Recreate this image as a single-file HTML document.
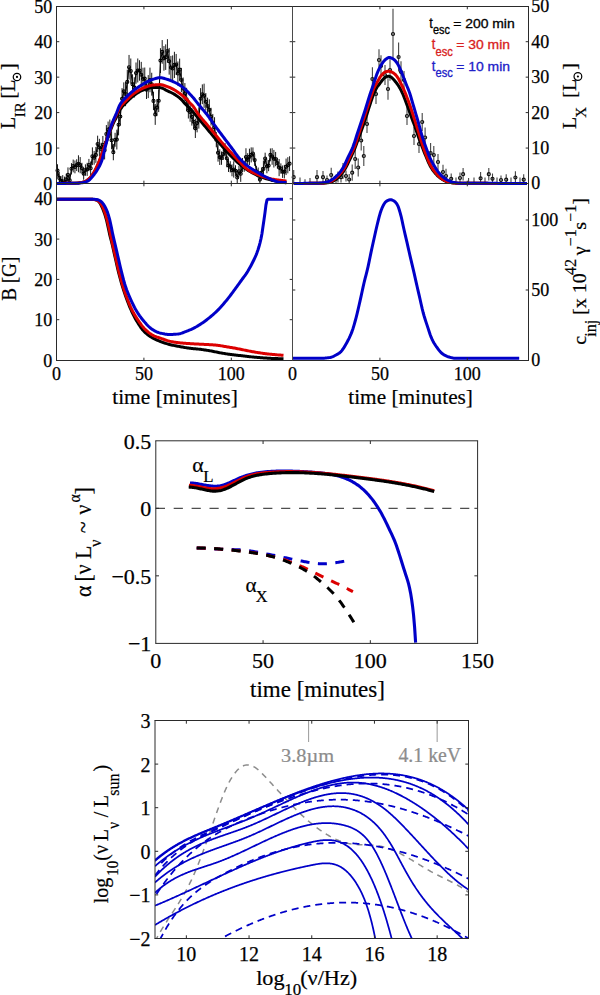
<!DOCTYPE html>
<html><head><meta charset="utf-8"><title>figure</title>
<style>html,body{margin:0;padding:0;background:#fff;overflow:hidden;width:600px;height:995px;} svg{display:block;}</style></head>
<body><svg width="600" height="995" viewBox="0 0 600 995">
<rect width="600" height="995" fill="#fff"/>
<path d="M57.5,164.25V176.6M59.24,171.88V183.5M60.99,175.86V183.5M62.73,175.11V183.5M64.48,176.61V183.5M66.22,173.77V183.5M67.97,167.42V182.02M69.71,175.26V183.5M71.46,163.14V174.47M73.2,159.59V172.35M74.95,160.51V173.34M76.69,159.27V171.06M78.44,155.29V172.26M80.18,157.07V173.26M81.93,162.81V173.59M83.67,167.62V179.72M85.42,164.33V175.81M87.16,162.82V175.92M88.91,158.91V171.21M90.65,161.51V175.08M92.4,147.38V165.13M94.14,150.92V164.69M95.89,146.92V162.87M97.63,135.67V152.32M99.38,138.81V156.23M101.12,142.72V155.11M102.87,135.98V153.61M104.61,140.91V159.43M106.36,125.07V142.78M108.1,121.55V137.47M109.85,119.56V138.27M111.59,131.4V149.25M113.34,143.99V160.27M115.08,132.81V146.71M116.83,129.7V149.47M118.57,114.26V135.38M120.32,107.42V125.61M122.06,88.15V109.31M123.81,82.36V100.34M125.55,81.74V106.18M127.3,69.69V94.13M129.04,54.94V79.55M130.79,58.49V83.61M132.53,74.3V94.04M134.28,77.29V97.56M136.02,62.49V83.76M137.77,58.48V82.48M139.51,60.24V80.68M141.26,61.86V87.56M143,67.73V89.95M144.75,67.52V89.64M146.49,80.39V99M148.24,75.1V98.12M149.98,67.63V92.25M151.73,72.75V95.62M153.47,91.69V110.14M155.22,103.94V124.89M156.96,99.02V116.13M158.71,89.47V112.09M160.45,48.16V73.04M162.2,40.07V63.76M163.94,46.06V70.68M165.69,44.36V69.93M167.43,39.18V62.74M169.18,47.94V74.63M170.92,55.92V78.98M172.67,55.4V81.69M174.41,51.79V78.04M176.16,53.95V75.04M177.9,61.46V85.52M179.65,58.64V80.7M181.39,67.9V92.07M183.14,77.52V99.35M184.88,83.06V103.79M186.63,87.79V111.02M188.37,102.3V118.5M190.12,102.17V121.76M191.86,108.13V125.6M193.61,114.28V129.19M195.35,118.67V138.01M197.1,113.84V132.35M198.84,107.25V128.62M200.59,88.13V109.32M202.33,84.38V104.17M204.08,83.67V107.9M205.82,93.03V110.51M207.57,97.65V114.26M209.31,99.34V120.38M211.06,107.79V125.59M212.8,113.95V131.1M214.55,117.22V137.53M216.29,132.05V147.24M218.04,143.76V161.63M219.78,149.31V165M221.53,151.44V164.8M223.27,148.1V159.96M225.02,142.95V156.55M226.76,149.38V167.24M228.51,158.81V171.98M230.25,161.19V172.49M232,164.34V176.27M233.74,161.31V177.58M235.49,165.25V176.19M237.23,170.17V183.5M238.98,165.98V176.65M240.72,165.58V181.86M242.47,157.98V172.08M244.21,161.25V171.75M245.96,148.24V165.97M247.7,153.16V166.55M249.45,148.67V165.01M251.19,147.36V162.42M252.94,147.43V159.58M254.68,154.29V165.88M256.43,165.85V176.62M258.17,167.55V178.25M259.92,174.97V183.5M261.66,167.51V177.44M263.41,160.55V177.22M265.15,152.7V164.34M266.9,159.47V173.27M268.64,160.05V171.18M270.39,148.44V161.32M272.13,148.2V164.79M273.88,149.91V167.52M275.62,151.94V166.2M277.37,157.81V168.39M279.11,159V176.16M280.86,163.36V173.69M282.6,165.51V177.94M284.35,164.89V178.39M286.09,158.58V175.06M287.84,157.19V173.34M289.58,156.24V171.03" stroke="#1a1a1a" stroke-width="1.0" fill="none"/>
<path d="M57.5,170.43 59.24,177.88 60.99,180.89 62.73,181.31 64.48,182.79 66.22,179.35 67.97,174.72 69.71,180.24 71.46,168.8 73.2,165.97 74.95,166.93 76.69,165.17 78.44,163.77 80.18,165.16 81.93,168.2 83.67,173.67 85.42,170.07 87.16,169.37 88.91,165.06 90.65,168.29 92.4,156.25 94.14,157.81 95.89,154.9 97.63,144 99.38,147.52 101.12,148.91 102.87,144.8 104.61,150.17 106.36,133.93 108.1,129.51 109.85,128.91 111.59,140.32 113.34,152.13 115.08,139.76 116.83,139.59 118.57,124.82 120.32,116.51 122.06,98.73 123.81,91.35 125.55,93.96 127.3,81.91 129.04,67.25 130.79,71.05 132.53,84.17 134.28,87.42 136.02,73.12 137.77,70.48 139.51,70.46 141.26,74.71 143,78.84 144.75,78.58 146.49,89.7 148.24,86.61 149.98,79.94 151.73,84.18 153.47,100.91 155.22,114.41 156.96,107.58 158.71,100.78 160.45,60.6 162.2,51.92 163.94,58.37 165.69,57.15 167.43,50.96 169.18,61.29 170.92,67.45 172.67,68.54 174.41,64.92 176.16,64.49 177.9,73.49 179.65,69.67 181.39,79.99 183.14,88.43 184.88,93.42 186.63,99.4 188.37,110.4 190.12,111.97 191.86,116.87 193.61,121.73 195.35,128.34 197.1,123.1 198.84,117.94 200.59,98.73 202.33,94.28 204.08,95.78 205.82,101.77 207.57,105.95 209.31,109.86 211.06,116.69 212.8,122.53 214.55,127.38 216.29,139.64 218.04,152.7 219.78,157.15 221.53,158.12 223.27,154.03 225.02,149.75 226.76,158.31 228.51,165.4 230.25,166.84 232,170.31 233.74,169.45 235.49,170.72 237.23,177.47 238.98,171.31 240.72,173.72 242.47,165.03 244.21,166.5 245.96,157.1 247.7,159.86 249.45,156.84 251.19,154.89 252.94,153.51 254.68,160.08 256.43,171.23 258.17,172.9 259.92,179.6 261.66,172.47 263.41,168.89 265.15,158.52 266.9,166.37 268.64,165.62 270.39,154.88 272.13,156.5 273.88,158.71 275.62,159.07 277.37,163.1 279.11,167.58 280.86,168.52 282.6,171.73 284.35,171.64 286.09,166.82 287.84,165.26 289.58,163.63" fill="none" stroke="#000" stroke-width="1.1" stroke-linejoin="round" />
<g fill="none" stroke="#000" stroke-width="1.1"><circle cx="57.5" cy="170.43" r="1.5"/><circle cx="59.24" cy="177.88" r="1.5"/><circle cx="60.99" cy="180.89" r="1.5"/><circle cx="62.73" cy="181.31" r="1.5"/><circle cx="64.48" cy="182.79" r="1.5"/><circle cx="66.22" cy="179.35" r="1.5"/><circle cx="67.97" cy="174.72" r="1.5"/><circle cx="69.71" cy="180.24" r="1.5"/><circle cx="71.46" cy="168.8" r="1.5"/><circle cx="73.2" cy="165.97" r="1.5"/><circle cx="74.95" cy="166.93" r="1.5"/><circle cx="76.69" cy="165.17" r="1.5"/><circle cx="78.44" cy="163.77" r="1.5"/><circle cx="80.18" cy="165.16" r="1.5"/><circle cx="81.93" cy="168.2" r="1.5"/><circle cx="83.67" cy="173.67" r="1.5"/><circle cx="85.42" cy="170.07" r="1.5"/><circle cx="87.16" cy="169.37" r="1.5"/><circle cx="88.91" cy="165.06" r="1.5"/><circle cx="90.65" cy="168.29" r="1.5"/><circle cx="92.4" cy="156.25" r="1.5"/><circle cx="94.14" cy="157.81" r="1.5"/><circle cx="95.89" cy="154.9" r="1.5"/><circle cx="97.63" cy="144" r="1.5"/><circle cx="99.38" cy="147.52" r="1.5"/><circle cx="101.12" cy="148.91" r="1.5"/><circle cx="102.87" cy="144.8" r="1.5"/><circle cx="104.61" cy="150.17" r="1.5"/><circle cx="106.36" cy="133.93" r="1.5"/><circle cx="108.1" cy="129.51" r="1.5"/><circle cx="109.85" cy="128.91" r="1.5"/><circle cx="111.59" cy="140.32" r="1.5"/><circle cx="113.34" cy="152.13" r="1.5"/><circle cx="115.08" cy="139.76" r="1.5"/><circle cx="116.83" cy="139.59" r="1.5"/><circle cx="118.57" cy="124.82" r="1.5"/><circle cx="120.32" cy="116.51" r="1.5"/><circle cx="122.06" cy="98.73" r="1.5"/><circle cx="123.81" cy="91.35" r="1.5"/><circle cx="125.55" cy="93.96" r="1.5"/><circle cx="127.3" cy="81.91" r="1.5"/><circle cx="129.04" cy="67.25" r="1.5"/><circle cx="130.79" cy="71.05" r="1.5"/><circle cx="132.53" cy="84.17" r="1.5"/><circle cx="134.28" cy="87.42" r="1.5"/><circle cx="136.02" cy="73.12" r="1.5"/><circle cx="137.77" cy="70.48" r="1.5"/><circle cx="139.51" cy="70.46" r="1.5"/><circle cx="141.26" cy="74.71" r="1.5"/><circle cx="143" cy="78.84" r="1.5"/><circle cx="144.75" cy="78.58" r="1.5"/><circle cx="146.49" cy="89.7" r="1.5"/><circle cx="148.24" cy="86.61" r="1.5"/><circle cx="149.98" cy="79.94" r="1.5"/><circle cx="151.73" cy="84.18" r="1.5"/><circle cx="153.47" cy="100.91" r="1.5"/><circle cx="155.22" cy="114.41" r="1.5"/><circle cx="156.96" cy="107.58" r="1.5"/><circle cx="158.71" cy="100.78" r="1.5"/><circle cx="160.45" cy="60.6" r="1.5"/><circle cx="162.2" cy="51.92" r="1.5"/><circle cx="163.94" cy="58.37" r="1.5"/><circle cx="165.69" cy="57.15" r="1.5"/><circle cx="167.43" cy="50.96" r="1.5"/><circle cx="169.18" cy="61.29" r="1.5"/><circle cx="170.92" cy="67.45" r="1.5"/><circle cx="172.67" cy="68.54" r="1.5"/><circle cx="174.41" cy="64.92" r="1.5"/><circle cx="176.16" cy="64.49" r="1.5"/><circle cx="177.9" cy="73.49" r="1.5"/><circle cx="179.65" cy="69.67" r="1.5"/><circle cx="181.39" cy="79.99" r="1.5"/><circle cx="183.14" cy="88.43" r="1.5"/><circle cx="184.88" cy="93.42" r="1.5"/><circle cx="186.63" cy="99.4" r="1.5"/><circle cx="188.37" cy="110.4" r="1.5"/><circle cx="190.12" cy="111.97" r="1.5"/><circle cx="191.86" cy="116.87" r="1.5"/><circle cx="193.61" cy="121.73" r="1.5"/><circle cx="195.35" cy="128.34" r="1.5"/><circle cx="197.1" cy="123.1" r="1.5"/><circle cx="198.84" cy="117.94" r="1.5"/><circle cx="200.59" cy="98.73" r="1.5"/><circle cx="202.33" cy="94.28" r="1.5"/><circle cx="204.08" cy="95.78" r="1.5"/><circle cx="205.82" cy="101.77" r="1.5"/><circle cx="207.57" cy="105.95" r="1.5"/><circle cx="209.31" cy="109.86" r="1.5"/><circle cx="211.06" cy="116.69" r="1.5"/><circle cx="212.8" cy="122.53" r="1.5"/><circle cx="214.55" cy="127.38" r="1.5"/><circle cx="216.29" cy="139.64" r="1.5"/><circle cx="218.04" cy="152.7" r="1.5"/><circle cx="219.78" cy="157.15" r="1.5"/><circle cx="221.53" cy="158.12" r="1.5"/><circle cx="223.27" cy="154.03" r="1.5"/><circle cx="225.02" cy="149.75" r="1.5"/><circle cx="226.76" cy="158.31" r="1.5"/><circle cx="228.51" cy="165.4" r="1.5"/><circle cx="230.25" cy="166.84" r="1.5"/><circle cx="232" cy="170.31" r="1.5"/><circle cx="233.74" cy="169.45" r="1.5"/><circle cx="235.49" cy="170.72" r="1.5"/><circle cx="237.23" cy="177.47" r="1.5"/><circle cx="238.98" cy="171.31" r="1.5"/><circle cx="240.72" cy="173.72" r="1.5"/><circle cx="242.47" cy="165.03" r="1.5"/><circle cx="244.21" cy="166.5" r="1.5"/><circle cx="245.96" cy="157.1" r="1.5"/><circle cx="247.7" cy="159.86" r="1.5"/><circle cx="249.45" cy="156.84" r="1.5"/><circle cx="251.19" cy="154.89" r="1.5"/><circle cx="252.94" cy="153.51" r="1.5"/><circle cx="254.68" cy="160.08" r="1.5"/><circle cx="256.43" cy="171.23" r="1.5"/><circle cx="258.17" cy="172.9" r="1.5"/><circle cx="259.92" cy="179.6" r="1.5"/><circle cx="261.66" cy="172.47" r="1.5"/><circle cx="263.41" cy="168.89" r="1.5"/><circle cx="265.15" cy="158.52" r="1.5"/><circle cx="266.9" cy="166.37" r="1.5"/><circle cx="268.64" cy="165.62" r="1.5"/><circle cx="270.39" cy="154.88" r="1.5"/><circle cx="272.13" cy="156.5" r="1.5"/><circle cx="273.88" cy="158.71" r="1.5"/><circle cx="275.62" cy="159.07" r="1.5"/><circle cx="277.37" cy="163.1" r="1.5"/><circle cx="279.11" cy="167.58" r="1.5"/><circle cx="280.86" cy="168.52" r="1.5"/><circle cx="282.6" cy="171.73" r="1.5"/><circle cx="284.35" cy="171.64" r="1.5"/><circle cx="286.09" cy="166.82" r="1.5"/><circle cx="287.84" cy="165.26" r="1.5"/><circle cx="289.58" cy="163.63" r="1.5"/></g>
<path d="M56.5,183.4 57.5,183.4 58.5,183.4 59.5,183.4 60.5,183.39 61.5,183.39 62.5,183.38 63.5,183.37 64.5,183.37 65.5,183.36 66.5,183.35 67.5,183.33 68.5,183.32 69.5,183.31 70.5,183.29 71.5,183.27 72.5,183.25 73.5,183.23 74.5,183.21 75.5,183.18 76.5,183.12 77.5,183.03 78.5,182.91 79.5,182.77 80.5,182.62 81.5,182.43 82.5,182.19 83.5,181.91 84.5,181.58 85.5,181.21 86.5,180.76 87.5,180.14 88.5,179.37 89.5,178.48 90.5,177.48 91.5,176.26 92.5,174.85 93.5,173.31 94.5,171.65 95.5,169.8 96.5,167.77 97.5,165.61 98.5,163.35 99.5,160.91 100.5,158.32 101.5,155.64 102.5,152.82 103.5,149.93 104.5,147.08 105.5,144.25 106.5,141.42 107.5,138.57 108.5,135.68 109.5,132.86 110.5,130.18 111.5,127.59 112.5,125.14 113.5,122.92 114.5,120.91 115.5,118.99 116.5,117 117.5,114.77 118.5,112.44 119.5,110.35 120.5,108.76 121.5,107.43 122.5,106.24 123.5,105.16 124.5,104.15 125.5,103.18 126.5,102.2 127.5,101.2 128.5,100.23 129.5,99.27 130.5,98.35 131.5,97.47 132.5,96.64 133.5,95.85 134.5,95.08 135.5,94.34 136.5,93.63 137.5,92.95 138.5,92.33 139.5,91.76 140.5,91.25 141.5,90.76 142.5,90.3 143.5,89.88 144.5,89.49 145.5,89.14 146.5,88.85 147.5,88.6 148.5,88.34 149.5,88.1 150.5,87.89 151.5,87.73 152.5,87.63 153.5,87.6 154.5,87.6 155.5,87.6 156.5,87.6 157.5,87.6 158.5,87.6 159.5,87.6 160.5,87.63 161.5,87.85 162.5,88.24 163.5,88.75 164.5,89.31 165.5,89.88 166.5,90.41 167.5,90.86 168.5,91.32 169.5,91.78 170.5,92.25 171.5,92.74 172.5,93.26 173.5,93.81 174.5,94.4 175.5,95.02 176.5,95.67 177.5,96.36 178.5,97.1 179.5,97.88 180.5,98.75 181.5,99.76 182.5,100.87 183.5,102.02 184.5,103.15 185.5,104.2 186.5,105.16 187.5,106.09 188.5,107.02 189.5,107.99 190.5,109.03 191.5,110.14 192.5,111.29 193.5,112.47 194.5,113.68 195.5,114.9 196.5,116.13 197.5,117.34 198.5,118.54 199.5,119.72 200.5,120.91 201.5,122.1 202.5,123.29 203.5,124.48 204.5,125.67 205.5,126.86 206.5,128.06 207.5,129.26 208.5,130.48 209.5,131.7 210.5,132.92 211.5,134.14 212.5,135.35 213.5,136.54 214.5,137.72 215.5,138.87 216.5,140.01 217.5,141.13 218.5,142.24 219.5,143.34 220.5,144.43 221.5,145.53 222.5,146.62 223.5,147.72 224.5,148.83 225.5,149.95 226.5,151.08 227.5,152.19 228.5,153.3 229.5,154.39 230.5,155.46 231.5,156.5 232.5,157.51 233.5,158.51 234.5,159.5 235.5,160.47 236.5,161.42 237.5,162.34 238.5,163.23 239.5,164.09 240.5,164.91 241.5,165.7 242.5,166.48 243.5,167.23 244.5,167.96 245.5,168.67 246.5,169.35 247.5,170 248.5,170.62 249.5,171.22 250.5,171.81 251.5,172.37 252.5,172.92 253.5,173.44 254.5,173.95 255.5,174.44 256.5,174.91 257.5,175.36 258.5,175.8 259.5,176.23 260.5,176.64 261.5,177.04 262.5,177.42 263.5,177.79 264.5,178.13 265.5,178.46 266.5,178.78 267.5,179.08 268.5,179.37 269.5,179.65 270.5,179.92 271.5,180.18 272.5,180.42 273.5,180.64 274.5,180.86 275.5,181.08 276.5,181.28 277.5,181.48 278.5,181.67 279.5,181.85 280.5,182.02 281.5,182.18 282.5,182.33 283.5,182.47 284.5,182.59 285.5,182.7 286.5,182.8" fill="none" stroke="#000" stroke-width="3" stroke-linejoin="round" />
<path d="M56.5,183.4 57.5,183.4 58.5,183.4 59.5,183.4 60.5,183.39 61.5,183.39 62.5,183.38 63.5,183.37 64.5,183.37 65.5,183.36 66.5,183.35 67.5,183.33 68.5,183.32 69.5,183.31 70.5,183.29 71.5,183.27 72.5,183.25 73.5,183.23 74.5,183.21 75.5,183.18 76.5,183.12 77.5,183.03 78.5,182.91 79.5,182.77 80.5,182.62 81.5,182.43 82.5,182.2 83.5,181.92 84.5,181.59 85.5,181.21 86.5,180.75 87.5,180.09 88.5,179.26 89.5,178.3 90.5,177.26 91.5,176.02 92.5,174.59 93.5,173.02 94.5,171.33 95.5,169.43 96.5,167.34 97.5,165.13 98.5,162.84 99.5,160.4 100.5,157.82 101.5,155.15 102.5,152.35 103.5,149.46 104.5,146.53 105.5,143.53 106.5,140.51 107.5,137.49 108.5,134.43 109.5,131.44 110.5,128.59 111.5,125.83 112.5,123.22 113.5,120.84 114.5,118.65 115.5,116.57 116.5,114.5 117.5,112.3 118.5,110.08 119.5,108.11 120.5,106.59 121.5,105.29 122.5,104.14 123.5,103.1 124.5,102.11 125.5,101.16 126.5,100.2 127.5,99.21 128.5,98.23 129.5,97.27 130.5,96.34 131.5,95.46 132.5,94.62 133.5,93.85 134.5,93.12 135.5,92.42 136.5,91.76 137.5,91.13 138.5,90.53 139.5,89.97 140.5,89.44 141.5,88.92 142.5,88.43 143.5,87.96 144.5,87.53 145.5,87.13 146.5,86.77 147.5,86.44 148.5,86.11 149.5,85.8 150.5,85.52 151.5,85.29 152.5,85.1 153.5,84.98 154.5,84.89 155.5,84.8 156.5,84.73 157.5,84.67 158.5,84.63 159.5,84.6 160.5,84.62 161.5,84.74 162.5,84.97 163.5,85.27 164.5,85.61 165.5,85.98 166.5,86.33 167.5,86.68 168.5,87.06 169.5,87.47 170.5,87.92 171.5,88.39 172.5,88.89 173.5,89.41 174.5,89.97 175.5,90.58 176.5,91.22 177.5,91.9 178.5,92.61 179.5,93.33 180.5,94.07 181.5,94.83 182.5,95.61 183.5,96.42 184.5,97.28 185.5,98.17 186.5,99.11 187.5,100.13 188.5,101.28 189.5,102.44 190.5,103.53 191.5,104.54 192.5,105.57 193.5,106.75 194.5,108.18 195.5,109.78 196.5,111.44 197.5,113.04 198.5,114.47 199.5,115.77 200.5,117.02 201.5,118.21 202.5,119.37 203.5,120.51 204.5,121.64 205.5,122.79 206.5,123.96 207.5,125.16 208.5,126.36 209.5,127.56 210.5,128.77 211.5,129.98 212.5,131.18 213.5,132.39 214.5,133.6 215.5,134.8 216.5,136.02 217.5,137.25 218.5,138.47 219.5,139.69 220.5,140.91 221.5,142.1 222.5,143.28 223.5,144.43 224.5,145.55 225.5,146.65 226.5,147.74 227.5,148.81 228.5,149.88 229.5,150.94 230.5,152.01 231.5,153.08 232.5,154.17 233.5,155.28 234.5,156.39 235.5,157.5 236.5,158.6 237.5,159.69 238.5,160.76 239.5,161.8 240.5,162.8 241.5,163.83 242.5,164.85 243.5,165.87 244.5,166.85 245.5,167.79 246.5,168.66 247.5,169.44 248.5,170.13 249.5,170.74 250.5,171.31 251.5,171.84 252.5,172.33 253.5,172.8 254.5,173.25 255.5,173.69 256.5,174.11 257.5,174.54 258.5,174.96 259.5,175.36 260.5,175.76 261.5,176.13 262.5,176.49 263.5,176.83 264.5,177.15 265.5,177.45 266.5,177.73 267.5,178 268.5,178.26 269.5,178.51 270.5,178.74 271.5,178.96 272.5,179.15 273.5,179.33 274.5,179.49 275.5,179.64 276.5,179.77 277.5,179.9 278.5,180.02 279.5,180.14 280.5,180.26 281.5,180.39 282.5,180.53 283.5,180.68 284.5,180.84 285.5,181.02 286.5,181.2" fill="none" stroke="#dc0000" stroke-width="3" stroke-linejoin="round" />
<path d="M56.5,183.4 57.5,183.4 58.5,183.4 59.5,183.4 60.5,183.4 61.5,183.39 62.5,183.39 63.5,183.39 64.5,183.38 65.5,183.38 66.5,183.37 67.5,183.37 68.5,183.36 69.5,183.35 70.5,183.34 71.5,183.34 72.5,183.33 73.5,183.32 74.5,183.31 75.5,183.29 76.5,183.26 77.5,183.21 78.5,183.14 79.5,183.06 80.5,182.96 81.5,182.86 82.5,182.73 83.5,182.55 84.5,182.31 85.5,182.01 86.5,181.66 87.5,181.24 88.5,180.68 89.5,179.85 90.5,178.82 91.5,177.66 92.5,176.43 93.5,175.2 94.5,173.95 95.5,172.6 96.5,171.15 97.5,169.57 98.5,167.86 99.5,166 100.5,163.92 101.5,161.49 102.5,158.46 103.5,154.28 104.5,150.11 105.5,146.22 106.5,142.3 107.5,138.14 108.5,134.2 109.5,130.79 110.5,127.69 111.5,124.87 112.5,122.24 113.5,119.78 114.5,117.49 115.5,115.29 116.5,113.03 117.5,110.51 118.5,107.82 119.5,105.43 120.5,103.71 121.5,102.29 122.5,101.04 123.5,99.92 124.5,98.89 125.5,97.9 126.5,96.9 127.5,95.89 128.5,94.92 129.5,93.97 130.5,93.06 131.5,92.19 132.5,91.35 133.5,90.54 134.5,89.77 135.5,89.04 136.5,88.33 137.5,87.65 138.5,86.98 139.5,86.32 140.5,85.68 141.5,85.03 142.5,84.4 143.5,83.78 144.5,83.19 145.5,82.63 146.5,82.1 147.5,81.61 148.5,81.12 149.5,80.66 150.5,80.22 151.5,79.81 152.5,79.45 153.5,79.14 154.5,78.84 155.5,78.53 156.5,78.24 157.5,78 158.5,77.82 159.5,77.71 160.5,77.71 161.5,77.82 162.5,78.01 163.5,78.25 164.5,78.54 165.5,78.85 166.5,79.14 167.5,79.44 168.5,79.77 169.5,80.13 170.5,80.51 171.5,80.92 172.5,81.35 173.5,81.79 174.5,82.25 175.5,82.74 176.5,83.25 177.5,83.8 178.5,84.37 179.5,84.98 180.5,85.63 181.5,86.33 182.5,87.08 183.5,87.88 184.5,88.73 185.5,89.6 186.5,90.51 187.5,91.49 188.5,92.55 189.5,93.66 190.5,94.73 191.5,95.8 192.5,96.89 193.5,98.04 194.5,99.27 195.5,100.56 196.5,101.88 197.5,103.19 198.5,104.45 199.5,105.66 200.5,106.83 201.5,108 202.5,109.15 203.5,110.31 204.5,111.49 205.5,112.69 206.5,113.94 207.5,115.25 208.5,116.6 209.5,118 210.5,119.42 211.5,120.85 212.5,122.28 213.5,123.71 214.5,125.11 215.5,126.48 216.5,127.84 217.5,129.18 218.5,130.52 219.5,131.85 220.5,133.18 221.5,134.51 222.5,135.84 223.5,137.17 224.5,138.49 225.5,139.82 226.5,141.14 227.5,142.46 228.5,143.78 229.5,145.09 230.5,146.41 231.5,147.74 232.5,149.08 233.5,150.46 234.5,151.87 235.5,153.27 236.5,154.65 237.5,155.99 238.5,157.26 239.5,158.45 240.5,159.53 241.5,160.56 242.5,161.55 243.5,162.5 244.5,163.41 245.5,164.27 246.5,165.1 247.5,165.89 248.5,166.65 249.5,167.36 250.5,168.04 251.5,168.68 252.5,169.3 253.5,169.91 254.5,170.5 255.5,171.09 256.5,171.68 257.5,172.28 258.5,172.87 259.5,173.46 260.5,174.04 261.5,174.61 262.5,175.17 263.5,175.72 264.5,176.24 265.5,176.75 266.5,177.26 267.5,177.76 268.5,178.25 269.5,178.73 270.5,179.18 271.5,179.61 272.5,180.01 273.5,180.37 274.5,180.72 275.5,181.08 276.5,181.41 277.5,181.71 278.5,181.96 279.5,182.14 280.5,182.25 281.5,182.34 282.5,182.43 283.5,182.5 284.5,182.55 285.5,182.59 286.5,182.6" fill="none" stroke="#0000c8" stroke-width="3" stroke-linejoin="round" />
<path d="M293.7,170V183.5M300,177.4V183.5M305,179.3V183.5M310,177.9V183.5M317,170V183.5M323,170.9V183.5M327,175.5V183.5M331.2,167.8V182.2M336,174.5V183.5M338,171.6V182.4M341,171.8V182.6M343,162.9V179.1M346,170.6V181.4M349.2,174.1V183.5M352.2,164.6V180.8M355.2,149.1V168.9M358.2,158.5V176.5M361.2,130.6V150.4M363.8,146.1V165.9M367,115V133M372.4,67.3V90.7M376,84.1V103.9M379,49.2V70.8M381,55.2V76.8M385,65.1V84.9M388,78.2V99.8M390,59.2V80.8M393,8.8V59.2M398.6,42.6V71.4M401,61.2V82.8M404,71V89M407,107V125M414,127V145M419,135V153M422.2,113V131M425.1,127.6V147.4M430.6,143.1V162.9M433.8,146V164M438,153.9V170.1M443,164.8V179.2M446,168.8V183.2M451.2,173.4V183.5M456,177.4V183.5M460,172.6V183.4M463.1,167.9V180.5M468.6,178V183.5M474,177.4V183.5M480.6,172V183.5M485,177.4V183.5M488.8,167.9V180.5M492.5,173.4V183.5M497,177.4V183.5M501,175.5V183.5M506.2,174.3V183.5M511,177.4V183.5M515.4,171.2V183.5M520,177.4V183.5M523.7,174.3V183.5" stroke="#444" stroke-width="1.1" fill="none"/>
<g fill="none" stroke="#111" stroke-width="1.2"><circle cx="293.7" cy="177.2" r="1.5"/><circle cx="317" cy="177.2" r="1.5"/><circle cx="323" cy="177.2" r="1.5"/><circle cx="327" cy="180" r="1.5"/><circle cx="331.2" cy="175" r="1.5"/><circle cx="336" cy="179" r="1.5"/><circle cx="338" cy="177" r="1.5"/><circle cx="341" cy="177.2" r="1.5"/><circle cx="343" cy="171" r="1.5"/><circle cx="346" cy="176" r="1.5"/><circle cx="349.2" cy="179.5" r="1.5"/><circle cx="352.2" cy="172.7" r="1.5"/><circle cx="355.2" cy="159" r="1.5"/><circle cx="358.2" cy="167.5" r="1.5"/><circle cx="361.2" cy="140.5" r="1.5"/><circle cx="363.8" cy="156" r="1.5"/><circle cx="367" cy="124" r="1.5"/><circle cx="372.4" cy="79" r="1.5"/><circle cx="376" cy="94" r="1.5"/><circle cx="379" cy="60" r="1.5"/><circle cx="381" cy="66" r="1.5"/><circle cx="385" cy="75" r="1.5"/><circle cx="388" cy="89" r="1.5"/><circle cx="390" cy="70" r="1.5"/><circle cx="393" cy="34" r="1.5"/><circle cx="398.6" cy="57" r="1.5"/><circle cx="401" cy="72" r="1.5"/><circle cx="404" cy="80" r="1.5"/><circle cx="407" cy="116" r="1.5"/><circle cx="414" cy="136" r="1.5"/><circle cx="419" cy="144" r="1.5"/><circle cx="422.2" cy="122" r="1.5"/><circle cx="425.1" cy="137.5" r="1.5"/><circle cx="430.6" cy="153" r="1.5"/><circle cx="433.8" cy="155" r="1.5"/><circle cx="438" cy="162" r="1.5"/><circle cx="443" cy="172" r="1.5"/><circle cx="446" cy="176" r="1.5"/><circle cx="451.2" cy="178.8" r="1.5"/><circle cx="460" cy="178" r="1.5"/><circle cx="463.1" cy="174.2" r="1.5"/><circle cx="480.6" cy="178.3" r="1.5"/><circle cx="488.8" cy="174.2" r="1.5"/><circle cx="492.5" cy="178.8" r="1.5"/><circle cx="501" cy="180" r="1.5"/><circle cx="506.2" cy="179.7" r="1.5"/><circle cx="515.4" cy="177.5" r="1.5"/><circle cx="523.7" cy="179.7" r="1.5"/></g>
<path d="M293.8,183.4 294.8,183.4 295.8,183.4 296.8,183.4 297.8,183.4 298.8,183.4 299.81,183.4 300.81,183.4 301.81,183.39 302.81,183.39 303.81,183.39 304.81,183.39 305.81,183.39 306.81,183.38 307.81,183.38 308.81,183.38 309.81,183.37 310.81,183.37 311.82,183.36 312.82,183.36 313.82,183.35 314.82,183.35 315.82,183.34 316.82,183.34 317.82,183.33 318.82,183.32 319.82,183.32 320.82,183.31 321.82,183.3 322.82,183.28 323.83,183.22 324.83,183.13 325.83,183.01 326.83,182.86 327.83,182.69 328.83,182.49 329.83,182.27 330.83,182.04 331.83,181.74 332.83,181.3 333.83,180.75 334.84,180.1 335.84,179.38 336.84,178.62 337.84,177.81 338.84,176.88 339.84,175.84 340.84,174.69 341.84,173.45 342.84,172.12 343.84,170.73 344.84,169.19 345.84,167.44 346.85,165.52 347.85,163.48 348.85,161.4 349.85,159.31 350.85,157.25 351.85,155.15 352.85,152.98 353.85,150.73 354.85,148.36 355.85,145.81 356.85,143.06 357.85,140.22 358.86,137.4 359.86,134.66 360.86,131.95 361.86,129.21 362.86,126.4 363.86,123.5 364.86,120.52 365.86,117.49 366.86,114.42 367.86,111.3 368.86,108.1 369.87,104.94 370.87,101.9 371.87,98.92 372.87,96.11 373.87,93.6 374.87,91.24 375.87,89.14 376.87,87.4 377.87,85.99 378.87,84.73 379.87,83.47 380.87,82.11 381.88,80.76 382.88,79.56 383.88,78.43 384.88,77.57 385.88,77.03 386.88,76.59 387.88,76.33 388.88,76.34 389.88,76.58 390.88,76.95 391.88,77.64 392.88,78.74 393.89,79.83 394.89,80.97 395.89,82.2 396.89,83.52 397.89,84.93 398.89,86.45 399.89,88.11 400.89,89.96 401.89,92.03 402.89,94.26 403.89,96.67 404.9,99.29 405.9,101.95 406.9,104.63 407.9,107.35 408.9,110.11 409.9,112.92 410.9,115.73 411.9,118.45 412.9,121.12 413.9,123.81 414.9,126.57 415.9,129.46 416.91,132.4 417.91,135.32 418.91,138.13 419.91,140.89 420.91,143.6 421.91,146.24 422.91,148.83 423.91,151.38 424.91,153.86 425.91,156.29 426.91,158.72 427.92,161.15 428.92,163.43 429.92,165.41 430.92,167.17 431.92,168.8 432.92,170.3 433.92,171.67 434.92,172.91 435.92,174.04 436.92,175.08 437.92,176.05 438.92,176.93 439.93,177.72 440.93,178.45 441.93,179.14 442.93,179.79 443.93,180.38 444.93,180.88 445.93,181.28 446.93,181.6 447.93,181.9 448.93,182.17 449.93,182.41 450.93,182.61 451.94,182.78 452.94,182.89 453.94,182.98 454.94,183.07 455.94,183.14 456.94,183.2 457.94,183.25 458.94,183.28 459.94,183.3 460.94,183.3 461.94,183.31 462.95,183.31 463.95,183.31 464.95,183.32 465.95,183.32 466.95,183.32 467.95,183.33 468.95,183.33 469.95,183.33 470.95,183.34 471.95,183.34 472.95,183.34 473.95,183.35 474.96,183.35 475.96,183.35 476.96,183.35 477.96,183.36 478.96,183.36 479.96,183.36 480.96,183.36 481.96,183.36 482.96,183.37 483.96,183.37 484.96,183.37 485.96,183.37 486.97,183.37 487.97,183.37 488.97,183.38 489.97,183.38 490.97,183.38 491.97,183.38 492.97,183.38 493.97,183.38 494.97,183.38 495.97,183.39 496.97,183.39 497.98,183.39 498.98,183.39 499.98,183.39 500.98,183.39 501.98,183.39 502.98,183.39 503.98,183.39 504.98,183.39 505.98,183.39 506.98,183.39 507.98,183.4 508.98,183.4 509.99,183.4 510.99,183.4 511.99,183.4 512.99,183.4 513.99,183.4 514.99,183.4 515.99,183.4 516.99,183.4 517.99,183.4 518.99,183.4 519.99,183.4 520.99,183.4 522,183.4 523,183.4 524,183.4 525,183.4 526,183.4 527,183.4" fill="none" stroke="#000" stroke-width="3" stroke-linejoin="round" />
<path d="M293.8,183.4 294.8,183.4 295.8,183.4 296.8,183.4 297.8,183.4 298.8,183.4 299.81,183.4 300.81,183.39 301.81,183.39 302.81,183.39 303.81,183.39 304.81,183.39 305.81,183.38 306.81,183.38 307.81,183.38 308.81,183.37 309.81,183.37 310.81,183.36 311.82,183.36 312.82,183.35 313.82,183.35 314.82,183.34 315.82,183.33 316.82,183.33 317.82,183.32 318.82,183.31 319.82,183.3 320.82,183.28 321.82,183.23 322.82,183.14 323.83,183.03 324.83,182.89 325.83,182.72 326.83,182.53 327.83,182.32 328.83,182.09 329.83,181.84 330.83,181.51 331.83,181 332.83,180.34 333.83,179.59 334.84,178.77 335.84,177.94 336.84,177.09 337.84,176.18 338.84,175.19 339.84,174.13 340.84,172.99 341.84,171.76 342.84,170.43 343.84,168.98 344.84,167.27 345.84,165.31 346.85,163.19 347.85,160.98 348.85,158.79 349.85,156.68 350.85,154.64 351.85,152.6 352.85,150.49 353.85,148.23 354.85,145.74 355.85,142.9 356.85,139.78 357.85,136.6 358.86,133.53 359.86,130.53 360.86,127.53 361.86,124.53 362.86,121.52 363.86,118.5 364.86,115.48 365.86,112.45 366.86,109.4 367.86,106.3 368.86,103.19 369.87,100.12 370.87,97.08 371.87,93.94 372.87,90.91 373.87,88.3 374.87,86.22 375.87,84.45 376.87,82.78 377.87,81.03 378.87,79.18 379.87,77.44 380.87,75.99 381.88,74.72 382.88,73.66 383.88,72.86 384.88,72.18 385.88,71.73 386.88,71.51 387.88,71.35 388.88,71.3 389.88,71.44 390.88,71.76 391.88,72.15 392.88,72.63 393.89,73.3 394.89,74.1 395.89,75.1 396.89,76.38 397.89,77.83 398.89,79.52 399.89,81.47 400.89,83.48 401.89,85.47 402.89,87.53 403.89,89.71 404.9,92.1 405.9,94.63 406.9,97.2 407.9,99.8 408.9,102.47 409.9,105.28 410.9,108.21 411.9,111.22 412.9,114.33 413.9,117.49 414.9,120.64 415.9,123.78 416.91,126.94 417.91,130.11 418.91,133.32 419.91,136.63 420.91,139.94 421.91,143.12 422.91,146.09 423.91,148.92 424.91,151.65 425.91,154.28 426.91,156.88 427.92,159.44 428.92,161.83 429.92,163.93 430.92,165.78 431.92,167.51 432.92,169.1 433.92,170.56 434.92,171.9 435.92,173.15 436.92,174.32 437.92,175.4 438.92,176.38 439.93,177.24 440.93,178.01 441.93,178.74 442.93,179.42 443.93,180.02 444.93,180.55 445.93,180.97 446.93,181.33 447.93,181.66 448.93,181.97 449.93,182.24 450.93,182.47 451.94,182.65 452.94,182.79 453.94,182.9 454.94,183.01 455.94,183.1 456.94,183.18 457.94,183.24 458.94,183.28 459.94,183.3 460.94,183.3 461.94,183.31 462.95,183.31 463.95,183.31 464.95,183.32 465.95,183.32 466.95,183.33 467.95,183.33 468.95,183.33 469.95,183.33 470.95,183.34 471.95,183.34 472.95,183.34 473.95,183.35 474.96,183.35 475.96,183.35 476.96,183.35 477.96,183.36 478.96,183.36 479.96,183.36 480.96,183.36 481.96,183.36 482.96,183.37 483.96,183.37 484.96,183.37 485.96,183.37 486.97,183.37 487.97,183.38 488.97,183.38 489.97,183.38 490.97,183.38 491.97,183.38 492.97,183.38 493.97,183.38 494.97,183.38 495.97,183.39 496.97,183.39 497.98,183.39 498.98,183.39 499.98,183.39 500.98,183.39 501.98,183.39 502.98,183.39 503.98,183.39 504.98,183.39 505.98,183.39 506.98,183.4 507.98,183.4 508.98,183.4 509.99,183.4 510.99,183.4 511.99,183.4 512.99,183.4 513.99,183.4 514.99,183.4 515.99,183.4 516.99,183.4 517.99,183.4 518.99,183.4 519.99,183.4 520.99,183.4 522,183.4 523,183.4 524,183.4 525,183.4 526,183.4 527,183.4" fill="none" stroke="#dc0000" stroke-width="3" stroke-linejoin="round" />
<path d="M293.8,183.4 294.8,183.4 295.8,183.4 296.8,183.4 297.8,183.4 298.8,183.39 299.81,183.39 300.81,183.39 301.81,183.38 302.81,183.38 303.81,183.37 304.81,183.36 305.81,183.36 306.81,183.35 307.81,183.34 308.81,183.33 309.81,183.32 310.81,183.31 311.82,183.29 312.82,183.28 313.82,183.27 314.82,183.25 315.82,183.24 316.82,183.22 317.82,183.2 318.82,183.18 319.82,183.12 320.82,183.04 321.82,182.94 322.82,182.82 323.83,182.68 324.83,182.53 325.83,182.34 326.83,182.06 327.83,181.72 328.83,181.32 329.83,180.88 330.83,180.38 331.83,179.78 332.83,179.1 333.83,178.33 334.84,177.51 335.84,176.65 336.84,175.73 337.84,174.72 338.84,173.63 339.84,172.43 340.84,171.14 341.84,169.73 342.84,168.14 343.84,166.29 344.84,164.24 345.84,162.08 346.85,159.88 347.85,157.72 348.85,155.66 349.85,153.63 350.85,151.56 351.85,149.38 352.85,147.02 353.85,144.37 354.85,141.36 355.85,138.2 356.85,135.05 357.85,132.03 358.86,129.03 359.86,126.03 360.86,123.03 361.86,120.03 362.86,117.04 363.86,114.02 364.86,110.95 365.86,107.75 366.86,104.42 367.86,101.08 368.86,97.84 369.87,94.78 370.87,91.83 371.87,88.95 372.87,86.07 373.87,83.1 374.87,80.01 375.87,76.95 376.87,74.09 377.87,71.6 378.87,69.39 379.87,67.35 380.87,65.53 381.88,63.94 382.88,62.47 383.88,61.14 384.88,60.03 385.88,59.21 386.88,58.47 387.88,57.85 388.88,57.52 389.88,57.56 390.88,57.83 391.88,58.25 392.88,58.74 393.89,59.39 394.89,60.32 395.89,61.47 396.89,62.75 397.89,64.33 398.89,66.22 399.89,68.27 400.89,70.52 401.89,73.04 402.89,75.66 403.89,78.23 404.9,80.85 405.9,83.47 406.9,85.97 407.9,88.35 408.9,90.87 409.9,93.78 410.9,97.05 411.9,100.47 412.9,103.85 413.9,107.27 414.9,110.7 415.9,114.09 416.91,117.48 417.91,120.92 418.91,124.47 419.91,128.21 420.91,131.98 421.91,135.54 422.91,138.73 423.91,141.68 424.91,144.49 425.91,147.26 426.91,150.06 427.92,152.86 428.92,155.5 429.92,157.86 430.92,159.95 431.92,161.87 432.92,163.66 433.92,165.37 434.92,167.03 435.92,168.64 436.92,170.16 437.92,171.58 438.92,172.85 439.93,174.01 440.93,175.09 441.93,176.07 442.93,176.94 443.93,177.73 444.93,178.46 445.93,179.13 446.93,179.74 447.93,180.27 448.93,180.74 449.93,181.19 450.93,181.59 451.94,181.92 452.94,182.19 453.94,182.4 454.94,182.6 455.94,182.79 456.94,182.95 457.94,183.07 458.94,183.16 459.94,183.2 460.94,183.21 461.94,183.21 462.95,183.22 463.95,183.23 464.95,183.24 465.95,183.24 466.95,183.25 467.95,183.26 468.95,183.26 469.95,183.27 470.95,183.27 471.95,183.28 472.95,183.29 473.95,183.29 474.96,183.3 475.96,183.3 476.96,183.31 477.96,183.31 478.96,183.32 479.96,183.32 480.96,183.32 481.96,183.33 482.96,183.33 483.96,183.34 484.96,183.34 485.96,183.34 486.97,183.35 487.97,183.35 488.97,183.35 489.97,183.36 490.97,183.36 491.97,183.36 492.97,183.36 493.97,183.37 494.97,183.37 495.97,183.37 496.97,183.37 497.98,183.38 498.98,183.38 499.98,183.38 500.98,183.38 501.98,183.38 502.98,183.38 503.98,183.39 504.98,183.39 505.98,183.39 506.98,183.39 507.98,183.39 508.98,183.39 509.99,183.39 510.99,183.39 511.99,183.39 512.99,183.4 513.99,183.4 514.99,183.4 515.99,183.4 516.99,183.4 517.99,183.4 518.99,183.4 519.99,183.4 520.99,183.4 522,183.4 523,183.4 524,183.4 525,183.4 526,183.4 527,183.4" fill="none" stroke="#0000c8" stroke-width="3" stroke-linejoin="round" />
<path d="M56.5,199.3 57.5,199.3 58.5,199.3 59.5,199.3 60.5,199.3 61.5,199.3 62.5,199.3 63.5,199.3 64.5,199.3 65.5,199.3 66.5,199.3 67.5,199.3 68.5,199.3 69.5,199.3 70.5,199.3 71.5,199.3 72.5,199.3 73.5,199.3 74.5,199.3 75.5,199.3 76.5,199.3 77.5,199.3 78.5,199.3 79.5,199.3 80.5,199.3 81.5,199.3 82.5,199.3 83.5,199.3 84.5,199.3 85.5,199.3 86.5,199.3 87.5,199.3 88.5,199.3 89.5,199.3 90.5,199.3 91.5,199.3 92.5,199.31 93.5,199.38 94.5,199.51 95.5,199.7 96.5,199.96 97.5,200.52 98.5,201.33 99.5,202.39 100.5,204.04 101.5,206 102.5,208.17 103.5,210.66 104.5,213.41 105.5,216.49 106.5,220 107.5,224.29 108.5,229 109.5,233.79 110.5,237.85 111.5,241.58 112.5,245.77 113.5,250.16 114.5,254.56 115.5,259 116.5,263.52 117.5,267.92 118.5,272.02 119.5,275.95 120.5,279.72 121.5,283.3 122.5,286.65 123.5,289.82 124.5,292.83 125.5,295.72 126.5,298.5 127.5,301.2 128.5,303.83 129.5,306.35 130.5,308.75 131.5,311 132.5,313.12 133.5,315.15 134.5,317.08 135.5,318.92 136.5,320.66 137.5,322.32 138.5,323.95 139.5,325.53 140.5,327.03 141.5,328.43 142.5,329.7 143.5,330.82 144.5,331.85 145.5,332.81 146.5,333.71 147.5,334.55 148.5,335.32 149.5,336.03 150.5,336.69 151.5,337.3 152.5,337.87 153.5,338.4 154.5,338.9 155.5,339.38 156.5,339.84 157.5,340.28 158.5,340.72 159.5,341.14 160.5,341.55 161.5,341.94 162.5,342.32 163.5,342.68 164.5,343.03 165.5,343.35 166.5,343.65 167.5,343.93 168.5,344.2 169.5,344.46 170.5,344.71 171.5,344.94 172.5,345.17 173.5,345.39 174.5,345.61 175.5,345.81 176.5,346.01 177.5,346.2 178.5,346.38 179.5,346.56 180.5,346.74 181.5,346.91 182.5,347.09 183.5,347.26 184.5,347.44 185.5,347.61 186.5,347.78 187.5,347.94 188.5,348.1 189.5,348.24 190.5,348.36 191.5,348.47 192.5,348.58 193.5,348.67 194.5,348.76 195.5,348.85 196.5,348.94 197.5,349.03 198.5,349.13 199.5,349.24 200.5,349.36 201.5,349.49 202.5,349.62 203.5,349.76 204.5,349.91 205.5,350.06 206.5,350.22 207.5,350.38 208.5,350.55 209.5,350.71 210.5,350.89 211.5,351.07 212.5,351.27 213.5,351.47 214.5,351.68 215.5,351.89 216.5,352.09 217.5,352.28 218.5,352.47 219.5,352.66 220.5,352.85 221.5,353.03 222.5,353.21 223.5,353.39 224.5,353.56 225.5,353.72 226.5,353.88 227.5,354.02 228.5,354.16 229.5,354.3 230.5,354.43 231.5,354.56 232.5,354.68 233.5,354.81 234.5,354.93 235.5,355.05 236.5,355.17 237.5,355.28 238.5,355.39 239.5,355.5 240.5,355.61 241.5,355.72 242.5,355.83 243.5,355.94 244.5,356.06 245.5,356.17 246.5,356.29 247.5,356.41 248.5,356.53 249.5,356.65 250.5,356.77 251.5,356.88 252.5,356.98 253.5,357.08 254.5,357.17 255.5,357.27 256.5,357.36 257.5,357.45 258.5,357.53 259.5,357.61 260.5,357.69 261.5,357.76 262.5,357.84 263.5,357.9 264.5,357.97 265.5,358.04 266.5,358.1 267.5,358.16 268.5,358.22 269.5,358.28 270.5,358.33 271.5,358.38 272.5,358.42 273.5,358.47 274.5,358.51 275.5,358.55 276.5,358.59 277.5,358.62 278.5,358.66 279.5,358.69 280.5,358.72 281.5,358.75 282.5,358.78 283.5,358.8" fill="none" stroke="#000" stroke-width="3" stroke-linejoin="round" />
<path d="M56.5,199.3 57.5,199.3 58.5,199.3 59.5,199.3 60.5,199.3 61.5,199.3 62.5,199.3 63.5,199.3 64.5,199.3 65.5,199.3 66.5,199.3 67.5,199.3 68.5,199.3 69.5,199.3 70.5,199.3 71.5,199.3 72.5,199.3 73.5,199.3 74.5,199.3 75.5,199.3 76.5,199.3 77.5,199.3 78.5,199.3 79.5,199.3 80.5,199.3 81.5,199.3 82.5,199.3 83.5,199.3 84.5,199.3 85.5,199.3 86.5,199.3 87.5,199.3 88.5,199.3 89.5,199.3 90.5,199.3 91.5,199.3 92.5,199.31 93.5,199.38 94.5,199.52 95.5,199.7 96.5,199.94 97.5,200.43 98.5,201.11 99.5,201.95 100.5,203.15 101.5,204.66 102.5,206.46 103.5,208.82 104.5,211.5 105.5,214.42 106.5,217.71 107.5,221.44 108.5,225.76 109.5,230.29 110.5,235 111.5,239.55 112.5,243.95 113.5,248.25 114.5,252.52 115.5,256.84 116.5,261.24 117.5,265.61 118.5,269.8 119.5,273.79 120.5,277.69 121.5,281.4 122.5,284.87 123.5,288.08 124.5,291.1 125.5,293.97 126.5,296.71 127.5,299.34 128.5,301.92 129.5,304.4 130.5,306.77 131.5,308.97 132.5,310.98 133.5,312.85 134.5,314.61 135.5,316.27 136.5,317.85 137.5,319.37 138.5,320.84 139.5,322.28 140.5,323.7 141.5,325.07 142.5,326.37 143.5,327.59 144.5,328.7 145.5,329.69 146.5,330.61 147.5,331.49 148.5,332.33 149.5,333.11 150.5,333.83 151.5,334.49 152.5,335.08 153.5,335.6 154.5,336.05 155.5,336.45 156.5,336.82 157.5,337.16 158.5,337.49 159.5,337.83 160.5,338.18 161.5,338.54 162.5,338.91 163.5,339.28 164.5,339.64 165.5,339.99 166.5,340.33 167.5,340.65 168.5,340.93 169.5,341.19 170.5,341.41 171.5,341.61 172.5,341.81 173.5,341.99 174.5,342.17 175.5,342.33 176.5,342.48 177.5,342.61 178.5,342.74 179.5,342.85 180.5,342.95 181.5,343.04 182.5,343.12 183.5,343.19 184.5,343.26 185.5,343.32 186.5,343.38 187.5,343.45 188.5,343.51 189.5,343.57 190.5,343.63 191.5,343.7 192.5,343.76 193.5,343.82 194.5,343.88 195.5,343.94 196.5,344 197.5,344.06 198.5,344.12 199.5,344.17 200.5,344.23 201.5,344.28 202.5,344.33 203.5,344.37 204.5,344.42 205.5,344.46 206.5,344.51 207.5,344.56 208.5,344.61 209.5,344.67 210.5,344.73 211.5,344.8 212.5,344.86 213.5,344.94 214.5,345.01 215.5,345.1 216.5,345.19 217.5,345.29 218.5,345.41 219.5,345.55 220.5,345.71 221.5,345.88 222.5,346.06 223.5,346.24 224.5,346.42 225.5,346.58 226.5,346.75 227.5,346.91 228.5,347.07 229.5,347.24 230.5,347.4 231.5,347.57 232.5,347.74 233.5,347.91 234.5,348.09 235.5,348.27 236.5,348.47 237.5,348.66 238.5,348.87 239.5,349.07 240.5,349.28 241.5,349.49 242.5,349.7 243.5,349.9 244.5,350.1 245.5,350.3 246.5,350.5 247.5,350.7 248.5,350.9 249.5,351.1 250.5,351.29 251.5,351.48 252.5,351.66 253.5,351.84 254.5,352.02 255.5,352.19 256.5,352.36 257.5,352.52 258.5,352.68 259.5,352.84 260.5,352.99 261.5,353.13 262.5,353.27 263.5,353.4 264.5,353.53 265.5,353.66 266.5,353.78 267.5,353.9 268.5,354.01 269.5,354.12 270.5,354.22 271.5,354.32 272.5,354.42 273.5,354.51 274.5,354.6 275.5,354.69 276.5,354.78 277.5,354.87 278.5,354.95 279.5,355.02 280.5,355.1 281.5,355.17 282.5,355.24 283.5,355.3" fill="none" stroke="#dc0000" stroke-width="3" stroke-linejoin="round" />
<path d="M56.5,199.3 57.5,199.3 58.5,199.3 59.51,199.3 60.51,199.3 61.51,199.3 62.51,199.3 63.52,199.3 64.52,199.3 65.52,199.3 66.52,199.3 67.52,199.3 68.53,199.3 69.53,199.3 70.53,199.3 71.53,199.3 72.54,199.3 73.54,199.3 74.54,199.3 75.54,199.3 76.54,199.3 77.55,199.3 78.55,199.3 79.55,199.3 80.55,199.3 81.56,199.3 82.56,199.3 83.56,199.3 84.56,199.3 85.56,199.3 86.57,199.3 87.57,199.3 88.57,199.3 89.57,199.3 90.58,199.3 91.58,199.3 92.58,199.3 93.58,199.3 94.58,199.31 95.59,199.39 96.59,199.53 97.59,199.72 98.59,199.98 99.6,200.5 100.6,201.2 101.6,202.02 102.6,203.11 103.6,204.43 104.61,205.96 105.61,207.84 106.61,210.06 107.61,212.65 108.62,215.81 109.62,219.45 110.62,223.81 111.62,228.59 112.62,233.71 113.63,238.09 114.63,242.23 115.63,246.54 116.63,250.9 117.63,255.25 118.64,259.64 119.64,264.05 120.64,268.32 121.64,272.39 122.65,276.4 123.65,280.25 124.65,283.77 125.65,286.86 126.65,289.67 127.66,292.28 128.66,294.73 129.66,297.07 130.66,299.35 131.67,301.56 132.67,303.69 133.67,305.74 134.67,307.68 135.67,309.5 136.68,311.19 137.68,312.81 138.68,314.35 139.68,315.82 140.69,317.21 141.69,318.54 142.69,319.79 143.69,320.98 144.69,322.15 145.7,323.3 146.7,324.41 147.7,325.47 148.7,326.48 149.71,327.41 150.71,328.26 151.71,329.01 152.71,329.66 153.71,330.26 154.72,330.84 155.72,331.37 156.72,331.85 157.72,332.28 158.73,332.64 159.73,332.93 160.73,333.17 161.73,333.39 162.73,333.61 163.74,333.81 164.74,334 165.74,334.16 166.74,334.29 167.75,334.4 168.75,334.47 169.75,334.5 170.75,334.49 171.75,334.47 172.76,334.43 173.76,334.37 174.76,334.3 175.76,334.22 176.77,334.12 177.77,334.02 178.77,333.89 179.77,333.69 180.77,333.41 181.78,333.09 182.78,332.73 183.78,332.35 184.78,331.96 185.79,331.58 186.79,331.21 187.79,330.82 188.79,330.41 189.79,329.98 190.8,329.54 191.8,329.07 192.8,328.6 193.8,328.1 194.81,327.58 195.81,327.04 196.81,326.47 197.81,325.87 198.81,325.26 199.82,324.63 200.82,323.98 201.82,323.32 202.82,322.64 203.83,321.94 204.83,321.22 205.83,320.48 206.83,319.72 207.83,318.94 208.84,318.14 209.84,317.33 210.84,316.51 211.84,315.66 212.85,314.8 213.85,313.92 214.85,313.01 215.85,312.08 216.85,311.13 217.86,310.14 218.86,309.12 219.86,308.07 220.86,306.97 221.87,305.85 222.87,304.7 223.87,303.53 224.87,302.34 225.87,301.13 226.88,299.92 227.88,298.67 228.88,297.4 229.88,296.1 230.88,294.78 231.89,293.45 232.89,292.1 233.89,290.73 234.89,289.33 235.9,287.93 236.9,286.53 237.9,285.15 238.9,283.77 239.9,282.39 240.91,281.01 241.91,279.63 242.91,278.25 243.91,276.9 244.92,275.53 245.92,274.12 246.92,272.61 247.92,271.01 248.92,269.31 249.93,267.54 250.93,265.71 251.93,263.79 252.93,261.79 253.94,259.72 254.94,257.6 255.94,255.36 256.94,252.86 257.94,250.02 258.95,246.81 259.95,243.1 260.95,238.86 261.95,233.73 262.96,226.83 263.96,219.96 264.96,212.84 265.96,204.91 266.96,200.16 267.97,199.2 268.97,199.2 269.97,199.2 270.97,199.2 271.98,199.2 272.98,199.2 273.98,199.2 274.98,199.2 275.98,199.2 276.99,199.2 277.99,199.2 278.99,199.2 279.99,199.2 281,199.2 282,199.2 283,199.2" fill="none" stroke="#0000c8" stroke-width="3" stroke-linejoin="round" />
<path d="M292,358.3 293,358.3 294,358.3 295,358.3 296,358.3 297,358.3 298.01,358.3 299.01,358.3 300.01,358.3 301.01,358.3 302.01,358.3 303.01,358.3 304.01,358.3 305.01,358.3 306.01,358.3 307.01,358.3 308.01,358.3 309.01,358.3 310.02,358.3 311.02,358.3 312.02,358.3 313.02,358.3 314.02,358.3 315.02,358.3 316.02,358.3 317.02,358.3 318.02,358.3 319.02,358.3 320.02,358.3 321.03,358.29 322.03,358.26 323.03,358.22 324.03,358.15 325.03,358.08 326.03,357.98 327.03,357.88 328.03,357.76 329.03,357.63 330.03,357.5 331.03,357.28 332.04,356.94 333.04,356.51 334.04,356.03 335.04,355.5 336.04,354.98 337.04,354.45 338.04,353.87 339.04,353.21 340.04,352.46 341.04,351.57 342.04,350.4 343.04,348.98 344.05,347.37 345.05,345.66 346.05,343.92 347.05,342.15 348.05,340.31 349.05,338.34 350.05,336.22 351.05,333.91 352.05,331.36 353.05,328.4 354.05,325.07 355.06,321.49 356.06,317.79 357.06,313.86 358.06,309.65 359.06,305.28 360.06,300.86 361.06,296.39 362.06,291.76 363.06,287.14 364.06,282.73 365.06,278.65 366.07,274.76 367.07,270.81 368.07,266.56 369.07,261.87 370.07,256.97 371.07,252.18 372.07,247.54 373.07,242.97 374.07,238.46 375.07,233.99 376.07,229.52 377.07,225.23 378.08,221.19 379.08,217.22 380.08,213.57 381.08,210.5 382.08,207.92 383.08,205.76 384.08,204.03 385.08,202.52 386.08,201.45 387.08,200.85 388.08,200.35 389.09,199.96 390.09,199.74 391.09,199.73 392.09,200 393.09,200.48 394.09,201.05 395.09,201.83 396.09,202.93 397.09,204.33 398.09,206.34 399.09,209.22 400.1,212.58 401.1,216.29 402.1,220.78 403.1,225.55 404.1,230.04 405.1,234.35 406.1,238.63 407.1,242.94 408.1,247.32 409.1,251.72 410.1,256.09 411.1,260.35 412.11,264.56 413.11,268.8 414.11,273.16 415.11,277.62 416.11,282.09 417.11,286.49 418.11,290.84 419.11,295.17 420.11,299.49 421.11,303.96 422.11,308.42 423.12,312.49 424.12,316.03 425.12,319.29 426.12,322.36 427.12,325.36 428.12,328.4 429.12,331.51 430.12,334.52 431.12,337.23 432.12,339.48 433.12,341.43 434.13,343.19 435.13,344.8 436.13,346.28 437.13,347.67 438.13,349.03 439.13,350.34 440.13,351.57 441.13,352.66 442.13,353.58 443.13,354.29 444.13,354.9 445.13,355.46 446.14,355.95 447.14,356.37 448.14,356.74 449.14,357.04 450.14,357.32 451.14,357.59 452.14,357.83 453.14,358.04 454.14,358.2 455.14,358.29 456.14,358.3 457.15,358.3 458.15,358.3 459.15,358.3 460.15,358.3 461.15,358.3 462.15,358.3 463.15,358.3 464.15,358.3 465.15,358.3 466.15,358.3 467.15,358.3 468.16,358.3 469.16,358.3 470.16,358.3 471.16,358.3 472.16,358.3 473.16,358.3 474.16,358.3 475.16,358.3 476.16,358.3 477.16,358.3 478.16,358.3 479.16,358.3 480.17,358.3 481.17,358.3 482.17,358.3 483.17,358.3 484.17,358.3 485.17,358.3 486.17,358.3 487.17,358.3 488.17,358.3 489.17,358.3 490.17,358.3 491.18,358.3 492.18,358.3 493.18,358.3 494.18,358.3 495.18,358.3 496.18,358.3 497.18,358.3 498.18,358.3 499.18,358.3 500.18,358.3 501.18,358.3 502.19,358.3 503.19,358.3 504.19,358.3 505.19,358.3 506.19,358.3 507.19,358.3 508.19,358.3 509.19,358.3 510.19,358.3 511.19,358.3 512.19,358.3 513.19,358.3 514.2,358.3 515.2,358.3 516.2,358.3 517.2,358.3 518.2,358.3 519.2,358.3" fill="none" stroke="#0000c8" stroke-width="3" stroke-linejoin="round" />
<line x1="143.91" y1="183.5" x2="143.91" y2="180.7" stroke="#2a2a2a" stroke-width="1"/>
<line x1="143.91" y1="6.5" x2="143.91" y2="9.3" stroke="#2a2a2a" stroke-width="1"/>
<line x1="231.31" y1="183.5" x2="231.31" y2="180.7" stroke="#2a2a2a" stroke-width="1"/>
<line x1="231.31" y1="6.5" x2="231.31" y2="9.3" stroke="#2a2a2a" stroke-width="1"/>
<line x1="56.5" y1="148.05" x2="59.3" y2="148.05" stroke="#2a2a2a" stroke-width="1"/>
<line x1="56.5" y1="112.6" x2="59.3" y2="112.6" stroke="#2a2a2a" stroke-width="1"/>
<line x1="56.5" y1="77.15" x2="59.3" y2="77.15" stroke="#2a2a2a" stroke-width="1"/>
<line x1="56.5" y1="41.7" x2="59.3" y2="41.7" stroke="#2a2a2a" stroke-width="1"/>
<line x1="292.5" y1="148.05" x2="289.7" y2="148.05" stroke="#2a2a2a" stroke-width="1"/>
<line x1="292.5" y1="112.6" x2="289.7" y2="112.6" stroke="#2a2a2a" stroke-width="1"/>
<line x1="292.5" y1="77.15" x2="289.7" y2="77.15" stroke="#2a2a2a" stroke-width="1"/>
<line x1="292.5" y1="41.7" x2="289.7" y2="41.7" stroke="#2a2a2a" stroke-width="1"/>
<line x1="379.91" y1="183.5" x2="379.91" y2="180.7" stroke="#2a2a2a" stroke-width="1"/>
<line x1="379.91" y1="6.5" x2="379.91" y2="9.3" stroke="#2a2a2a" stroke-width="1"/>
<line x1="467.31" y1="183.5" x2="467.31" y2="180.7" stroke="#2a2a2a" stroke-width="1"/>
<line x1="467.31" y1="6.5" x2="467.31" y2="9.3" stroke="#2a2a2a" stroke-width="1"/>
<line x1="292.5" y1="148.05" x2="295.3" y2="148.05" stroke="#2a2a2a" stroke-width="1"/>
<line x1="292.5" y1="112.6" x2="295.3" y2="112.6" stroke="#2a2a2a" stroke-width="1"/>
<line x1="292.5" y1="77.15" x2="295.3" y2="77.15" stroke="#2a2a2a" stroke-width="1"/>
<line x1="292.5" y1="41.7" x2="295.3" y2="41.7" stroke="#2a2a2a" stroke-width="1"/>
<line x1="528.5" y1="148.05" x2="525.7" y2="148.05" stroke="#2a2a2a" stroke-width="1"/>
<line x1="528.5" y1="112.6" x2="525.7" y2="112.6" stroke="#2a2a2a" stroke-width="1"/>
<line x1="528.5" y1="77.15" x2="525.7" y2="77.15" stroke="#2a2a2a" stroke-width="1"/>
<line x1="528.5" y1="41.7" x2="525.7" y2="41.7" stroke="#2a2a2a" stroke-width="1"/>
<line x1="143.91" y1="360.5" x2="143.91" y2="357.7" stroke="#2a2a2a" stroke-width="1"/>
<line x1="143.91" y1="183.5" x2="143.91" y2="186.3" stroke="#2a2a2a" stroke-width="1"/>
<line x1="231.31" y1="360.5" x2="231.31" y2="357.7" stroke="#2a2a2a" stroke-width="1"/>
<line x1="231.31" y1="183.5" x2="231.31" y2="186.3" stroke="#2a2a2a" stroke-width="1"/>
<line x1="56.5" y1="319.7" x2="59.3" y2="319.7" stroke="#2a2a2a" stroke-width="1"/>
<line x1="56.5" y1="279.4" x2="59.3" y2="279.4" stroke="#2a2a2a" stroke-width="1"/>
<line x1="56.5" y1="239.1" x2="59.3" y2="239.1" stroke="#2a2a2a" stroke-width="1"/>
<line x1="56.5" y1="198.8" x2="59.3" y2="198.8" stroke="#2a2a2a" stroke-width="1"/>
<line x1="292.5" y1="319.7" x2="289.7" y2="319.7" stroke="#2a2a2a" stroke-width="1"/>
<line x1="292.5" y1="279.4" x2="289.7" y2="279.4" stroke="#2a2a2a" stroke-width="1"/>
<line x1="292.5" y1="239.1" x2="289.7" y2="239.1" stroke="#2a2a2a" stroke-width="1"/>
<line x1="292.5" y1="198.8" x2="289.7" y2="198.8" stroke="#2a2a2a" stroke-width="1"/>
<line x1="379.91" y1="360.5" x2="379.91" y2="357.7" stroke="#2a2a2a" stroke-width="1"/>
<line x1="379.91" y1="183.5" x2="379.91" y2="186.3" stroke="#2a2a2a" stroke-width="1"/>
<line x1="467.31" y1="360.5" x2="467.31" y2="357.7" stroke="#2a2a2a" stroke-width="1"/>
<line x1="467.31" y1="183.5" x2="467.31" y2="186.3" stroke="#2a2a2a" stroke-width="1"/>
<line x1="292.5" y1="290" x2="295.3" y2="290" stroke="#2a2a2a" stroke-width="1"/>
<line x1="292.5" y1="220" x2="295.3" y2="220" stroke="#2a2a2a" stroke-width="1"/>
<line x1="528.5" y1="290" x2="525.7" y2="290" stroke="#2a2a2a" stroke-width="1"/>
<line x1="528.5" y1="220" x2="525.7" y2="220" stroke="#2a2a2a" stroke-width="1"/>
<line x1="56" y1="6.5" x2="293" y2="6.5" stroke="#2a2a2a" stroke-width="1"/>
<line x1="56" y1="183.5" x2="293" y2="183.5" stroke="#2a2a2a" stroke-width="1"/>
<line x1="56.5" y1="6.5" x2="56.5" y2="183.5" stroke="#2a2a2a" stroke-width="1"/>
<line x1="292" y1="6.5" x2="529" y2="6.5" stroke="#2a2a2a" stroke-width="1"/>
<line x1="292" y1="183.5" x2="529" y2="183.5" stroke="#2a2a2a" stroke-width="1"/>
<line x1="528.5" y1="6.5" x2="528.5" y2="183.5" stroke="#2a2a2a" stroke-width="1"/>
<line x1="56" y1="183.5" x2="293" y2="183.5" stroke="#2a2a2a" stroke-width="1"/>
<line x1="56" y1="360.5" x2="293" y2="360.5" stroke="#2a2a2a" stroke-width="1"/>
<line x1="56.5" y1="183.5" x2="56.5" y2="360.5" stroke="#2a2a2a" stroke-width="1"/>
<line x1="292" y1="183.5" x2="529" y2="183.5" stroke="#2a2a2a" stroke-width="1"/>
<line x1="292" y1="360.5" x2="529" y2="360.5" stroke="#2a2a2a" stroke-width="1"/>
<line x1="528.5" y1="183.5" x2="528.5" y2="360.5" stroke="#2a2a2a" stroke-width="1"/>
<line x1="292.5" y1="6.5" x2="292.5" y2="360.5" stroke="#4a4a4a" stroke-width="1"/>
<line x1="155.8" y1="508.3" x2="477.5" y2="508.3" stroke="#222" stroke-width="1" stroke-dasharray="9.2,8.7"/>
<path d="M190,483.03 191,483.05 192.01,483.1 193.01,483.17 194.01,483.26 195.01,483.38 196.02,483.51 197.02,483.65 198.02,483.81 199.02,483.99 200.03,484.17 201.03,484.35 202.03,484.54 203.03,484.73 204.04,484.92 205.04,485.1 206.04,485.28 207.05,485.45 208.05,485.61 209.05,485.75 210.05,485.88 211.06,485.99 212.06,486.08 213.06,486.15 214.06,486.19 215.07,486.21 216.07,486.19 217.07,486.14 218.07,486.06 219.08,485.94 220.08,485.78 221.08,485.58 222.09,485.34 223.09,485.06 224.09,484.75 225.09,484.41 226.1,484.05 227.1,483.66 228.1,483.25 229.1,482.82 230.11,482.38 231.11,481.92 232.11,481.46 233.11,480.99 234.12,480.51 235.12,480.04 236.12,479.57 237.13,479.11 238.13,478.66 239.13,478.21 240.13,477.79 241.14,477.38 242.14,476.98 243.14,476.61 244.14,476.25 245.15,475.91 246.15,475.58 247.15,475.27 248.15,474.97 249.16,474.69 250.16,474.42 251.16,474.16 252.17,473.92 253.17,473.69 254.17,473.48 255.17,473.28 256.18,473.08 257.18,472.9 258.18,472.74 259.18,472.58 260.19,472.43 261.19,472.29 262.19,472.17 263.19,472.05 264.2,471.94 265.2,471.83 266.2,471.74 267.21,471.66 268.21,471.58 269.21,471.51 270.21,471.44 271.22,471.38 272.22,471.33 273.22,471.28 274.22,471.24 275.23,471.2 276.23,471.17 277.23,471.14 278.23,471.11 279.24,471.09 280.24,471.07 281.24,471.06 282.25,471.05 283.25,471.05 284.25,471.05 285.25,471.05 286.26,471.05 287.26,471.06 288.26,471.08 289.26,471.09 290.27,471.11 291.27,471.13 292.27,471.16 293.27,471.19 294.28,471.22 295.28,471.26 296.28,471.29 297.29,471.33 298.29,471.38 299.29,471.42 300.29,471.47 301.3,471.52 302.3,471.58 303.3,471.63 304.3,471.69 305.31,471.75 306.31,471.82 307.31,471.88 308.31,471.95 309.32,472.02 310.32,472.09 311.32,472.16 312.33,472.23 313.33,472.31 314.33,472.39 315.33,472.47 316.34,472.55 317.34,472.63 318.34,472.72 319.34,472.81 320.35,472.9 321.35,473 322.35,473.1 323.35,473.21 324.36,473.33 325.36,473.45 326.36,473.58 327.37,473.72 328.37,473.87 329.37,474.03 330.37,474.2 331.38,474.38 332.38,474.57 333.38,474.77 334.38,474.99 335.39,475.22 336.39,475.46 337.39,475.72 338.39,475.99 339.4,476.28 340.4,476.58 341.4,476.9 342.41,477.24 343.41,477.6 344.41,477.97 345.41,478.37 346.42,478.78 347.42,479.22 348.42,479.67 349.42,480.15 350.43,480.65 351.43,481.18 352.43,481.72 353.43,482.3 354.44,482.9 355.44,483.53 356.44,484.19 357.45,484.87 358.45,485.59 359.45,486.35 360.45,487.13 361.46,487.96 362.46,488.81 363.46,489.71 364.46,490.64 365.47,491.62 366.47,492.63 367.47,493.69 368.47,494.79 369.48,495.94 370.48,497.13 371.48,498.37 372.49,499.66 373.49,500.99 374.49,502.38 375.49,503.82 376.5,505.31 377.5,506.86 378.5,508.46 379.5,510.12 380.51,511.84 381.51,513.61 382.51,515.45 383.51,517.35 384.52,519.31 385.52,521.33 386.52,523.4 387.53,525.51 388.53,527.64 389.53,529.75 390.53,531.84 391.54,533.92 392.54,536.05 393.54,538.29 394.54,540.68 395.55,543.27 396.55,546.04 397.55,548.95 398.55,551.99 399.56,555.11 400.56,558.29 401.56,561.51 402.57,564.74 403.57,567.94 404.57,571.08 405.57,574.15 406.58,577.18 407.58,580.36 408.58,583.92 409.58,588.09 410.59,593.08 411.59,599.13 412.59,606.44 413.59,615.42 414.6,627.1 415.6,642.72" fill="none" stroke="#0000c8" stroke-width="3.1" stroke-linejoin="round" />
<path d="M189,485.24 190,485.3 191,485.38 192,485.49 193,485.62 194,485.76 195,485.92 196.01,486.09 197.01,486.28 198.01,486.47 199.01,486.67 200.01,486.87 201.01,487.07 202.01,487.27 203.01,487.46 204.01,487.66 205.01,487.84 206.01,488.01 207.01,488.17 208.02,488.31 209.02,488.44 210.02,488.54 211.02,488.63 212.02,488.69 213.02,488.72 214.02,488.72 215.02,488.69 216.02,488.63 217.02,488.53 218.02,488.4 219.02,488.24 220.03,488.05 221.03,487.82 222.03,487.57 223.03,487.29 224.03,486.98 225.03,486.64 226.03,486.28 227.03,485.89 228.03,485.47 229.03,485.03 230.03,484.57 231.03,484.1 232.04,483.61 233.04,483.11 234.04,482.6 235.04,482.08 236.04,481.56 237.04,481.04 238.04,480.53 239.04,480.02 240.04,479.51 241.04,479.02 242.04,478.54 243.04,478.08 244.04,477.64 245.05,477.21 246.05,476.82 247.05,476.44 248.05,476.09 249.05,475.76 250.05,475.45 251.05,475.16 252.05,474.9 253.05,474.64 254.05,474.41 255.05,474.19 256.05,473.99 257.06,473.81 258.06,473.63 259.06,473.47 260.06,473.33 261.06,473.19 262.06,473.06 263.06,472.95 264.06,472.84 265.06,472.74 266.06,472.64 267.06,472.56 268.06,472.47 269.07,472.4 270.07,472.32 271.07,472.25 272.07,472.19 273.07,472.13 274.07,472.07 275.07,472.01 276.07,471.97 277.07,471.92 278.07,471.88 279.07,471.84 280.07,471.81 281.08,471.77 282.08,471.75 283.08,471.72 284.08,471.7 285.08,471.69 286.08,471.67 287.08,471.67 288.08,471.66 289.08,471.66 290.08,471.66 291.08,471.66 292.08,471.67 293.08,471.68 294.09,471.69 295.09,471.71 296.09,471.73 297.09,471.75 298.09,471.78 299.09,471.81 300.09,471.84 301.09,471.87 302.09,471.91 303.09,471.95 304.09,471.99 305.09,472.04 306.1,472.08 307.1,472.13 308.1,472.19 309.1,472.24 310.1,472.3 311.1,472.36 312.1,472.42 313.1,472.49 314.1,472.55 315.1,472.62 316.1,472.69 317.1,472.77 318.11,472.84 319.11,472.92 320.11,473 321.11,473.08 322.11,473.17 323.11,473.25 324.11,473.34 325.11,473.43 326.11,473.52 327.11,473.61 328.11,473.7 329.11,473.8 330.12,473.9 331.12,474 332.12,474.1 333.12,474.2 334.12,474.3 335.12,474.4 336.12,474.51 337.12,474.62 338.12,474.72 339.12,474.83 340.12,474.94 341.12,475.06 342.12,475.17 343.13,475.28 344.13,475.4 345.13,475.51 346.13,475.63 347.13,475.74 348.13,475.86 349.13,475.98 350.13,476.1 351.13,476.22 352.13,476.34 353.13,476.46 354.13,476.58 355.14,476.7 356.14,476.83 357.14,476.95 358.14,477.07 359.14,477.19 360.14,477.32 361.14,477.44 362.14,477.57 363.14,477.69 364.14,477.82 365.14,477.95 366.14,478.07 367.15,478.2 368.15,478.33 369.15,478.46 370.15,478.59 371.15,478.72 372.15,478.85 373.15,478.99 374.15,479.12 375.15,479.26 376.15,479.4 377.15,479.53 378.15,479.67 379.16,479.81 380.16,479.96 381.16,480.1 382.16,480.24 383.16,480.39 384.16,480.54 385.16,480.69 386.16,480.84 387.16,480.99 388.16,481.14 389.16,481.3 390.16,481.46 391.16,481.62 392.17,481.78 393.17,481.94 394.17,482.11 395.17,482.27 396.17,482.44 397.17,482.61 398.17,482.79 399.17,482.96 400.17,483.14 401.17,483.32 402.17,483.5 403.17,483.69 404.18,483.87 405.18,484.06 406.18,484.25 407.18,484.45 408.18,484.64 409.18,484.84 410.18,485.05 411.18,485.25 412.18,485.46 413.18,485.67 414.18,485.88 415.18,486.1 416.19,486.31 417.19,486.54 418.19,486.76 419.19,486.99 420.19,487.22 421.19,487.45 422.19,487.69 423.19,487.93 424.19,488.17 425.19,488.42 426.19,488.67 427.19,488.92 428.2,489.18 429.2,489.44 430.2,489.7 431.2,489.97 432.2,490.24 433.2,490.51 434.2,490.79" fill="none" stroke="#dc0000" stroke-width="3.1" stroke-linejoin="round" />
<path d="M188.7,487.04 189.7,487.08 190.7,487.15 191.71,487.25 192.71,487.37 193.71,487.51 194.71,487.66 195.71,487.84 196.72,488.03 197.72,488.23 198.72,488.43 199.72,488.65 200.72,488.87 201.73,489.1 202.73,489.32 203.73,489.55 204.73,489.77 205.73,489.98 206.74,490.19 207.74,490.38 208.74,490.56 209.74,490.73 210.74,490.88 211.75,491 212.75,491.09 213.75,491.14 214.75,491.16 215.76,491.14 216.76,491.07 217.76,490.97 218.76,490.82 219.76,490.64 220.77,490.42 221.77,490.16 222.77,489.87 223.77,489.55 224.77,489.19 225.78,488.81 226.78,488.4 227.78,487.96 228.78,487.5 229.78,487.01 230.79,486.51 231.79,485.99 232.79,485.46 233.79,484.92 234.79,484.37 235.8,483.82 236.8,483.26 237.8,482.71 238.8,482.16 239.8,481.62 240.81,481.1 241.81,480.58 242.81,480.08 243.81,479.6 244.81,479.14 245.82,478.7 246.82,478.29 247.82,477.91 248.82,477.54 249.82,477.2 250.83,476.88 251.83,476.58 252.83,476.3 253.83,476.03 254.83,475.79 255.84,475.56 256.84,475.34 257.84,475.14 258.84,474.96 259.84,474.79 260.85,474.62 261.85,474.47 262.85,474.33 263.85,474.2 264.86,474.08 265.86,473.97 266.86,473.86 267.86,473.76 268.86,473.66 269.87,473.57 270.87,473.48 271.87,473.4 272.87,473.32 273.87,473.24 274.88,473.17 275.88,473.1 276.88,473.04 277.88,472.99 278.88,472.93 279.89,472.88 280.89,472.84 281.89,472.8 282.89,472.76 283.89,472.73 284.9,472.7 285.9,472.67 286.9,472.65 287.9,472.63 288.9,472.62 289.91,472.6 290.91,472.6 291.91,472.59 292.91,472.59 293.91,472.6 294.92,472.6 295.92,472.61 296.92,472.63 297.92,472.64 298.92,472.66 299.93,472.69 300.93,472.71 301.93,472.74 302.93,472.77 303.93,472.81 304.94,472.85 305.94,472.89 306.94,472.93 307.94,472.98 308.94,473.03 309.95,473.08 310.95,473.13 311.95,473.19 312.95,473.25 313.96,473.31 314.96,473.38 315.96,473.44 316.96,473.51 317.96,473.58 318.97,473.66 319.97,473.73 320.97,473.81 321.97,473.89 322.97,473.97 323.98,474.06 324.98,474.14 325.98,474.23 326.98,474.32 327.98,474.41 328.99,474.51 329.99,474.6 330.99,474.7 331.99,474.8 332.99,474.9 334,475 335,475.1 336,475.2 337,475.31 338,475.42 339.01,475.52 340.01,475.63 341.01,475.74 342.01,475.86 343.01,475.97 344.02,476.08 345.02,476.2 346.02,476.31 347.02,476.43 348.02,476.55 349.03,476.67 350.03,476.78 351.03,476.9 352.03,477.02 353.03,477.14 354.04,477.27 355.04,477.39 356.04,477.51 357.04,477.63 358.04,477.76 359.05,477.88 360.05,478 361.05,478.13 362.05,478.25 363.06,478.38 364.06,478.5 365.06,478.63 366.06,478.76 367.06,478.89 368.07,479.02 369.07,479.15 370.07,479.28 371.07,479.41 372.07,479.54 373.08,479.68 374.08,479.81 375.08,479.95 376.08,480.09 377.08,480.22 378.09,480.36 379.09,480.5 380.09,480.65 381.09,480.79 382.09,480.94 383.1,481.08 384.1,481.23 385.1,481.38 386.1,481.53 387.1,481.68 388.11,481.84 389.11,481.99 390.11,482.15 391.11,482.31 392.11,482.47 393.12,482.64 394.12,482.8 395.12,482.97 396.12,483.14 397.12,483.31 398.13,483.48 399.13,483.66 400.13,483.84 401.13,484.02 402.13,484.2 403.14,484.38 404.14,484.57 405.14,484.76 406.14,484.95 407.14,485.15 408.15,485.34 409.15,485.54 410.15,485.74 411.15,485.95 412.16,486.16 413.16,486.37 414.16,486.58 415.16,486.79 416.16,487.01 417.17,487.23 418.17,487.46 419.17,487.69 420.17,487.92 421.17,488.15 422.18,488.39 423.18,488.63 424.18,488.87 425.18,489.12 426.18,489.37 427.19,489.62 428.19,489.88 429.19,490.14 430.19,490.4 431.19,490.67 432.2,490.94 433.2,491.21 434.2,491.49" fill="none" stroke="#000" stroke-width="3.1" stroke-linejoin="round" />
<path d="M196.7,547.9 197.7,547.96 198.7,548.02 199.7,548.08 200.7,548.13 201.7,548.19 202.7,548.25 203.7,548.3 204.7,548.36 205.7,548.41 206.7,548.47 207.7,548.52 208.7,548.57 209.7,548.62 210.7,548.68 211.7,548.73 212.7,548.78 213.7,548.83 214.7,548.88 215.7,548.92 216.7,548.97 217.7,549.02 218.7,549.06 219.7,549.11 220.7,549.16 221.7,549.2 222.7,549.24 223.7,549.28 224.7,549.32 225.7,549.35 226.7,549.39 227.7,549.42 228.7,549.45 229.7,549.48 230.7,549.51 231.7,549.54 232.7,549.57 233.7,549.6 234.7,549.64 235.7,549.67 236.7,549.71 237.7,549.75 238.7,549.8 239.7,549.84 240.7,549.9 241.7,549.95 242.7,550.01 243.7,550.09 244.7,550.17 245.7,550.28 246.7,550.39 247.7,550.52 248.7,550.66 249.7,550.81 250.7,550.97 251.7,551.14 252.7,551.31 253.7,551.49 254.7,551.68 255.7,551.87 256.7,552.06 257.7,552.25 258.7,552.44 259.7,552.63 260.7,552.82 261.7,553.01 262.7,553.19 263.7,553.37 264.7,553.55 265.7,553.74 266.7,553.92 267.7,554.11 268.7,554.31 269.7,554.5 270.7,554.7 271.7,554.9 272.7,555.11 273.7,555.31 274.7,555.52 275.7,555.72 276.7,555.93 277.7,556.14 278.7,556.35 279.7,556.56 280.7,556.77 281.7,556.98 282.7,557.19 283.7,557.4 284.7,557.6 285.7,557.82 286.7,558.03 287.7,558.25 288.7,558.46 289.7,558.68 290.7,558.9 291.7,559.11 292.7,559.33 293.7,559.53 294.7,559.74 295.7,559.94 296.7,560.14 297.7,560.34 298.7,560.53 299.7,560.73 300.7,560.92 301.7,561.1 302.7,561.29 303.7,561.47 304.7,561.65 305.7,561.82 306.7,562 307.7,562.18 308.7,562.36 309.7,562.52 310.7,562.68 311.7,562.83 312.7,562.96 313.7,563.08 314.7,563.21 315.7,563.33 316.7,563.46 317.7,563.57 318.7,563.66 319.7,563.73 320.7,563.78 321.7,563.8 322.7,563.79 323.7,563.77 324.7,563.74 325.7,563.71 326.7,563.66 327.7,563.61 328.7,563.56 329.7,563.47 330.7,563.36 331.7,563.24 332.7,563.1 333.7,562.97 334.7,562.83 335.7,562.69 336.7,562.54 337.7,562.38 338.7,562.22 339.7,562.05 340.7,561.88 341.7,561.71 342.7,561.54 343.7,561.36 344.7,561.18 345.7,560.99 346.7,560.8" fill="none" stroke="#0000c8" stroke-width="3" stroke-dasharray="9,8.5" stroke-linejoin="round" />
<path d="M196.7,547.9 197.7,547.93 198.7,547.96 199.7,547.99 200.71,548.03 201.71,548.07 202.71,548.11 203.71,548.15 204.71,548.19 205.71,548.24 206.71,548.29 207.71,548.34 208.72,548.39 209.72,548.45 210.72,548.5 211.72,548.56 212.72,548.62 213.72,548.68 214.72,548.74 215.72,548.8 216.73,548.87 217.73,548.93 218.73,549 219.73,549.07 220.73,549.13 221.73,549.2 222.73,549.27 223.73,549.35 224.74,549.42 225.74,549.5 226.74,549.58 227.74,549.67 228.74,549.76 229.74,549.85 230.74,549.94 231.74,550.03 232.75,550.13 233.75,550.23 234.75,550.33 235.75,550.44 236.75,550.55 237.75,550.66 238.75,550.77 239.76,550.88 240.76,551 241.76,551.12 242.76,551.24 243.76,551.37 244.76,551.49 245.76,551.62 246.76,551.75 247.77,551.88 248.77,552.02 249.77,552.16 250.77,552.3 251.77,552.44 252.77,552.59 253.77,552.75 254.77,552.91 255.78,553.09 256.78,553.26 257.78,553.45 258.78,553.64 259.78,553.83 260.78,554.03 261.78,554.23 262.78,554.44 263.79,554.65 264.79,554.86 265.79,555.08 266.79,555.29 267.79,555.51 268.79,555.73 269.79,555.95 270.79,556.18 271.8,556.4 272.8,556.63 273.8,556.86 274.8,557.1 275.8,557.34 276.8,557.59 277.8,557.84 278.81,558.1 279.81,558.37 280.81,558.65 281.81,558.93 282.81,559.23 283.81,559.54 284.81,559.87 285.81,560.22 286.82,560.6 287.82,560.99 288.82,561.41 289.82,561.83 290.82,562.25 291.82,562.68 292.82,563.11 293.82,563.53 294.83,563.93 295.83,564.32 296.83,564.7 297.83,565.08 298.83,565.45 299.83,565.83 300.83,566.21 301.83,566.59 302.84,566.99 303.84,567.4 304.84,567.83 305.84,568.28 306.84,568.76 307.84,569.26 308.84,569.77 309.84,570.3 310.85,570.83 311.85,571.36 312.85,571.89 313.85,572.41 314.85,572.93 315.85,573.43 316.85,573.92 317.86,574.42 318.86,574.92 319.86,575.41 320.86,575.9 321.86,576.39 322.86,576.88 323.86,577.36 324.86,577.85 325.87,578.33 326.87,578.81 327.87,579.28 328.87,579.75 329.87,580.22 330.87,580.69 331.87,581.15 332.87,581.61 333.88,582.08 334.88,582.55 335.88,583.02 336.88,583.49 337.88,583.97 338.88,584.45 339.88,584.94 340.88,585.44 341.89,585.94 342.89,586.45 343.89,586.95 344.89,587.47 345.89,587.98 346.89,588.5 347.89,589.03 348.89,589.56 349.9,590.09 350.9,590.62 351.9,591.16 352.9,591.7" fill="none" stroke="#dc0000" stroke-width="3" stroke-dasharray="9,8.5" stroke-linejoin="round" />
<path d="M196.7,547.9 197.7,547.91 198.7,547.92 199.71,547.94 200.71,547.96 201.71,547.99 202.71,548.02 203.71,548.05 204.72,548.08 205.72,548.12 206.72,548.16 207.72,548.2 208.72,548.24 209.72,548.29 210.73,548.33 211.73,548.39 212.73,548.45 213.73,548.52 214.73,548.6 215.74,548.68 216.74,548.76 217.74,548.85 218.74,548.94 219.74,549.03 220.75,549.12 221.75,549.2 222.75,549.29 223.75,549.38 224.75,549.47 225.76,549.56 226.76,549.66 227.76,549.75 228.76,549.85 229.76,549.95 230.76,550.05 231.77,550.15 232.77,550.26 233.77,550.37 234.77,550.48 235.77,550.59 236.78,550.7 237.78,550.81 238.78,550.93 239.78,551.05 240.78,551.17 241.79,551.29 242.79,551.42 243.79,551.55 244.79,551.68 245.79,551.81 246.79,551.94 247.8,552.08 248.8,552.22 249.8,552.36 250.8,552.5 251.8,552.65 252.81,552.79 253.81,552.94 254.81,553.1 255.81,553.25 256.81,553.41 257.82,553.58 258.82,553.74 259.82,553.92 260.82,554.09 261.82,554.28 262.83,554.47 263.83,554.66 264.83,554.86 265.83,555.07 266.83,555.28 267.83,555.5 268.84,555.72 269.84,555.95 270.84,556.19 271.84,556.44 272.84,556.69 273.85,556.96 274.85,557.23 275.85,557.51 276.85,557.81 277.85,558.13 278.86,558.46 279.86,558.81 280.86,559.17 281.86,559.55 282.86,559.93 283.87,560.33 284.87,560.73 285.87,561.13 286.87,561.54 287.87,561.95 288.87,562.36 289.88,562.78 290.88,563.21 291.88,563.64 292.88,564.08 293.88,564.53 294.89,564.99 295.89,565.46 296.89,565.94 297.89,566.43 298.89,566.92 299.9,567.43 300.9,567.95 301.9,568.48 302.9,569.03 303.9,569.59 304.91,570.16 305.91,570.75 306.91,571.36 307.91,571.98 308.91,572.62 309.91,573.27 310.92,573.94 311.92,574.64 312.92,575.36 313.92,576.12 314.92,576.89 315.93,577.69 316.93,578.5 317.93,579.32 318.93,580.16 319.93,581 320.94,581.85 321.94,582.7 322.94,583.56 323.94,584.42 324.94,585.29 325.94,586.18 326.95,587.09 327.95,588.02 328.95,588.97 329.95,589.95 330.95,590.96 331.96,591.99 332.96,593.05 333.96,594.14 334.96,595.25 335.96,596.4 336.97,597.58 337.97,598.79 338.97,600.04 339.97,601.36 340.97,602.72 341.98,604.12 342.98,605.55 343.98,607.01 344.98,608.49 345.98,609.97 346.98,611.47 347.99,612.99 348.99,614.53 349.99,616.09 350.99,617.67 351.99,619.27 353,620.89 354,622.54 355,624.2" fill="none" stroke="#000" stroke-width="3" stroke-dasharray="9,8.5" stroke-linejoin="round" />
<line x1="263.07" y1="643.4" x2="263.07" y2="640.2" stroke="#2a2a2a" stroke-width="1"/>
<line x1="263.07" y1="440.8" x2="263.07" y2="444" stroke="#2a2a2a" stroke-width="1"/>
<line x1="370.33" y1="643.4" x2="370.33" y2="640.2" stroke="#2a2a2a" stroke-width="1"/>
<line x1="370.33" y1="440.8" x2="370.33" y2="444" stroke="#2a2a2a" stroke-width="1"/>
<line x1="155.8" y1="508.3" x2="159" y2="508.3" stroke="#2a2a2a" stroke-width="1"/>
<line x1="155.8" y1="575.84" x2="159" y2="575.84" stroke="#2a2a2a" stroke-width="1"/>
<line x1="477.6" y1="508.3" x2="474.4" y2="508.3" stroke="#2a2a2a" stroke-width="1"/>
<line x1="477.6" y1="575.84" x2="474.4" y2="575.84" stroke="#2a2a2a" stroke-width="1"/>
<line x1="155.3" y1="440.8" x2="478.1" y2="440.8" stroke="#2a2a2a" stroke-width="1"/>
<line x1="155.3" y1="643.4" x2="478.1" y2="643.4" stroke="#2a2a2a" stroke-width="1"/>
<line x1="155.8" y1="440.8" x2="155.8" y2="643.4" stroke="#2a2a2a" stroke-width="1"/>
<line x1="477.6" y1="440.8" x2="477.6" y2="643.4" stroke="#2a2a2a" stroke-width="1"/>
<defs><clipPath id="c6"><rect x="155" y="720.5" width="313" height="217.8"/></clipPath></defs>
<g clip-path="url(#c6)">
<path d="M155,941.41 155.5,940.45 156,939.51 156.5,938.57 157,937.65 157.5,936.74 158,935.84 158.5,934.95 159,934.06 159.5,933.19 160,932.33 160.5,931.48 161,930.63 161.5,929.79 162,928.96 162.5,928.14 163,927.33 163.5,926.52 164,925.71 164.5,924.92 165,924.12 165.5,923.34 166,922.56 166.5,921.78 167,921 167.5,920.23 168,919.46 168.5,918.7 169,917.94 169.5,917.18 170,916.42 170.5,915.66 171,914.9 171.5,914.14 172,913.39 172.5,912.63 173,911.87 173.5,911.11 174,910.35 174.5,909.59 175,908.82 175.5,908.06 176,907.29 176.5,906.51 177,905.73 177.5,904.95 178,904.17 178.5,903.38 179,902.58 179.5,901.78 180,900.97 180.5,900.15 181,899.33 181.5,898.5 182,897.67 182.5,896.82 183,895.97 183.5,895.11 184,894.24 184.5,893.36 185,892.47 185.5,891.57 186,890.66 186.5,889.74 187,888.81 187.5,887.86 188,886.9 188.5,885.93 189,884.95 189.5,883.96 190,882.95 190.5,881.92 191,880.89 191.5,879.83 192,878.77 192.5,877.68 193,876.59 193.5,875.47 194,874.34 194.5,873.19 195,872.03 195.5,870.86 196,869.67 196.5,868.47 197,867.25 197.5,866.02 198,864.78 198.5,863.53 199,862.26 199.5,860.98 200,859.69 200.5,858.39 201,857.08 201.5,855.75 202,854.42 202.5,853.07 203,851.72 203.5,850.36 204,848.99 204.5,847.61 205,846.22 205.5,844.82 206,843.42 206.5,842.01 207,840.59 207.5,839.16 208,837.73 208.5,836.3 209,834.85 209.5,833.4 210,831.95 210.5,830.5 211,829.04 211.5,827.58 212,826.13 212.5,824.67 213,823.21 213.5,821.76 214,820.31 214.5,818.86 215,817.42 215.5,815.98 216,814.55 216.5,813.13 217,811.71 217.5,810.31 218,808.91 218.5,807.53 219,806.16 219.5,804.8 220,803.45 220.5,802.12 221,800.8 221.5,799.5 222,798.21 222.5,796.94 223,795.69 223.5,794.47 224,793.26 224.5,792.07 225,790.9 225.5,789.76 226,788.64 226.5,787.55 227,786.48 227.5,785.43 228,784.42 228.5,783.43 229,782.46 229.5,781.52 230,780.61 230.5,779.73 231,778.87 231.5,778.03 232,777.23 232.5,776.45 233,775.69 233.5,774.96 234,774.26 234.5,773.58 235,772.93 235.5,772.3 236,771.7 236.5,771.13 237,770.58 237.5,770.05 238,769.56 238.5,769.08 239,768.64 239.5,768.22 240,767.82 240.5,767.45 241,767.1 241.5,766.78 242,766.49 242.5,766.22 243,765.97 243.5,765.75 244,765.56 244.5,765.38 245,765.24 245.5,765.12 246,765.02 246.5,764.95 247,764.91 247.5,764.88 248,764.89 248.5,764.91 249,764.97 249.5,765.04 250,765.14 250.5,765.27 251,765.42 251.5,765.59 252,765.79 252.5,766.01 253,766.25 253.5,766.51 254,766.79 254.5,767.09 255,767.41 255.5,767.74 256,768.1 256.5,768.47 257,768.85 257.5,769.25 258,769.67 258.5,770.09 259,770.53 259.5,770.99 260,771.45 260.5,771.92 261,772.41 261.5,772.9 262,773.4 262.5,773.9 263,774.42 263.5,774.94 264,775.46 264.5,775.99 265,776.52 265.5,777.06 266,777.59 266.5,778.13 267,778.67 267.5,779.21 268,779.75 268.5,780.29 269,780.84 269.5,781.38 270,781.92 270.5,782.47 271,783.01 271.5,783.55 272,784.1 272.5,784.64 273,785.19 273.5,785.74 274,786.28 274.5,786.83 275,787.37 275.5,787.92 276,788.46 276.5,789.01 277,789.55 277.5,790.1 278,790.64 278.5,791.19 279,791.73 279.5,792.27 280,792.82 280.5,793.36 281,793.9 281.5,794.44 282,794.98 282.5,795.52 283,796.06 283.5,796.6 284,797.13 284.5,797.67 285,798.2 285.5,798.73 286,799.27 286.5,799.8 287,800.33 287.5,800.85 288,801.38 288.5,801.91 289,802.43 289.5,802.95 290,803.47 290.5,803.99 291,804.51 291.5,805.02 292,805.54 292.5,806.05 293,806.56 293.5,807.07 294,807.57 294.5,808.07 295,808.58 295.5,809.07 296,809.57 296.5,810.07 297,810.56 297.5,811.05 298,811.53 298.5,812.02 299,812.5 299.5,812.98 300,813.46 300.5,813.93 301,814.4 301.5,814.87 302,815.33 302.5,815.8 303,816.26 303.5,816.71 304,817.17 304.5,817.62 305,818.06 305.5,818.51 306,818.95 306.5,819.39 307,819.82 307.5,820.25 308,820.68 308.5,821.11 309,821.53 309.5,821.95 310,822.37 310.5,822.78 311,823.19 311.5,823.6 312,824 312.5,824.4 313,824.8 313.5,825.19 314,825.59 314.5,825.97 315,826.36 315.5,826.74 316,827.12 316.5,827.49 317,827.86 317.5,828.23 318,828.6 318.5,828.96 319,829.32 319.5,829.67 320,830.02 320.5,830.37 321,830.72 321.5,831.06 322,831.4 322.5,831.73 323,832.06 323.5,832.39 324,832.72 324.5,833.04 325,833.35 325.5,833.67 326,833.98 326.5,834.29 327,834.59 327.5,834.89 328,835.19 328.5,835.48 329,835.77 329.5,836.05 330,836.33 330.5,836.61 331,836.88 331.5,837.15 332,837.42 332.5,837.68 333,837.94 333.5,838.19 334,838.44 334.5,838.68 335,838.92 335.5,839.16 336,839.39 336.5,839.61 337,839.84 337.5,840.05 338,840.26 338.5,840.47 339,840.67 339.5,840.87 340,841.06 340.5,841.25 341,841.43 341.5,841.61 342,841.78 342.5,841.95 343,842.11 343.5,842.27 344,842.42 344.5,842.56 345,842.7 345.5,842.84 346,842.96 346.5,843.09 347,843.2 347.5,843.31 348,843.42 348.5,843.52 349,843.62 349.5,843.71 350,843.79 350.5,843.88 351,843.95 351.5,844.03 352,844.09 352.5,844.16 353,844.22 353.5,844.28 354,844.33 354.5,844.38 355,844.43 355.5,844.47 356,844.52 356.5,844.55 357,844.59 357.5,844.62 358,844.66 358.5,844.69 359,844.71 359.5,844.74 360,844.76 360.5,844.79 361,844.81 361.5,844.83 362,844.85 362.5,844.87 363,844.88 363.5,844.9 364,844.92 364.5,844.93 365,844.95 365.5,844.97 366,844.98 366.5,845 367,845.02 367.5,845.04 368,845.06 368.5,845.08 369,845.1 369.5,845.12 370,845.14 370.5,845.17 371,845.2 371.5,845.23 372,845.26 372.5,845.29 373,845.33 373.5,845.37 374,845.41 374.5,845.45 375,845.5 375.5,845.55 376,845.61 376.5,845.66 377,845.72 377.5,845.79 378,845.86 378.5,845.93 379,846.01 379.5,846.09 380,846.18 380.5,846.27 381,846.36 381.5,846.46 382,846.57 382.5,846.68 383,846.8 383.5,846.92 384,847.05 384.5,847.18 385,847.32 385.5,847.46 386,847.61 386.5,847.76 387,847.92 387.5,848.08 388,848.25 388.5,848.42 389,848.6 389.5,848.78 390,848.96 390.5,849.15 391,849.34 391.5,849.54 392,849.74 392.5,849.94 393,850.15 393.5,850.37 394,850.58 394.5,850.8 395,851.03 395.5,851.25 396,851.48 396.5,851.72 397,851.96 397.5,852.2 398,852.44 398.5,852.69 399,852.94 399.5,853.19 400,853.44 400.5,853.7 401,853.96 401.5,854.23 402,854.49 402.5,854.76 403,855.03 403.5,855.3 404,855.58 404.5,855.85 405,856.13 405.5,856.41 406,856.7 406.5,856.98 407,857.27 407.5,857.56 408,857.85 408.5,858.14 409,858.43 409.5,858.72 410,859.02 410.5,859.32 411,859.61 411.5,859.91 412,860.21 412.5,860.51 413,860.82 413.5,861.12 414,861.42 414.5,861.72 415,862.03 415.5,862.33 416,862.64 416.5,862.94 417,863.25 417.5,863.55 418,863.86 418.5,864.16 419,864.47 419.5,864.77 420,865.08 420.5,865.38 421,865.69 421.5,865.99 422,866.29 422.5,866.6 423,866.9 423.5,867.2 424,867.5 424.5,867.8 425,868.1 425.5,868.39 426,868.69 426.5,868.99 427,869.28 427.5,869.57 428,869.86 428.5,870.15 429,870.44 429.5,870.72 430,871.01 430.5,871.29 431,871.57 431.5,871.85 432,872.12 432.5,872.4 433,872.67 433.5,872.94 434,873.21 434.5,873.47 435,873.73 435.5,874 436,874.26 436.5,874.51 437,874.77 437.5,875.02 438,875.28 438.5,875.53 439,875.78 439.5,876.03 440,876.28 440.5,876.52 441,876.77 441.5,877.02 442,877.26 442.5,877.51 443,877.75 443.5,878 444,878.24 444.5,878.49 445,878.73 445.5,878.98 446,879.22 446.5,879.47 447,879.71 447.5,879.96 448,880.21 448.5,880.46 449,880.7 449.5,880.95 450,881.21 450.5,881.46 451,881.71 451.5,881.97 452,882.22 452.5,882.48 453,882.74 453.5,883 454,883.27 454.5,883.54 455,883.8 455.5,884.07 456,884.35 456.5,884.62 457,884.9 457.5,885.18 458,885.46 458.5,885.75 459,886.04 459.5,886.33 460,886.63 460.5,886.93 461,887.23 461.5,887.54 462,887.85 462.5,888.16 463,888.48 463.5,888.8 464,889.12 464.5,889.45 465,889.79 465.5,890.13 466,890.47 466.5,890.82 467,891.17 467.5,891.53 468,891.89 468.5,892.25" fill="none" stroke="#8c8c8c" stroke-width="1.5" stroke-dasharray="6,5" stroke-linejoin="round" />
<path d="M214.56,942.25 215.07,941.96 215.57,941.67 216.07,941.38 216.57,941.1 217.07,940.81 217.57,940.53 218.07,940.25 218.57,939.97 219.07,939.69 219.57,939.41 220.07,939.13 220.58,938.85 221.08,938.57 221.58,938.3 222.08,938.02 222.58,937.75 223.08,937.48 223.58,937.21 224.08,936.94 224.58,936.67 225.08,936.4 225.58,936.13 226.08,935.86 226.59,935.6 227.09,935.33 227.59,935.07 228.09,934.81 228.59,934.54 229.09,934.28 229.59,934.02 230.09,933.76 230.59,933.51 231.09,933.25 231.59,932.99 232.1,932.74 232.6,932.48 233.1,932.23 233.6,931.98 234.1,931.73 234.6,931.48 235.1,931.23 235.6,930.98 236.1,930.73 236.6,930.49 237.1,930.24 237.6,930 238.11,929.76 238.61,929.51 239.11,929.27 239.61,929.03 240.11,928.79 240.61,928.56 241.11,928.32 241.61,928.08 242.11,927.85 242.61,927.61 243.11,927.38 243.61,927.15 244.12,926.92 244.62,926.69 245.12,926.46 245.62,926.23 246.12,926.01 246.62,925.78 247.12,925.55 247.62,925.33 248.12,925.11 248.62,924.89 249.12,924.67 249.63,924.45 250.13,924.23 250.63,924.01 251.13,923.79 251.63,923.58 252.13,923.36 252.63,923.15 253.13,922.94 253.63,922.73 254.13,922.52 254.63,922.31 255.13,922.1 255.64,921.89 256.14,921.69 256.64,921.48 257.14,921.28 257.64,921.07 258.14,920.87 258.64,920.67 259.14,920.47 259.64,920.27 260.14,920.07 260.64,919.88 261.14,919.68 261.65,919.49 262.15,919.29 262.65,919.1 263.15,918.91 263.65,918.72 264.15,918.53 264.65,918.34 265.15,918.15 265.65,917.97 266.15,917.78 266.65,917.6 267.16,917.42 267.66,917.23 268.16,917.05 268.66,916.87 269.16,916.7 269.66,916.52 270.16,916.34 270.66,916.17 271.16,915.99 271.66,915.82 272.16,915.65 272.66,915.47 273.17,915.3 273.67,915.14 274.17,914.97 274.67,914.8 275.17,914.63 275.67,914.47 276.17,914.31 276.67,914.14 277.17,913.98 277.67,913.82 278.17,913.66 278.67,913.5 279.18,913.35 279.68,913.19 280.18,913.04 280.68,912.88 281.18,912.73 281.68,912.58 282.18,912.43 282.68,912.28 283.18,912.13 283.68,911.98 284.18,911.84 284.69,911.69 285.19,911.55 285.69,911.4 286.19,911.26 286.69,911.12 287.19,910.98 287.69,910.84 288.19,910.71 288.69,910.57 289.19,910.43 289.69,910.3 290.19,910.17 290.7,910.04 291.2,909.9 291.7,909.78 292.2,909.65 292.7,909.52 293.2,909.39 293.7,909.27 294.2,909.14 294.7,909.02 295.2,908.9 295.7,908.78 296.2,908.66 296.71,908.54 297.21,908.42 297.71,908.31 298.21,908.19 298.71,908.08 299.21,907.97 299.71,907.85 300.21,907.74 300.71,907.63 301.21,907.53 301.71,907.42 302.22,907.31 302.72,907.21 303.22,907.1 303.72,907 304.22,906.9 304.72,906.8 305.22,906.7 305.72,906.6 306.22,906.5 306.72,906.41 307.22,906.31 307.72,906.22 308.23,906.13 308.73,906.04 309.23,905.95 309.73,905.86 310.23,905.77 310.73,905.68 311.23,905.6 311.73,905.51 312.23,905.43 312.73,905.35 313.23,905.27 313.73,905.19 314.24,905.11 314.74,905.03 315.24,904.96 315.74,904.88 316.24,904.81 316.74,904.74 317.24,904.66 317.74,904.59 318.24,904.52 318.74,904.46 319.24,904.39 319.75,904.32 320.25,904.26 320.75,904.2 321.25,904.13 321.75,904.07 322.25,904.01 322.75,903.95 323.25,903.9 323.75,903.84 324.25,903.79 324.75,903.73 325.25,903.68 325.76,903.63 326.26,903.58 326.76,903.53 327.26,903.48 327.76,903.43 328.26,903.39 328.76,903.34 329.26,903.3 329.76,903.26 330.26,903.22 330.76,903.18 331.26,903.14 331.77,903.1 332.27,903.07 332.77,903.03 333.27,903 333.77,902.96 334.27,902.93 334.77,902.9 335.27,902.87 335.77,902.85 336.27,902.82 336.77,902.79 337.28,902.77 337.78,902.75 338.28,902.73 338.78,902.71 339.28,902.69 339.78,902.67 340.28,902.65 340.78,902.64 341.28,902.62 341.78,902.61 342.28,902.6 342.78,902.59 343.29,902.58 343.79,902.57 344.29,902.56 344.79,902.55 345.29,902.55 345.79,902.55 346.29,902.54 346.79,902.54 347.29,902.54 347.79,902.54 348.29,902.55 348.79,902.55 349.3,902.56 349.8,902.56 350.3,902.57 350.8,902.58 351.3,902.59 351.8,902.6 352.3,902.61 352.8,902.63 353.3,902.64 353.8,902.66 354.3,902.68 354.81,902.69 355.31,902.71 355.81,902.73 356.31,902.76 356.81,902.78 357.31,902.81 357.81,902.83 358.31,902.86 358.81,902.89 359.31,902.92 359.81,902.95 360.31,902.98 360.82,903.01 361.32,903.05 361.82,903.08 362.32,903.12 362.82,903.16 363.32,903.2 363.82,903.24 364.32,903.28 364.82,903.32 365.32,903.37 365.82,903.41 366.32,903.46 366.83,903.51 367.33,903.56 367.83,903.61 368.33,903.66 368.83,903.71 369.33,903.77 369.83,903.82 370.33,903.88 370.83,903.94 371.33,904 371.83,904.06 372.34,904.12 372.84,904.18 373.34,904.24 373.84,904.31 374.34,904.38 374.84,904.44 375.34,904.51 375.84,904.58 376.34,904.65 376.84,904.73 377.34,904.8 377.84,904.87 378.35,904.95 378.85,905.03 379.35,905.11 379.85,905.19 380.35,905.27 380.85,905.35 381.35,905.43 381.85,905.52 382.35,905.6 382.85,905.69 383.35,905.78 383.86,905.87 384.36,905.96 384.86,906.05 385.36,906.14 385.86,906.24 386.36,906.33 386.86,906.43 387.36,906.53 387.86,906.63 388.36,906.73 388.86,906.83 389.36,906.93 389.87,907.04 390.37,907.14 390.87,907.25 391.37,907.36 391.87,907.47 392.37,907.58 392.87,907.69 393.37,907.8 393.87,907.92 394.37,908.03 394.87,908.15 395.37,908.27 395.88,908.39 396.38,908.51 396.88,908.63 397.38,908.75 397.88,908.87 398.38,909 398.88,909.12 399.38,909.25 399.88,909.38 400.38,909.51 400.88,909.64 401.39,909.77 401.89,909.91 402.39,910.04 402.89,910.18 403.39,910.32 403.89,910.45 404.39,910.59 404.89,910.73 405.39,910.88 405.89,911.02 406.39,911.16 406.89,911.31 407.4,911.46 407.9,911.6 408.4,911.75 408.9,911.9 409.4,912.06 409.9,912.21 410.4,912.36 410.9,912.52 411.4,912.68 411.9,912.83 412.4,912.99 412.9,913.15 413.41,913.32 413.91,913.48 414.41,913.64 414.91,913.81 415.41,913.97 415.91,914.14 416.41,914.31 416.91,914.48 417.41,914.65 417.91,914.82 418.41,915 418.92,915.17 419.42,915.35 419.92,915.53 420.42,915.71 420.92,915.89 421.42,916.07 421.92,916.25 422.42,916.43 422.92,916.62 423.42,916.8 423.92,916.99 424.42,917.18 424.93,917.37 425.43,917.56 425.93,917.75 426.43,917.94 426.93,918.14 427.43,918.33 427.93,918.53 428.43,918.73 428.93,918.93 429.43,919.13 429.93,919.33 430.43,919.53 430.94,919.74 431.44,919.94 431.94,920.15 432.44,920.36 432.94,920.57 433.44,920.78 433.94,920.99 434.44,921.2 434.94,921.41 435.44,921.63 435.94,921.85 436.45,922.06 436.95,922.28 437.45,922.5 437.95,922.72 438.45,922.95 438.95,923.17 439.45,923.39 439.95,923.62 440.45,923.85 440.95,924.08 441.45,924.31 441.95,924.54 442.46,924.77 442.96,925 443.46,925.24 443.96,925.47 444.46,925.71 444.96,925.95 445.46,926.19 445.96,926.43 446.46,926.67 446.96,926.91 447.46,927.16 447.96,927.4 448.47,927.65 448.97,927.9 449.47,928.15 449.97,928.4 450.47,928.65 450.97,928.9 451.47,929.15 451.97,929.41 452.47,929.67 452.97,929.92 453.47,930.18 453.98,930.44 454.48,930.7 454.98,930.97 455.48,931.23 455.98,931.49 456.48,931.76 456.98,932.03 457.48,932.3 457.98,932.57 458.48,932.84 458.98,933.11 459.48,933.38 459.99,933.66 460.49,933.93 460.99,934.21 461.49,934.49 461.99,934.77 462.49,935.05 462.99,935.33 463.49,935.61 463.99,935.9 464.49,936.18 464.99,936.47 465.49,936.76 466,937.05 466.5,937.34 467,937.63 467.5,937.92 468,938.22 468.5,938.51" fill="none" stroke="#0000c8" stroke-width="1.75" stroke-dasharray="7,5" stroke-linejoin="round" />
<path d="M159.7,940.11 160.2,939.13 160.7,938.17 161.2,937.21 161.7,936.27 162.2,935.34 162.71,934.41 163.21,933.5 163.71,932.6 164.21,931.71 164.71,930.82 165.21,929.95 165.71,929.09 166.21,928.24 166.71,927.39 167.21,926.56 167.71,925.74 168.21,924.92 168.71,924.12 169.21,923.32 169.71,922.53 170.21,921.76 170.71,920.99 171.21,920.23 171.71,919.48 172.21,918.74 172.72,918 173.22,917.28 173.72,916.56 174.22,915.86 174.72,915.16 175.22,914.47 175.72,913.79 176.22,913.11 176.72,912.44 177.22,911.79 177.72,911.14 178.22,910.49 178.72,909.86 179.22,909.23 179.72,908.61 180.22,908 180.72,907.4 181.22,906.8 181.72,906.21 182.22,905.63 182.72,905.05 183.23,904.48 183.73,903.92 184.23,903.36 184.73,902.81 185.23,902.27 185.73,901.74 186.23,901.21 186.73,900.69 187.23,900.17 187.73,899.66 188.23,899.16 188.73,898.66 189.23,898.17 189.73,897.68 190.23,897.2 190.73,896.73 191.23,896.26 191.73,895.79 192.23,895.34 192.73,894.88 193.23,894.44 193.74,893.99 194.24,893.56 194.74,893.13 195.24,892.7 195.74,892.28 196.24,891.86 196.74,891.45 197.24,891.04 197.74,890.64 198.24,890.24 198.74,889.85 199.24,889.46 199.74,889.07 200.24,888.69 200.74,888.31 201.24,887.94 201.74,887.57 202.24,887.2 202.74,886.84 203.24,886.48 203.74,886.13 204.25,885.78 204.75,885.43 205.25,885.09 205.75,884.74 206.25,884.41 206.75,884.07 207.25,883.74 207.75,883.41 208.25,883.08 208.75,882.76 209.25,882.44 209.75,882.12 210.25,881.8 210.75,881.49 211.25,881.18 211.75,880.87 212.25,880.56 212.75,880.26 213.25,879.96 213.75,879.66 214.26,879.36 214.76,879.06 215.26,878.76 215.76,878.47 216.26,878.18 216.76,877.89 217.26,877.6 217.76,877.31 218.26,877.02 218.76,876.74 219.26,876.45 219.76,876.17 220.26,875.88 220.76,875.6 221.26,875.32 221.76,875.04 222.26,874.77 222.76,874.49 223.26,874.21 223.76,873.94 224.26,873.66 224.77,873.39 225.27,873.12 225.77,872.85 226.27,872.58 226.77,872.32 227.27,872.05 227.77,871.78 228.27,871.52 228.77,871.26 229.27,871 229.77,870.74 230.27,870.48 230.77,870.22 231.27,869.96 231.77,869.71 232.27,869.45 232.77,869.2 233.27,868.95 233.77,868.7 234.27,868.45 234.77,868.2 235.28,867.95 235.78,867.7 236.28,867.46 236.78,867.22 237.28,866.97 237.78,866.73 238.28,866.49 238.78,866.25 239.28,866.01 239.78,865.78 240.28,865.54 240.78,865.31 241.28,865.07 241.78,864.84 242.28,864.61 242.78,864.38 243.28,864.15 243.78,863.93 244.28,863.7 244.78,863.48 245.28,863.25 245.79,863.03 246.29,862.81 246.79,862.59 247.29,862.37 247.79,862.15 248.29,861.93 248.79,861.72 249.29,861.51 249.79,861.29 250.29,861.08 250.79,860.87 251.29,860.66 251.79,860.45 252.29,860.25 252.79,860.04 253.29,859.84 253.79,859.63 254.29,859.43 254.79,859.23 255.29,859.03 255.8,858.83 256.3,858.63 256.8,858.44 257.3,858.24 257.8,858.05 258.3,857.86 258.8,857.67 259.3,857.48 259.8,857.29 260.3,857.1 260.8,856.91 261.3,856.73 261.8,856.54 262.3,856.36 262.8,856.18 263.3,856 263.8,855.82 264.3,855.64 264.8,855.46 265.3,855.29 265.8,855.11 266.31,854.94 266.81,854.77 267.31,854.6 267.81,854.43 268.31,854.26 268.81,854.09 269.31,853.93 269.81,853.76 270.31,853.6 270.81,853.44 271.31,853.27 271.81,853.11 272.31,852.96 272.81,852.8 273.31,852.64 273.81,852.49 274.31,852.33 274.81,852.18 275.31,852.03 275.81,851.88 276.31,851.73 276.82,851.58 277.32,851.44 277.82,851.29 278.32,851.15 278.82,851 279.32,850.86 279.82,850.72 280.32,850.58 280.82,850.45 281.32,850.31 281.82,850.17 282.32,850.04 282.82,849.91 283.32,849.77 283.82,849.64 284.32,849.51 284.82,849.39 285.32,849.26 285.82,849.13 286.32,849.01 286.82,848.89 287.33,848.76 287.83,848.64 288.33,848.52 288.83,848.4 289.33,848.29 289.83,848.17 290.33,848.06 290.83,847.94 291.33,847.83 291.83,847.72 292.33,847.61 292.83,847.5 293.33,847.4 293.83,847.29 294.33,847.18 294.83,847.08 295.33,846.98 295.83,846.88 296.33,846.78 296.83,846.68 297.34,846.58 297.84,846.49 298.34,846.39 298.84,846.3 299.34,846.2 299.84,846.11 300.34,846.02 300.84,845.93 301.34,845.85 301.84,845.76 302.34,845.68 302.84,845.59 303.34,845.51 303.84,845.43 304.34,845.35 304.84,845.27 305.34,845.19 305.84,845.12 306.34,845.04 306.84,844.97 307.34,844.89 307.85,844.82 308.35,844.75 308.85,844.68 309.35,844.62 309.85,844.55 310.35,844.49 310.85,844.42 311.35,844.36 311.85,844.3 312.35,844.24 312.85,844.18 313.35,844.12 313.85,844.06 314.35,844.01 314.85,843.96 315.35,843.9 315.85,843.85 316.35,843.8 316.85,843.75 317.35,843.71 317.85,843.66 318.36,843.61 318.86,843.57 319.36,843.53 319.86,843.49 320.36,843.44 320.86,843.41 321.36,843.37 321.86,843.33 322.36,843.3 322.86,843.26 323.36,843.23 323.86,843.2 324.36,843.17 324.86,843.14 325.36,843.11 325.86,843.08 326.36,843.06 326.86,843.03 327.36,843.01 327.86,842.99 328.36,842.97 328.87,842.95 329.37,842.93 329.87,842.91 330.37,842.89 330.87,842.88 331.37,842.87 331.87,842.85 332.37,842.84 332.87,842.83 333.37,842.82 333.87,842.81 334.37,842.81 334.87,842.8 335.37,842.8 335.87,842.8 336.37,842.79 336.87,842.79 337.37,842.79 337.87,842.79 338.37,842.8 338.88,842.8 339.38,842.81 339.88,842.81 340.38,842.82 340.88,842.83 341.38,842.84 341.88,842.85 342.38,842.86 342.88,842.87 343.38,842.89 343.88,842.9 344.38,842.92 344.88,842.94 345.38,842.96 345.88,842.98 346.38,843 346.88,843.02 347.38,843.05 347.88,843.07 348.38,843.1 348.88,843.12 349.39,843.15 349.89,843.18 350.39,843.21 350.89,843.24 351.39,843.28 351.89,843.31 352.39,843.34 352.89,843.38 353.39,843.42 353.89,843.46 354.39,843.5 354.89,843.54 355.39,843.58 355.89,843.62 356.39,843.66 356.89,843.71 357.39,843.76 357.89,843.8 358.39,843.85 358.89,843.9 359.39,843.95 359.9,844 360.4,844.06 360.9,844.11 361.4,844.16 361.9,844.22 362.4,844.28 362.9,844.34 363.4,844.4 363.9,844.46 364.4,844.52 364.9,844.58 365.4,844.64 365.9,844.71 366.4,844.77 366.9,844.84 367.4,844.91 367.9,844.98 368.4,845.05 368.9,845.12 369.4,845.19 369.91,845.27 370.41,845.34 370.91,845.42 371.41,845.49 371.91,845.57 372.41,845.65 372.91,845.73 373.41,845.81 373.91,845.89 374.41,845.98 374.91,846.06 375.41,846.14 375.91,846.23 376.41,846.32 376.91,846.41 377.41,846.5 377.91,846.59 378.41,846.68 378.91,846.77 379.41,846.86 379.91,846.96 380.42,847.05 380.92,847.15 381.42,847.25 381.92,847.35 382.42,847.45 382.92,847.55 383.42,847.65 383.92,847.75 384.42,847.86 384.92,847.96 385.42,848.07 385.92,848.18 386.42,848.28 386.92,848.39 387.42,848.5 387.92,848.61 388.42,848.73 388.92,848.84 389.42,848.95 389.92,849.07 390.42,849.18 390.93,849.3 391.43,849.42 391.93,849.54 392.43,849.66 392.93,849.78 393.43,849.9 393.93,850.03 394.43,850.15 394.93,850.28 395.43,850.4 395.93,850.53 396.43,850.66 396.93,850.79 397.43,850.92 397.93,851.05 398.43,851.18 398.93,851.31 399.43,851.45 399.93,851.58 400.43,851.72 400.93,851.86 401.44,851.99 401.94,852.13 402.44,852.27 402.94,852.41 403.44,852.56 403.94,852.7 404.44,852.84 404.94,852.99 405.44,853.13 405.94,853.28 406.44,853.43 406.94,853.58 407.44,853.73 407.94,853.88 408.44,854.03 408.94,854.18 409.44,854.34 409.94,854.49 410.44,854.65 410.94,854.8 411.45,854.96 411.95,855.12 412.45,855.28 412.95,855.44 413.45,855.6 413.95,855.76 414.45,855.92 414.95,856.09 415.45,856.25 415.95,856.42 416.45,856.58 416.95,856.75 417.45,856.92 417.95,857.09 418.45,857.26 418.95,857.43 419.45,857.6 419.95,857.78 420.45,857.95 420.95,858.13 421.45,858.3 421.96,858.48 422.46,858.66 422.96,858.84 423.46,859.02 423.96,859.2 424.46,859.38 424.96,859.56 425.46,859.74 425.96,859.93 426.46,860.11 426.96,860.3 427.46,860.49 427.96,860.67 428.46,860.86 428.96,861.05 429.46,861.24 429.96,861.43 430.46,861.63 430.96,861.82 431.46,862.01 431.96,862.21 432.47,862.4 432.97,862.6 433.47,862.8 433.97,863 434.47,863.2 434.97,863.4 435.47,863.6 435.97,863.8 436.47,864 436.97,864.21 437.47,864.41 437.97,864.62 438.47,864.82 438.97,865.03 439.47,865.24 439.97,865.45 440.47,865.66 440.97,865.87 441.47,866.08 441.97,866.29 442.47,866.5 442.98,866.72 443.48,866.93 443.98,867.15 444.48,867.37 444.98,867.58 445.48,867.8 445.98,868.02 446.48,868.24 446.98,868.46 447.48,868.68 447.98,868.91 448.48,869.13 448.98,869.35 449.48,869.58 449.98,869.8 450.48,870.03 450.98,870.26 451.48,870.49 451.98,870.72 452.48,870.95 452.99,871.18 453.49,871.41 453.99,871.64 454.49,871.87 454.99,872.11 455.49,872.34 455.99,872.58 456.49,872.82 456.99,873.05 457.49,873.29 457.99,873.53 458.49,873.77 458.99,874.01 459.49,874.25 459.99,874.49 460.49,874.74 460.99,874.98 461.49,875.22 461.99,875.47 462.49,875.72 462.99,875.96 463.5,876.21 464,876.46 464.5,876.71 465,876.96 465.5,877.21 466,877.46 466.5,877.71 467,877.97 467.5,878.22 468,878.48 468.5,878.73" fill="none" stroke="#0000c8" stroke-width="1.75" stroke-dasharray="7,5" stroke-linejoin="round" />
<path d="M156.57,894.03 157.07,893.28 157.57,892.52 158.07,891.77 158.57,891.03 159.07,890.29 159.57,889.56 160.07,888.84 160.57,888.11 161.07,887.4 161.57,886.69 162.08,885.98 162.58,885.28 163.08,884.58 163.58,883.89 164.08,883.2 164.58,882.52 165.08,881.84 165.58,881.17 166.08,880.5 166.58,879.84 167.08,879.18 167.58,878.53 168.08,877.88 168.58,877.24 169.08,876.6 169.59,875.97 170.09,875.34 170.59,874.71 171.09,874.09 171.59,873.48 172.09,872.87 172.59,872.26 173.09,871.66 173.59,871.06 174.09,870.47 174.59,869.88 175.09,869.3 175.59,868.72 176.09,868.14 176.6,867.57 177.1,867 177.6,866.44 178.1,865.88 178.6,865.33 179.1,864.78 179.6,864.23 180.1,863.69 180.6,863.16 181.1,862.62 181.6,862.09 182.1,861.57 182.6,861.05 183.1,860.53 183.6,860.02 184.11,859.51 184.61,859 185.11,858.5 185.61,858 186.11,857.51 186.61,857.02 187.11,856.54 187.61,856.05 188.11,855.58 188.61,855.1 189.11,854.63 189.61,854.16 190.11,853.7 190.61,853.24 191.12,852.78 191.62,852.33 192.12,851.88 192.62,851.44 193.12,850.99 193.62,850.55 194.12,850.12 194.62,849.69 195.12,849.26 195.62,848.84 196.12,848.41 196.62,848 197.12,847.58 197.62,847.17 198.13,846.76 198.63,846.36 199.13,845.96 199.63,845.56 200.13,845.16 200.63,844.77 201.13,844.38 201.63,844 202.13,843.61 202.63,843.23 203.13,842.86 203.63,842.48 204.13,842.11 204.63,841.75 205.13,841.38 205.64,841.02 206.14,840.66 206.64,840.31 207.14,839.95 207.64,839.6 208.14,839.26 208.64,838.91 209.14,838.57 209.64,838.23 210.14,837.9 210.64,837.56 211.14,837.23 211.64,836.9 212.14,836.58 212.65,836.26 213.15,835.93 213.65,835.62 214.15,835.3 214.65,834.99 215.15,834.68 215.65,834.37 216.15,834.07 216.65,833.76 217.15,833.46 217.65,833.17 218.15,832.87 218.65,832.58 219.15,832.29 219.65,832 220.16,831.71 220.66,831.43 221.16,831.15 221.66,830.87 222.16,830.59 222.66,830.31 223.16,830.04 223.66,829.77 224.16,829.5 224.66,829.23 225.16,828.97 225.66,828.7 226.16,828.44 226.66,828.18 227.17,827.93 227.67,827.67 228.17,827.42 228.67,827.17 229.17,826.92 229.67,826.67 230.17,826.42 230.67,826.18 231.17,825.94 231.67,825.7 232.17,825.46 232.67,825.22 233.17,824.99 233.67,824.75 234.18,824.52 234.68,824.29 235.18,824.06 235.68,823.83 236.18,823.6 236.68,823.38 237.18,823.16 237.68,822.94 238.18,822.71 238.68,822.5 239.18,822.28 239.68,822.06 240.18,821.85 240.68,821.63 241.18,821.42 241.69,821.21 242.19,821 242.69,820.79 243.19,820.58 243.69,820.38 244.19,820.17 244.69,819.97 245.19,819.77 245.69,819.56 246.19,819.36 246.69,819.16 247.19,818.97 247.69,818.77 248.19,818.57 248.7,818.37 249.2,818.18 249.7,817.99 250.2,817.79 250.7,817.6 251.2,817.41 251.7,817.22 252.2,817.03 252.7,816.84 253.2,816.65 253.7,816.47 254.2,816.28 254.7,816.09 255.2,815.91 255.7,815.73 256.21,815.55 256.71,815.36 257.21,815.18 257.71,815 258.21,814.83 258.71,814.65 259.21,814.47 259.71,814.3 260.21,814.12 260.71,813.95 261.21,813.77 261.71,813.6 262.21,813.43 262.71,813.26 263.22,813.09 263.72,812.92 264.22,812.76 264.72,812.59 265.22,812.42 265.72,812.26 266.22,812.1 266.72,811.93 267.22,811.77 267.72,811.61 268.22,811.45 268.72,811.29 269.22,811.14 269.72,810.98 270.23,810.82 270.73,810.67 271.23,810.52 271.73,810.36 272.23,810.21 272.73,810.06 273.23,809.91 273.73,809.76 274.23,809.62 274.73,809.47 275.23,809.32 275.73,809.18 276.23,809.03 276.73,808.89 277.23,808.75 277.74,808.61 278.24,808.47 278.74,808.33 279.24,808.19 279.74,808.06 280.24,807.92 280.74,807.79 281.24,807.65 281.74,807.52 282.24,807.39 282.74,807.26 283.24,807.13 283.74,807 284.24,806.87 284.75,806.75 285.25,806.62 285.75,806.5 286.25,806.37 286.75,806.25 287.25,806.13 287.75,806.01 288.25,805.89 288.75,805.77 289.25,805.66 289.75,805.54 290.25,805.43 290.75,805.31 291.25,805.2 291.75,805.09 292.26,804.98 292.76,804.87 293.26,804.76 293.76,804.65 294.26,804.54 294.76,804.44 295.26,804.34 295.76,804.23 296.26,804.13 296.76,804.03 297.26,803.93 297.76,803.83 298.26,803.73 298.76,803.64 299.27,803.54 299.77,803.45 300.27,803.35 300.77,803.26 301.27,803.17 301.77,803.08 302.27,802.99 302.77,802.9 303.27,802.82 303.77,802.73 304.27,802.65 304.77,802.57 305.27,802.48 305.77,802.4 306.28,802.32 306.78,802.24 307.28,802.17 307.78,802.09 308.28,802.01 308.78,801.94 309.28,801.87 309.78,801.79 310.28,801.72 310.78,801.65 311.28,801.59 311.78,801.52 312.28,801.45 312.78,801.39 313.28,801.32 313.79,801.26 314.29,801.2 314.79,801.14 315.29,801.08 315.79,801.02 316.29,800.96 316.79,800.91 317.29,800.85 317.79,800.8 318.29,800.75 318.79,800.7 319.29,800.65 319.79,800.6 320.29,800.55 320.8,800.51 321.3,800.46 321.8,800.42 322.3,800.37 322.8,800.33 323.3,800.29 323.8,800.25 324.3,800.21 324.8,800.18 325.3,800.14 325.8,800.11 326.3,800.07 326.8,800.04 327.3,800.01 327.8,799.98 328.31,799.95 328.81,799.93 329.31,799.9 329.81,799.88 330.31,799.85 330.81,799.83 331.31,799.81 331.81,799.79 332.31,799.77 332.81,799.75 333.31,799.74 333.81,799.72 334.31,799.71 334.81,799.7 335.32,799.69 335.82,799.68 336.32,799.67 336.82,799.66 337.32,799.65 337.82,799.65 338.32,799.65 338.82,799.64 339.32,799.64 339.82,799.64 340.32,799.64 340.82,799.65 341.32,799.65 341.82,799.66 342.33,799.66 342.83,799.67 343.33,799.68 343.83,799.69 344.33,799.7 344.83,799.71 345.33,799.73 345.83,799.74 346.33,799.76 346.83,799.78 347.33,799.8 347.83,799.82 348.33,799.84 348.83,799.86 349.33,799.89 349.84,799.91 350.34,799.94 350.84,799.96 351.34,799.99 351.84,800.02 352.34,800.05 352.84,800.09 353.34,800.12 353.84,800.16 354.34,800.19 354.84,800.23 355.34,800.27 355.84,800.31 356.34,800.35 356.85,800.39 357.35,800.43 357.85,800.48 358.35,800.52 358.85,800.57 359.35,800.62 359.85,800.67 360.35,800.72 360.85,800.77 361.35,800.82 361.85,800.88 362.35,800.93 362.85,800.99 363.35,801.05 363.85,801.11 364.36,801.17 364.86,801.23 365.36,801.29 365.86,801.35 366.36,801.42 366.86,801.48 367.36,801.55 367.86,801.62 368.36,801.69 368.86,801.76 369.36,801.83 369.86,801.9 370.36,801.98 370.86,802.05 371.37,802.13 371.87,802.2 372.37,802.28 372.87,802.36 373.37,802.44 373.87,802.52 374.37,802.61 374.87,802.69 375.37,802.78 375.87,802.86 376.37,802.95 376.87,803.04 377.37,803.13 377.87,803.22 378.38,803.31 378.88,803.4 379.38,803.5 379.88,803.59 380.38,803.69 380.88,803.79 381.38,803.88 381.88,803.98 382.38,804.08 382.88,804.19 383.38,804.29 383.88,804.39 384.38,804.5 384.88,804.6 385.38,804.71 385.89,804.82 386.39,804.93 386.89,805.04 387.39,805.15 387.89,805.26 388.39,805.38 388.89,805.49 389.39,805.61 389.89,805.73 390.39,805.84 390.89,805.96 391.39,806.08 391.89,806.2 392.39,806.33 392.9,806.45 393.4,806.57 393.9,806.7 394.4,806.82 394.9,806.95 395.4,807.08 395.9,807.21 396.4,807.34 396.9,807.47 397.4,807.6 397.9,807.74 398.4,807.87 398.9,808.01 399.4,808.15 399.9,808.28 400.41,808.42 400.91,808.56 401.41,808.7 401.91,808.84 402.41,808.99 402.91,809.13 403.41,809.28 403.91,809.42 404.41,809.57 404.91,809.72 405.41,809.87 405.91,810.02 406.41,810.17 406.91,810.32 407.42,810.47 407.92,810.63 408.42,810.78 408.92,810.94 409.42,811.09 409.92,811.25 410.42,811.41 410.92,811.57 411.42,811.73 411.92,811.89 412.42,812.05 412.92,812.22 413.42,812.38 413.92,812.55 414.43,812.72 414.93,812.88 415.43,813.05 415.93,813.22 416.43,813.39 416.93,813.56 417.43,813.74 417.93,813.91 418.43,814.08 418.93,814.26 419.43,814.43 419.93,814.61 420.43,814.79 420.93,814.97 421.43,815.15 421.94,815.33 422.44,815.51 422.94,815.69 423.44,815.88 423.94,816.06 424.44,816.25 424.94,816.43 425.44,816.62 425.94,816.81 426.44,817 426.94,817.19 427.44,817.38 427.94,817.57 428.44,817.76 428.95,817.96 429.45,818.15 429.95,818.35 430.45,818.54 430.95,818.74 431.45,818.94 431.95,819.14 432.45,819.34 432.95,819.54 433.45,819.74 433.95,819.94 434.45,820.15 434.95,820.35 435.45,820.56 435.95,820.76 436.46,820.97 436.96,821.18 437.46,821.39 437.96,821.6 438.46,821.81 438.96,822.02 439.46,822.23 439.96,822.45 440.46,822.66 440.96,822.87 441.46,823.09 441.96,823.31 442.46,823.52 442.96,823.74 443.47,823.96 443.97,824.18 444.47,824.4 444.97,824.62 445.47,824.85 445.97,825.07 446.47,825.29 446.97,825.52 447.47,825.74 447.97,825.97 448.47,826.2 448.97,826.43 449.47,826.66 449.97,826.89 450.48,827.12 450.98,827.35 451.48,827.58 451.98,827.81 452.48,828.05 452.98,828.28 453.48,828.52 453.98,828.76 454.48,828.99 454.98,829.23 455.48,829.47 455.98,829.71 456.48,829.95 456.98,830.19 457.48,830.43 457.99,830.68 458.49,830.92 458.99,831.16 459.49,831.41 459.99,831.65 460.49,831.9 460.99,832.15 461.49,832.4 461.99,832.65 462.49,832.9 462.99,833.15 463.49,833.4 463.99,833.65 464.49,833.9 465,834.16 465.5,834.41 466,834.67 466.5,834.92 467,835.18 467.5,835.44 468,835.69 468.5,835.95" fill="none" stroke="#0000c8" stroke-width="1.75" stroke-dasharray="7,5" stroke-linejoin="round" />
<path d="M155,875.52 155.5,874.88 156,874.24 156.5,873.61 157,872.99 157.5,872.38 158,871.77 158.5,871.16 159,870.56 159.5,869.97 160,869.39 160.5,868.81 161,868.23 161.5,867.66 162,867.1 162.5,866.54 163,865.99 163.5,865.45 164,864.91 164.5,864.37 165,863.84 165.5,863.32 166,862.8 166.5,862.29 167,861.78 167.5,861.28 168,860.78 168.5,860.29 169,859.8 169.5,859.32 170,858.84 170.5,858.37 171,857.9 171.5,857.44 172,856.98 172.5,856.53 173,856.08 173.5,855.64 174,855.2 174.5,854.76 175,854.33 175.5,853.91 176,853.49 176.5,853.07 177,852.66 177.5,852.25 178,851.84 178.5,851.44 179,851.05 179.5,850.65 180,850.27 180.5,849.88 181,849.5 181.5,849.12 182,848.75 182.5,848.38 183,848.02 183.5,847.65 184,847.29 184.5,846.94 185,846.59 185.5,846.24 186,845.89 186.5,845.55 187,845.21 187.5,844.88 188,844.55 188.5,844.22 189,843.89 189.5,843.57 190,843.25 190.5,842.93 191,842.62 191.5,842.31 192,842 192.5,841.69 193,841.39 193.5,841.09 194,840.79 194.5,840.5 195,840.2 195.5,839.91 196,839.62 196.5,839.34 197,839.05 197.5,838.77 198,838.49 198.5,838.22 199,837.94 199.5,837.67 200,837.4 200.5,837.13 201,836.86 201.5,836.59 202,836.33 202.5,836.07 203,835.81 203.5,835.55 204,835.29 204.5,835.03 205,834.78 205.5,834.52 206,834.27 206.5,834.02 207,833.77 207.5,833.52 208,833.28 208.5,833.03 209,832.79 209.5,832.54 210,832.3 210.5,832.06 211,831.81 211.5,831.57 212,831.33 212.5,831.09 213,830.86 213.5,830.62 214,830.38 214.5,830.14 215,829.91 215.5,829.67 216,829.43 216.5,829.2 217,828.96 217.5,828.73 218,828.49 218.5,828.26 219,828.02 219.5,827.79 220,827.55 220.5,827.32 221,827.08 221.5,826.85 222,826.62 222.5,826.38 223,826.15 223.5,825.91 224,825.68 224.5,825.45 225,825.21 225.5,824.98 226,824.75 226.5,824.52 227,824.28 227.5,824.05 228,823.82 228.5,823.59 229,823.36 229.5,823.12 230,822.89 230.5,822.66 231,822.43 231.5,822.2 232,821.97 232.5,821.74 233,821.51 233.5,821.28 234,821.05 234.5,820.82 235,820.59 235.5,820.37 236,820.14 236.5,819.91 237,819.68 237.5,819.45 238,819.23 238.5,819 239,818.77 239.5,818.55 240,818.32 240.5,818.1 241,817.87 241.5,817.64 242,817.42 242.5,817.2 243,816.97 243.5,816.75 244,816.52 244.5,816.3 245,816.08 245.5,815.86 246,815.63 246.5,815.41 247,815.19 247.5,814.97 248,814.75 248.5,814.53 249,814.31 249.5,814.09 250,813.87 250.5,813.65 251,813.44 251.5,813.22 252,813 252.5,812.78 253,812.57 253.5,812.35 254,812.14 254.5,811.92 255,811.71 255.5,811.49 256,811.28 256.5,811.07 257,810.85 257.5,810.64 258,810.43 258.5,810.22 259,810.01 259.5,809.8 260,809.59 260.5,809.38 261,809.17 261.5,808.96 262,808.75 262.5,808.54 263,808.34 263.5,808.13 264,807.92 264.5,807.72 265,807.51 265.5,807.31 266,807.11 266.5,806.9 267,806.7 267.5,806.5 268,806.3 268.5,806.1 269,805.9 269.5,805.7 270,805.5 270.5,805.3 271,805.1 271.5,804.9 272,804.71 272.5,804.51 273,804.31 273.5,804.12 274,803.92 274.5,803.73 275,803.54 275.5,803.34 276,803.15 276.5,802.96 277,802.77 277.5,802.58 278,802.39 278.5,802.2 279,802.02 279.5,801.83 280,801.64 280.5,801.46 281,801.27 281.5,801.09 282,800.9 282.5,800.72 283,800.54 283.5,800.35 284,800.17 284.5,799.99 285,799.81 285.5,799.63 286,799.46 286.5,799.28 287,799.1 287.5,798.93 288,798.75 288.5,798.58 289,798.4 289.5,798.23 290,798.06 290.5,797.89 291,797.72 291.5,797.55 292,797.38 292.5,797.21 293,797.04 293.5,796.87 294,796.71 294.5,796.54 295,796.38 295.5,796.22 296,796.05 296.5,795.89 297,795.73 297.5,795.57 298,795.41 298.5,795.25 299,795.09 299.5,794.94 300,794.78 300.5,794.63 301,794.47 301.5,794.32 302,794.17 302.5,794.02 303,793.86 303.5,793.71 304,793.57 304.5,793.42 305,793.27 305.5,793.12 306,792.98 306.5,792.84 307,792.69 307.5,792.55 308,792.41 308.5,792.27 309,792.13 309.5,791.99 310,791.85 310.5,791.71 311,791.58 311.5,791.44 312,791.31 312.5,791.18 313,791.04 313.5,790.91 314,790.78 314.5,790.65 315,790.53 315.5,790.4 316,790.27 316.5,790.15 317,790.02 317.5,789.9 318,789.78 318.5,789.66 319,789.54 319.5,789.42 320,789.3 320.5,789.18 321,789.07 321.5,788.95 322,788.84 322.5,788.73 323,788.62 323.5,788.5 324,788.4 324.5,788.29 325,788.18 325.5,788.07 326,787.97 326.5,787.86 327,787.76 327.5,787.66 328,787.56 328.5,787.46 329,787.36 329.5,787.26 330,787.17 330.5,787.07 331,786.98 331.5,786.89 332,786.8 332.5,786.7 333,786.62 333.5,786.53 334,786.44 334.5,786.35 335,786.27 335.5,786.19 336,786.1 336.5,786.02 337,785.94 337.5,785.87 338,785.79 338.5,785.71 339,785.64 339.5,785.56 340,785.49 340.5,785.42 341,785.35 341.5,785.28 342,785.21 342.5,785.15 343,785.08 343.5,785.02 344,784.96 344.5,784.89 345,784.83 345.5,784.77 346,784.72 346.5,784.66 347,784.61 347.5,784.55 348,784.5 348.5,784.45 349,784.4 349.5,784.35 350,784.3 350.5,784.26 351,784.21 351.5,784.17 352,784.13 352.5,784.09 353,784.05 353.5,784.01 354,783.97 354.5,783.94 355,783.9 355.5,783.87 356,783.84 356.5,783.81 357,783.78 357.5,783.75 358,783.72 358.5,783.7 359,783.67 359.5,783.65 360,783.63 360.5,783.61 361,783.59 361.5,783.58 362,783.56 362.5,783.55 363,783.53 363.5,783.52 364,783.51 364.5,783.5 365,783.49 365.5,783.49 366,783.48 366.5,783.48 367,783.48 367.5,783.48 368,783.48 368.5,783.48 369,783.48 369.5,783.49 370,783.49 370.5,783.5 371,783.51 371.5,783.52 372,783.53 372.5,783.54 373,783.56 373.5,783.58 374,783.59 374.5,783.61 375,783.63 375.5,783.65 376,783.68 376.5,783.7 377,783.73 377.5,783.75 378,783.78 378.5,783.81 379,783.84 379.5,783.87 380,783.91 380.5,783.94 381,783.98 381.5,784.02 382,784.06 382.5,784.1 383,784.14 383.5,784.19 384,784.23 384.5,784.28 385,784.33 385.5,784.38 386,784.43 386.5,784.48 387,784.54 387.5,784.59 388,784.65 388.5,784.71 389,784.77 389.5,784.83 390,784.89 390.5,784.96 391,785.03 391.5,785.09 392,785.16 392.5,785.23 393,785.3 393.5,785.38 394,785.45 394.5,785.53 395,785.61 395.5,785.69 396,785.77 396.5,785.85 397,785.93 397.5,786.02 398,786.11 398.5,786.2 399,786.29 399.5,786.38 400,786.47 400.5,786.56 401,786.66 401.5,786.76 402,786.86 402.5,786.96 403,787.06 403.5,787.16 404,787.27 404.5,787.38 405,787.48 405.5,787.59 406,787.71 406.5,787.82 407,787.93 407.5,788.05 408,788.17 408.5,788.29 409,788.41 409.5,788.53 410,788.65 410.5,788.78 411,788.91 411.5,789.04 412,789.17 412.5,789.3 413,789.43 413.5,789.57 414,789.7 414.5,789.84 415,789.98 415.5,790.12 416,790.26 416.5,790.41 417,790.55 417.5,790.7 418,790.85 418.5,791 419,791.16 419.5,791.31 420,791.46 420.5,791.62 421,791.78 421.5,791.94 422,792.1 422.5,792.27 423,792.43 423.5,792.6 424,792.77 424.5,792.94 425,793.11 425.5,793.28 426,793.46 426.5,793.64 427,793.82 427.5,794 428,794.18 428.5,794.36 429,794.55 429.5,794.73 430,794.92 430.5,795.11 431,795.3 431.5,795.5 432,795.69 432.5,795.89 433,796.09 433.5,796.29 434,796.49 434.5,796.69 435,796.9 435.5,797.1 436,797.31 436.5,797.52 437,797.73 437.5,797.95 438,798.16 438.5,798.38 439,798.6 439.5,798.82 440,799.04 440.5,799.26 441,799.49 441.5,799.72 442,799.95 442.5,800.18 443,800.41 443.5,800.64 444,800.88 444.5,801.12 445,801.36 445.5,801.6 446,801.84 446.5,802.08 447,802.33 447.5,802.58 448,802.83 448.5,803.08 449,803.33 449.5,803.59 450,803.84 450.5,804.1 451,804.36 451.5,804.62 452,804.89 452.5,805.15 453,805.42 453.5,805.69 454,805.96 454.5,806.23 455,806.51 455.5,806.78 456,807.06 456.5,807.34 457,807.62 457.5,807.9 458,808.19 458.5,808.48 459,808.76 459.5,809.05 460,809.35 460.5,809.64 461,809.94 461.5,810.23 462,810.53 462.5,810.83 463,811.14 463.5,811.44 464,811.75 464.5,812.06 465,812.37 465.5,812.68 466,812.99 466.5,813.31 467,813.63 467.5,813.95 468,814.27 468.5,814.59" fill="none" stroke="#0000c8" stroke-width="1.75" stroke-dasharray="7,5" stroke-linejoin="round" />
<path d="M161.27,863.02 161.77,862.53 162.27,862.04 162.77,861.55 163.27,861.07 163.77,860.59 164.27,860.12 164.77,859.66 165.27,859.2 165.77,858.74 166.27,858.29 166.77,857.84 167.27,857.39 167.77,856.96 168.28,856.52 168.78,856.09 169.28,855.67 169.78,855.24 170.28,854.83 170.78,854.41 171.28,854.01 171.78,853.6 172.28,853.2 172.78,852.8 173.28,852.41 173.78,852.02 174.28,851.64 174.78,851.26 175.28,850.88 175.78,850.51 176.28,850.14 176.78,849.77 177.28,849.41 177.78,849.05 178.28,848.7 178.78,848.34 179.28,848 179.78,847.65 180.28,847.31 180.78,846.97 181.28,846.64 181.79,846.3 182.29,845.98 182.79,845.65 183.29,845.33 183.79,845.01 184.29,844.69 184.79,844.38 185.29,844.07 185.79,843.76 186.29,843.45 186.79,843.15 187.29,842.85 187.79,842.56 188.29,842.26 188.79,841.97 189.29,841.68 189.79,841.39 190.29,841.11 190.79,840.83 191.29,840.55 191.79,840.27 192.29,839.99 192.79,839.72 193.29,839.45 193.79,839.18 194.29,838.91 194.8,838.65 195.3,838.39 195.8,838.12 196.3,837.87 196.8,837.61 197.3,837.35 197.8,837.1 198.3,836.85 198.8,836.6 199.3,836.35 199.8,836.1 200.3,835.85 200.8,835.61 201.3,835.37 201.8,835.12 202.3,834.88 202.8,834.64 203.3,834.41 203.8,834.17 204.3,833.93 204.8,833.7 205.3,833.47 205.8,833.23 206.3,833 206.8,832.77 207.3,832.54 207.8,832.31 208.31,832.08 208.81,831.86 209.31,831.63 209.81,831.4 210.31,831.18 210.81,830.95 211.31,830.73 211.81,830.5 212.31,830.28 212.81,830.06 213.31,829.83 213.81,829.61 214.31,829.39 214.81,829.16 215.31,828.94 215.81,828.72 216.31,828.5 216.81,828.27 217.31,828.05 217.81,827.83 218.31,827.6 218.81,827.38 219.31,827.16 219.81,826.94 220.31,826.71 220.81,826.49 221.31,826.26 221.82,826.04 222.32,825.82 222.82,825.59 223.32,825.37 223.82,825.14 224.32,824.92 224.82,824.69 225.32,824.47 225.82,824.24 226.32,824.02 226.82,823.8 227.32,823.57 227.82,823.35 228.32,823.12 228.82,822.89 229.32,822.67 229.82,822.44 230.32,822.22 230.82,821.99 231.32,821.77 231.82,821.54 232.32,821.32 232.82,821.09 233.32,820.87 233.82,820.64 234.32,820.42 234.83,820.19 235.33,819.96 235.83,819.74 236.33,819.51 236.83,819.29 237.33,819.06 237.83,818.84 238.33,818.61 238.83,818.39 239.33,818.16 239.83,817.94 240.33,817.71 240.83,817.49 241.33,817.26 241.83,817.03 242.33,816.81 242.83,816.58 243.33,816.36 243.83,816.14 244.33,815.91 244.83,815.69 245.33,815.46 245.83,815.24 246.33,815.01 246.83,814.79 247.33,814.56 247.83,814.34 248.34,814.12 248.84,813.89 249.34,813.67 249.84,813.45 250.34,813.22 250.84,813 251.34,812.78 251.84,812.55 252.34,812.33 252.84,812.11 253.34,811.89 253.84,811.67 254.34,811.44 254.84,811.22 255.34,811 255.84,810.78 256.34,810.56 256.84,810.34 257.34,810.12 257.84,809.9 258.34,809.68 258.84,809.46 259.34,809.24 259.84,809.02 260.34,808.8 260.84,808.58 261.34,808.36 261.85,808.14 262.35,807.92 262.85,807.7 263.35,807.49 263.85,807.27 264.35,807.05 264.85,806.83 265.35,806.62 265.85,806.4 266.35,806.18 266.85,805.97 267.35,805.75 267.85,805.54 268.35,805.32 268.85,805.11 269.35,804.89 269.85,804.68 270.35,804.47 270.85,804.25 271.35,804.04 271.85,803.83 272.35,803.62 272.85,803.4 273.35,803.19 273.85,802.98 274.35,802.77 274.86,802.56 275.36,802.35 275.86,802.14 276.36,801.93 276.86,801.72 277.36,801.52 277.86,801.31 278.36,801.1 278.86,800.89 279.36,800.69 279.86,800.48 280.36,800.27 280.86,800.07 281.36,799.86 281.86,799.66 282.36,799.46 282.86,799.25 283.36,799.05 283.86,798.85 284.36,798.64 284.86,798.44 285.36,798.24 285.86,798.04 286.36,797.84 286.86,797.64 287.36,797.44 287.86,797.24 288.37,797.04 288.87,796.85 289.37,796.65 289.87,796.45 290.37,796.25 290.87,796.06 291.37,795.86 291.87,795.67 292.37,795.48 292.87,795.28 293.37,795.09 293.87,794.9 294.37,794.7 294.87,794.51 295.37,794.32 295.87,794.13 296.37,793.94 296.87,793.75 297.37,793.57 297.87,793.38 298.37,793.19 298.87,793 299.37,792.82 299.87,792.63 300.37,792.45 300.87,792.26 301.37,792.08 301.88,791.9 302.38,791.71 302.88,791.53 303.38,791.35 303.88,791.17 304.38,790.99 304.88,790.81 305.38,790.63 305.88,790.46 306.38,790.28 306.88,790.1 307.38,789.93 307.88,789.75 308.38,789.58 308.88,789.41 309.38,789.23 309.88,789.06 310.38,788.89 310.88,788.72 311.38,788.55 311.88,788.38 312.38,788.21 312.88,788.04 313.38,787.88 313.88,787.71 314.38,787.55 314.88,787.38 315.39,787.22 315.89,787.05 316.39,786.89 316.89,786.73 317.39,786.57 317.89,786.41 318.39,786.25 318.89,786.09 319.39,785.93 319.89,785.78 320.39,785.62 320.89,785.46 321.39,785.31 321.89,785.16 322.39,785 322.89,784.85 323.39,784.7 323.89,784.55 324.39,784.4 324.89,784.25 325.39,784.1 325.89,783.96 326.39,783.81 326.89,783.67 327.39,783.52 327.89,783.38 328.4,783.24 328.9,783.09 329.4,782.95 329.9,782.81 330.4,782.68 330.9,782.54 331.4,782.4 331.9,782.26 332.4,782.13 332.9,781.99 333.4,781.86 333.9,781.73 334.4,781.6 334.9,781.47 335.4,781.34 335.9,781.21 336.4,781.08 336.9,780.95 337.4,780.83 337.9,780.7 338.4,780.58 338.9,780.46 339.4,780.34 339.9,780.22 340.4,780.1 340.9,779.98 341.4,779.86 341.91,779.74 342.41,779.63 342.91,779.51 343.41,779.4 343.91,779.29 344.41,779.17 344.91,779.06 345.41,778.95 345.91,778.85 346.41,778.74 346.91,778.63 347.41,778.53 347.91,778.42 348.41,778.32 348.91,778.22 349.41,778.12 349.91,778.02 350.41,777.92 350.91,777.82 351.41,777.73 351.91,777.63 352.41,777.54 352.91,777.45 353.41,777.36 353.91,777.27 354.41,777.18 354.91,777.09 355.42,777 355.92,776.92 356.42,776.84 356.92,776.75 357.42,776.67 357.92,776.59 358.42,776.52 358.92,776.44 359.42,776.36 359.92,776.29 360.42,776.22 360.92,776.15 361.42,776.08 361.92,776.01 362.42,775.94 362.92,775.88 363.42,775.81 363.92,775.75 364.42,775.69 364.92,775.63 365.42,775.57 365.92,775.52 366.42,775.46 366.92,775.41 367.42,775.35 367.92,775.3 368.43,775.26 368.93,775.21 369.43,775.16 369.93,775.12 370.43,775.08 370.93,775.04 371.43,775 371.93,774.96 372.43,774.92 372.93,774.89 373.43,774.86 373.93,774.82 374.43,774.79 374.93,774.77 375.43,774.74 375.93,774.72 376.43,774.69 376.93,774.67 377.43,774.65 377.93,774.64 378.43,774.62 378.93,774.61 379.43,774.6 379.93,774.59 380.43,774.58 380.93,774.57 381.43,774.57 381.94,774.56 382.44,774.56 382.94,774.56 383.44,774.57 383.94,774.57 384.44,774.58 384.94,774.59 385.44,774.6 385.94,774.61 386.44,774.62 386.94,774.64 387.44,774.66 387.94,774.68 388.44,774.7 388.94,774.72 389.44,774.75 389.94,774.78 390.44,774.81 390.94,774.84 391.44,774.88 391.94,774.91 392.44,774.95 392.94,774.99 393.44,775.03 393.94,775.08 394.44,775.12 394.94,775.17 395.45,775.22 395.95,775.28 396.45,775.33 396.95,775.39 397.45,775.45 397.95,775.51 398.45,775.58 398.95,775.64 399.45,775.71 399.95,775.78 400.45,775.85 400.95,775.93 401.45,776.01 401.95,776.09 402.45,776.17 402.95,776.25 403.45,776.34 403.95,776.43 404.45,776.52 404.95,776.61 405.45,776.71 405.95,776.81 406.45,776.91 406.95,777.01 407.45,777.12 407.95,777.22 408.46,777.33 408.96,777.45 409.46,777.56 409.96,777.68 410.46,777.8 410.96,777.92 411.46,778.05 411.96,778.17 412.46,778.3 412.96,778.44 413.46,778.57 413.96,778.71 414.46,778.85 414.96,778.99 415.46,779.13 415.96,779.28 416.46,779.43 416.96,779.58 417.46,779.74 417.96,779.9 418.46,780.06 418.96,780.22 419.46,780.39 419.96,780.56 420.46,780.73 420.96,780.9 421.46,781.08 421.97,781.26 422.47,781.44 422.97,781.62 423.47,781.81 423.97,782 424.47,782.19 424.97,782.39 425.47,782.59 425.97,782.79 426.47,782.99 426.97,783.2 427.47,783.41 427.97,783.62 428.47,783.84 428.97,784.05 429.47,784.27 429.97,784.5 430.47,784.72 430.97,784.95 431.47,785.19 431.97,785.42 432.47,785.66 432.97,785.9 433.47,786.15 433.97,786.39 434.47,786.64 434.97,786.9 435.48,787.15 435.98,787.41 436.48,787.67 436.98,787.94 437.48,788.21 437.98,788.48 438.48,788.75 438.98,789.03 439.48,789.31 439.98,789.59 440.48,789.88 440.98,790.17 441.48,790.46 441.98,790.75 442.48,791.05 442.98,791.36 443.48,791.66 443.98,791.97 444.48,792.28 444.98,792.59 445.48,792.91 445.98,793.23 446.48,793.56 446.98,793.89 447.48,794.22 447.98,794.55 448.49,794.89 448.99,795.23 449.49,795.57 449.99,795.92 450.49,796.27 450.99,796.62 451.49,796.98 451.99,797.34 452.49,797.7 452.99,798.07 453.49,798.44 453.99,798.81 454.49,799.19 454.99,799.57 455.49,799.96 455.99,800.34 456.49,800.73 456.99,801.13 457.49,801.53 457.99,801.93 458.49,802.33 458.99,802.74 459.49,803.15 459.99,803.57 460.49,803.98 460.99,804.41 461.49,804.83 462,805.26 462.5,805.69 463,806.13 463.5,806.57 464,807.01 464.5,807.46 465,807.91 465.5,808.36 466,808.82 466.5,809.28 467,809.75 467.5,810.22 468,810.69 468.5,811.17" fill="none" stroke="#0000c8" stroke-width="1.75" stroke-dasharray="7,5" stroke-linejoin="round" />
<path d="M155,925.01 155.5,924.7 156,924.4 156.5,924.1 157,923.8 157.5,923.5 158.01,923.2 158.51,922.9 159.01,922.6 159.51,922.31 160.01,922.01 160.51,921.72 161.01,921.42 161.51,921.13 162.01,920.84 162.51,920.55 163.01,920.26 163.52,919.97 164.02,919.68 164.52,919.39 165.02,919.1 165.52,918.81 166.02,918.53 166.52,918.24 167.02,917.96 167.52,917.68 168.02,917.39 168.52,917.11 169.02,916.83 169.53,916.55 170.03,916.27 170.53,915.99 171.03,915.72 171.53,915.44 172.03,915.16 172.53,914.89 173.03,914.62 173.53,914.34 174.03,914.07 174.53,913.8 175.04,913.53 175.54,913.26 176.04,912.99 176.54,912.72 177.04,912.45 177.54,912.18 178.04,911.92 178.54,911.65 179.04,911.39 179.54,911.13 180.04,910.86 180.55,910.6 181.05,910.34 181.55,910.08 182.05,909.82 182.55,909.56 183.05,909.3 183.55,909.04 184.05,908.79 184.55,908.53 185.05,908.28 185.55,908.02 186.06,907.77 186.56,907.52 187.06,907.26 187.56,907.01 188.06,906.76 188.56,906.51 189.06,906.26 189.56,906.02 190.06,905.77 190.56,905.52 191.06,905.28 191.56,905.03 192.07,904.79 192.57,904.54 193.07,904.3 193.57,904.06 194.07,903.82 194.57,903.58 195.07,903.34 195.57,903.1 196.07,902.86 196.57,902.62 197.07,902.39 197.58,902.15 198.08,901.91 198.58,901.68 199.08,901.45 199.58,901.21 200.08,900.98 200.58,900.75 201.08,900.52 201.58,900.29 202.08,900.06 202.58,899.83 203.09,899.6 203.59,899.38 204.09,899.15 204.59,898.92 205.09,898.7 205.59,898.47 206.09,898.25 206.59,898.03 207.09,897.81 207.59,897.59 208.09,897.36 208.59,897.14 209.1,896.93 209.6,896.71 210.1,896.49 210.6,896.27 211.1,896.06 211.6,895.84 212.1,895.63 212.6,895.41 213.1,895.2 213.6,894.98 214.1,894.77 214.61,894.56 215.11,894.35 215.61,894.14 216.11,893.93 216.61,893.72 217.11,893.51 217.61,893.31 218.11,893.1 218.61,892.9 219.11,892.69 219.61,892.49 220.12,892.28 220.62,892.08 221.12,891.88 221.62,891.67 222.12,891.47 222.62,891.27 223.12,891.07 223.62,890.87 224.12,890.68 224.62,890.48 225.12,890.28 225.63,890.09 226.13,889.89 226.63,889.69 227.13,889.5 227.63,889.31 228.13,889.11 228.63,888.92 229.13,888.73 229.63,888.54 230.13,888.35 230.63,888.16 231.13,887.97 231.64,887.78 232.14,887.59 232.64,887.41 233.14,887.22 233.64,887.03 234.14,886.85 234.64,886.66 235.14,886.48 235.64,886.3 236.14,886.11 236.64,885.93 237.15,885.75 237.65,885.57 238.15,885.39 238.65,885.21 239.15,885.03 239.65,884.85 240.15,884.68 240.65,884.5 241.15,884.32 241.65,884.15 242.15,883.97 242.66,883.8 243.16,883.63 243.66,883.45 244.16,883.28 244.66,883.11 245.16,882.94 245.66,882.77 246.16,882.6 246.66,882.43 247.16,882.26 247.66,882.09 248.17,881.92 248.67,881.76 249.17,881.59 249.67,881.42 250.17,881.26 250.67,881.09 251.17,880.93 251.67,880.77 252.17,880.6 252.67,880.44 253.17,880.28 253.67,880.12 254.18,879.96 254.68,879.8 255.18,879.64 255.68,879.48 256.18,879.32 256.68,879.17 257.18,879.01 257.68,878.85 258.18,878.7 258.68,878.54 259.18,878.39 259.69,878.23 260.19,878.08 260.69,877.93 261.19,877.78 261.69,877.62 262.19,877.47 262.69,877.32 263.19,877.17 263.69,877.02 264.19,876.87 264.69,876.73 265.2,876.58 265.7,876.43 266.2,876.28 266.7,876.14 267.2,875.99 267.7,875.85 268.2,875.7 268.7,875.56 269.2,875.42 269.7,875.27 270.2,875.13 270.71,874.99 271.21,874.85 271.71,874.71 272.21,874.57 272.71,874.43 273.21,874.29 273.71,874.15 274.21,874.02 274.71,873.88 275.21,873.74 275.71,873.61 276.21,873.47 276.72,873.34 277.22,873.2 277.72,873.07 278.22,872.93 278.72,872.8 279.22,872.67 279.72,872.54 280.22,872.4 280.72,872.27 281.22,872.14 281.72,872.01 282.23,871.88 282.73,871.76 283.23,871.63 283.73,871.5 284.23,871.37 284.73,871.25 285.23,871.12 285.73,870.99 286.23,870.87 286.73,870.74 287.23,870.62 287.74,870.5 288.24,870.37 288.74,870.25 289.24,870.13 289.74,870.01 290.24,869.88 290.74,869.76 291.24,869.64 291.74,869.52 292.24,869.4 292.74,869.29 293.24,869.17 293.75,869.05 294.25,868.93 294.75,868.82 295.25,868.7 295.75,868.58 296.25,868.47 296.75,868.35 297.25,868.24 297.75,868.13 298.25,868.01 298.75,867.9 299.26,867.79 299.76,867.67 300.26,867.56 300.76,867.45 301.26,867.34 301.76,867.23 302.26,867.12 302.76,867.01 303.26,866.9 303.76,866.79 304.26,866.69 304.77,866.58 305.27,866.47 305.77,866.37 306.27,866.26 306.77,866.15 307.27,866.05 307.77,865.94 308.27,865.84 308.77,865.74 309.27,865.63 309.77,865.53 310.28,865.43 310.78,865.33 311.28,865.22 311.78,865.12 312.28,865.02 312.78,864.92 313.28,864.82 313.78,864.72 314.28,864.63 314.78,864.53 315.28,864.44 315.78,864.35 316.29,864.26 316.79,864.17 317.29,864.09 317.79,864.01 318.29,863.93 318.79,863.85 319.29,863.78 319.79,863.71 320.29,863.65 320.79,863.59 321.29,863.53 321.8,863.48 322.3,863.44 322.8,863.39 323.3,863.36 323.8,863.33 324.3,863.3 324.8,863.28 325.3,863.27 325.8,863.26 326.3,863.26 326.8,863.27 327.31,863.28 327.81,863.3 328.31,863.33 328.81,863.37 329.31,863.41 329.81,863.46 330.31,863.52 330.81,863.59 331.31,863.67 331.81,863.75 332.31,863.85 332.82,863.95 333.32,864.07 333.82,864.19 334.32,864.32 334.82,864.47 335.32,864.62 335.82,864.79 336.32,864.96 336.82,865.15 337.32,865.35 337.82,865.56 338.32,865.78 338.83,866.01 339.33,866.26 339.83,866.51 340.33,866.78 340.83,867.07 341.33,867.36 341.83,867.67 342.33,868 342.83,868.33 343.33,868.68 343.83,869.05 344.34,869.43 344.84,869.82 345.34,870.23 345.84,870.65 346.34,871.09 346.84,871.54 347.34,872.01 347.84,872.5 348.34,873 348.84,873.51 349.34,874.05 349.85,874.6 350.35,875.17 350.85,875.75 351.35,876.35 351.85,876.97 352.35,877.61 352.85,878.26 353.35,878.94 353.85,879.63 354.35,880.34 354.85,881.07 355.36,881.82 355.86,882.59 356.36,883.37 356.86,884.18 357.36,885.01 357.86,885.86 358.36,886.72 358.86,887.61 359.36,888.52 359.86,889.46 360.36,890.42 360.86,891.4 361.37,892.42 361.87,893.46 362.37,894.54 362.87,895.65 363.37,896.8 363.87,897.98 364.37,899.2 364.87,900.46 365.37,901.77 365.87,903.12 366.37,904.51 366.88,905.95 367.38,907.44 367.88,908.98 368.38,910.57 368.88,912.22 369.38,913.92 369.88,915.68 370.38,917.49 370.88,919.37 371.38,921.31 371.88,923.31 372.39,925.38 372.89,927.51 373.39,929.72 373.89,931.99 374.39,934.34 374.89,936.76 375.39,939.25" fill="none" stroke="#0000c8" stroke-width="1.75" stroke-linejoin="round" />
<path d="M155,905.66 155.5,905.46 156,905.25 156.5,905.04 157,904.84 157.5,904.63 158,904.42 158.5,904.21 159,904 159.5,903.79 160,903.58 160.5,903.36 161,903.15 161.5,902.94 162,902.73 162.5,902.51 163,902.3 163.5,902.08 164,901.87 164.5,901.65 165,901.44 165.5,901.22 166,901 166.5,900.78 167,900.57 167.5,900.35 168,900.13 168.5,899.91 169,899.69 169.5,899.47 170,899.25 170.5,899.03 171,898.81 171.5,898.59 172,898.37 172.5,898.14 173,897.92 173.5,897.7 174,897.47 174.5,897.25 175,897.03 175.5,896.8 176,896.58 176.5,896.35 177,896.13 177.5,895.9 178,895.68 178.5,895.45 179,895.22 179.5,895 180,894.77 180.5,894.54 181,894.31 181.5,894.09 182,893.86 182.5,893.63 183,893.4 183.5,893.17 184,892.94 184.5,892.71 185,892.48 185.5,892.25 186,892.02 186.5,891.79 187,891.56 187.5,891.33 188,891.1 188.5,890.87 189,890.64 189.5,890.41 190,890.17 190.5,889.94 191,889.71 191.5,889.48 192,889.25 192.5,889.01 193,888.78 193.5,888.55 194,888.31 194.5,888.08 195,887.85 195.5,887.61 196,887.38 196.5,887.15 197,886.91 197.5,886.68 198,886.45 198.5,886.21 199,885.98 199.5,885.74 200,885.51 200.5,885.28 201,885.04 201.5,884.81 202,884.57 202.5,884.34 203,884.1 203.5,883.87 204,883.64 204.5,883.4 205,883.17 205.5,882.93 206,882.7 206.5,882.46 207,882.23 207.5,881.99 208,881.76 208.5,881.53 209,881.29 209.5,881.06 210,880.82 210.5,880.59 211,880.35 211.5,880.12 212,879.89 212.5,879.65 213,879.42 213.5,879.18 214,878.95 214.5,878.72 215,878.48 215.5,878.25 216,878.02 216.5,877.78 217,877.55 217.5,877.32 218,877.09 218.5,876.85 219,876.62 219.5,876.39 220,876.16 220.5,875.92 221,875.69 221.5,875.46 222,875.23 222.5,875 223,874.77 223.5,874.54 224,874.3 224.5,874.07 225,873.84 225.5,873.61 226,873.38 226.5,873.15 227,872.93 227.5,872.7 228,872.47 228.5,872.24 229,872.01 229.5,871.78 230,871.55 230.5,871.33 231,871.1 231.5,870.87 232,870.65 232.5,870.42 233,870.19 233.5,869.97 234,869.74 234.5,869.52 235,869.29 235.5,869.07 236,868.84 236.5,868.62 237,868.4 237.5,868.17 238,867.95 238.5,867.73 239,867.51 239.5,867.28 240,867.06 240.5,866.84 241,866.62 241.5,866.4 242,866.18 242.5,865.96 243,865.74 243.5,865.53 244,865.31 244.5,865.09 245,864.87 245.5,864.66 246,864.44 246.5,864.22 247,864.01 247.5,863.79 248,863.58 248.5,863.37 249,863.15 249.5,862.94 250,862.73 250.5,862.51 251,862.3 251.5,862.09 252,861.88 252.5,861.67 253,861.46 253.5,861.25 254,861.04 254.5,860.84 255,860.63 255.5,860.42 256,860.22 256.5,860.01 257,859.81 257.5,859.6 258,859.4 258.5,859.2 259,858.99 259.5,858.79 260,858.59 260.5,858.39 261,858.19 261.5,857.99 262,857.79 262.5,857.59 263,857.39 263.5,857.2 264,857 264.5,856.8 265,856.61 265.5,856.41 266,856.22 266.5,856.03 267,855.84 267.5,855.64 268,855.45 268.5,855.26 269,855.07 269.5,854.88 270,854.7 270.5,854.51 271,854.32 271.5,854.14 272,853.95 272.5,853.77 273,853.58 273.5,853.4 274,853.22 274.5,853.04 275,852.85 275.5,852.67 276,852.5 276.5,852.32 277,852.14 277.5,851.96 278,851.79 278.5,851.61 279,851.44 279.5,851.26 280,851.09 280.5,850.92 281,850.75 281.5,850.58 282,850.41 282.5,850.24 283,850.07 283.5,849.91 284,849.74 284.5,849.57 285,849.41 285.5,849.25 286,849.09 286.5,848.92 287,848.76 287.5,848.6 288,848.45 288.5,848.29 289,848.13 289.5,847.97 290,847.82 290.5,847.67 291,847.51 291.5,847.36 292,847.21 292.5,847.06 293,846.91 293.5,846.76 294,846.61 294.5,846.47 295,846.32 295.5,846.18 296,846.04 296.5,845.89 297,845.75 297.5,845.61 298,845.47 298.5,845.33 299,845.2 299.5,845.06 300,844.93 300.5,844.79 301,844.66 301.5,844.53 302,844.4 302.5,844.27 303,844.14 303.5,844.01 304,843.88 304.5,843.76 305,843.64 305.5,843.51 306,843.39 306.5,843.27 307,843.15 307.5,843.03 308,842.91 308.5,842.8 309,842.68 309.5,842.57 310,842.46 310.5,842.34 311,842.23 311.5,842.12 312,842.02 312.5,841.91 313,841.8 313.5,841.7 314,841.6 314.5,841.5 315,841.4 315.5,841.3 316,841.21 316.5,841.12 317,841.03 317.5,840.94 318,840.86 318.5,840.78 319,840.7 319.5,840.63 320,840.56 320.5,840.49 321,840.43 321.5,840.37 322,840.31 322.5,840.26 323,840.21 323.5,840.17 324,840.13 324.5,840.1 325,840.07 325.5,840.05 326,840.03 326.5,840.02 327,840.01 327.5,840.01 328,840.01 328.5,840.02 329,840.04 329.5,840.06 330,840.09 330.5,840.13 331,840.17 331.5,840.22 332,840.27 332.5,840.33 333,840.4 333.5,840.48 334,840.57 334.5,840.66 335,840.76 335.5,840.87 336,840.98 336.5,841.11 337,841.24 337.5,841.38 338,841.53 338.5,841.69 339,841.86 339.5,842.03 340,842.22 340.5,842.41 341,842.62 341.5,842.83 342,843.06 342.5,843.29 343,843.54 343.5,843.79 344,844.06 344.5,844.33 345,844.62 345.5,844.92 346,845.22 346.5,845.54 347,845.87 347.5,846.22 348,846.57 348.5,846.93 349,847.31 349.5,847.7 350,848.1 350.5,848.51 351,848.94 351.5,849.38 352,849.83 352.5,850.29 353.01,850.77 353.51,851.26 354.01,851.76 354.51,852.28 355.01,852.81 355.51,853.36 356.01,853.91 356.51,854.49 357.01,855.07 357.51,855.67 358.01,856.29 358.51,856.92 359.01,857.56 359.51,858.22 360.01,858.9 360.51,859.59 361.01,860.29 361.51,861.01 362.01,861.75 362.51,862.5 363.01,863.27 363.51,864.05 364.01,864.85 364.51,865.67 365.01,866.5 365.51,867.35 366.01,868.22 366.51,869.1 367.01,870 367.51,870.92 368.01,871.85 368.51,872.8 369.01,873.77 369.51,874.76 370.01,875.77 370.51,876.79 371.01,877.83 371.51,878.89 372.01,879.97 372.51,881.07 373.01,882.19 373.51,883.32 374.01,884.48 374.51,885.65 375.01,886.84 375.51,888.06 376.01,889.29 376.51,890.54 377.01,891.81 377.51,893.1 378.01,894.42 378.51,895.75 379.01,897.1 379.51,898.48 380.01,899.87 380.51,901.29 381.01,902.73 381.51,904.18 382.01,905.66 382.51,907.17 383.01,908.69 383.51,910.23 384.01,911.8 384.51,913.39 385.01,915 385.51,916.64 386.01,918.29 386.51,919.97 387.01,921.67 387.51,923.4 388.01,925.15 388.51,926.92 389.01,928.71 389.51,930.53 390.01,932.37 390.51,934.24 391.01,936.13 391.51,938.05 392.01,939.98" fill="none" stroke="#0000c8" stroke-width="1.75" stroke-linejoin="round" />
<path d="M155,892.8 155.5,892.34 156,891.88 156.5,891.42 157,890.97 157.5,890.53 158,890.1 158.5,889.67 159,889.24 159.5,888.82 160,888.41 160.5,888 161,887.6 161.5,887.2 162,886.81 162.5,886.42 163,886.04 163.5,885.67 164,885.3 164.51,884.93 165.01,884.57 165.51,884.21 166.01,883.86 166.51,883.52 167.01,883.18 167.51,882.84 168.01,882.51 168.51,882.18 169.01,881.86 169.51,881.54 170.01,881.23 170.51,880.92 171.01,880.61 171.51,880.31 172.01,880.01 172.51,879.72 173.01,879.43 173.51,879.15 174.01,878.86 174.51,878.59 175.01,878.31 175.51,878.04 176.01,877.78 176.51,877.51 177.01,877.26 177.51,877 178.01,876.75 178.51,876.5 179.01,876.25 179.51,876.01 180.01,875.77 180.51,875.53 181.01,875.3 181.51,875.07 182.01,874.84 182.51,874.62 183.01,874.4 183.52,874.18 184.02,873.96 184.52,873.75 185.02,873.53 185.52,873.33 186.02,873.12 186.52,872.91 187.02,872.71 187.52,872.51 188.02,872.31 188.52,872.12 189.02,871.93 189.52,871.73 190.02,871.54 190.52,871.36 191.02,871.17 191.52,870.99 192.02,870.8 192.52,870.62 193.02,870.44 193.52,870.26 194.02,870.09 194.52,869.91 195.02,869.74 195.52,869.56 196.02,869.39 196.52,869.22 197.02,869.05 197.52,868.88 198.02,868.72 198.52,868.55 199.02,868.38 199.52,868.22 200.02,868.05 200.52,867.89 201.02,867.72 201.52,867.56 202.03,867.4 202.53,867.23 203.03,867.07 203.53,866.91 204.03,866.75 204.53,866.59 205.03,866.42 205.53,866.26 206.03,866.1 206.53,865.94 207.03,865.78 207.53,865.61 208.03,865.45 208.53,865.29 209.03,865.12 209.53,864.96 210.03,864.8 210.53,864.63 211.03,864.46 211.53,864.3 212.03,864.13 212.53,863.96 213.03,863.79 213.53,863.62 214.03,863.45 214.53,863.27 215.03,863.1 215.53,862.93 216.03,862.75 216.53,862.57 217.03,862.39 217.53,862.21 218.03,862.03 218.53,861.84 219.03,861.66 219.53,861.47 220.03,861.28 220.53,861.09 221.04,860.9 221.54,860.71 222.04,860.51 222.54,860.31 223.04,860.12 223.54,859.92 224.04,859.72 224.54,859.52 225.04,859.31 225.54,859.11 226.04,858.9 226.54,858.7 227.04,858.49 227.54,858.28 228.04,858.07 228.54,857.86 229.04,857.65 229.54,857.43 230.04,857.22 230.54,857 231.04,856.79 231.54,856.57 232.04,856.35 232.54,856.13 233.04,855.91 233.54,855.69 234.04,855.47 234.54,855.24 235.04,855.02 235.54,854.79 236.04,854.57 236.54,854.34 237.04,854.11 237.54,853.89 238.04,853.66 238.54,853.43 239.04,853.2 239.54,852.97 240.05,852.74 240.55,852.5 241.05,852.27 241.55,852.04 242.05,851.81 242.55,851.57 243.05,851.34 243.55,851.1 244.05,850.87 244.55,850.63 245.05,850.39 245.55,850.16 246.05,849.92 246.55,849.68 247.05,849.45 247.55,849.21 248.05,848.97 248.55,848.73 249.05,848.49 249.55,848.25 250.05,848.01 250.55,847.78 251.05,847.54 251.55,847.3 252.05,847.06 252.55,846.82 253.05,846.58 253.55,846.34 254.05,846.1 254.55,845.86 255.05,845.62 255.55,845.38 256.05,845.14 256.55,844.9 257.05,844.66 257.55,844.42 258.05,844.19 258.56,843.95 259.06,843.71 259.56,843.47 260.06,843.23 260.56,843 261.06,842.76 261.56,842.52 262.06,842.28 262.56,842.05 263.06,841.81 263.56,841.58 264.06,841.34 264.56,841.11 265.06,840.88 265.56,840.64 266.06,840.41 266.56,840.18 267.06,839.95 267.56,839.71 268.06,839.48 268.56,839.25 269.06,839.03 269.56,838.8 270.06,838.57 270.56,838.34 271.06,838.12 271.56,837.89 272.06,837.67 272.56,837.44 273.06,837.22 273.56,837 274.06,836.78 274.56,836.56 275.06,836.34 275.56,836.12 276.06,835.9 276.56,835.69 277.06,835.47 277.57,835.26 278.07,835.05 278.57,834.84 279.07,834.62 279.57,834.42 280.07,834.21 280.57,834 281.07,833.79 281.57,833.59 282.07,833.39 282.57,833.18 283.07,832.98 283.57,832.78 284.07,832.59 284.57,832.39 285.07,832.19 285.57,832 286.07,831.81 286.57,831.62 287.07,831.43 287.57,831.24 288.07,831.05 288.57,830.87 289.07,830.68 289.57,830.5 290.07,830.32 290.57,830.14 291.07,829.97 291.57,829.79 292.07,829.62 292.57,829.45 293.07,829.28 293.57,829.11 294.07,828.94 294.57,828.78 295.07,828.62 295.57,828.45 296.08,828.3 296.58,828.14 297.08,827.98 297.58,827.83 298.08,827.68 298.58,827.53 299.08,827.38 299.58,827.24 300.08,827.1 300.58,826.95 301.08,826.82 301.58,826.68 302.08,826.54 302.58,826.41 303.08,826.28 303.58,826.15 304.08,826.03 304.58,825.91 305.08,825.78 305.58,825.67 306.08,825.55 306.58,825.44 307.08,825.32 307.58,825.22 308.08,825.11 308.58,825 309.08,824.9 309.58,824.8 310.08,824.71 310.58,824.61 311.08,824.52 311.58,824.43 312.08,824.34 312.58,824.26 313.08,824.18 313.58,824.1 314.08,824.03 314.58,823.95 315.09,823.88 315.59,823.81 316.09,823.75 316.59,823.69 317.09,823.63 317.59,823.57 318.09,823.52 318.59,823.47 319.09,823.42 319.59,823.38 320.09,823.33 320.59,823.3 321.09,823.26 321.59,823.23 322.09,823.2 322.59,823.17 323.09,823.15 323.59,823.13 324.09,823.11 324.59,823.1 325.09,823.09 325.59,823.08 326.09,823.07 326.59,823.07 327.09,823.08 327.59,823.08 328.09,823.09 328.59,823.1 329.09,823.12 329.59,823.14 330.09,823.16 330.59,823.19 331.09,823.21 331.59,823.25 332.09,823.28 332.59,823.32 333.09,823.37 333.59,823.41 334.1,823.46 334.6,823.52 335.1,823.58 335.6,823.64 336.1,823.7 336.6,823.77 337.1,823.85 337.6,823.92 338.1,824 338.6,824.09 339.1,824.17 339.6,824.27 340.1,824.36 340.6,824.46 341.1,824.56 341.6,824.67 342.1,824.78 342.6,824.9 343.1,825.02 343.6,825.14 344.1,825.27 344.6,825.4 345.1,825.53 345.6,825.67 346.1,825.82 346.6,825.97 347.1,826.12 347.6,826.28 348.1,826.44 348.6,826.61 349.1,826.79 349.6,826.97 350.1,827.16 350.6,827.35 351.1,827.55 351.6,827.76 352.1,827.98 352.61,828.2 353.11,828.44 353.61,828.68 354.11,828.93 354.61,829.19 355.11,829.46 355.61,829.73 356.11,830.02 356.61,830.32 357.11,830.63 357.61,830.95 358.11,831.28 358.61,831.62 359.11,831.97 359.61,832.33 360.11,832.71 360.61,833.1 361.11,833.5 361.61,833.91 362.11,834.34 362.61,834.78 363.11,835.24 363.61,835.7 364.11,836.19 364.61,836.68 365.11,837.19 365.61,837.72 366.11,838.26 366.61,838.82 367.11,839.4 367.61,839.98 368.11,840.59 368.61,841.21 369.11,841.85 369.61,842.51 370.11,843.19 370.61,843.88 371.11,844.59 371.62,845.32 372.12,846.07 372.62,846.83 373.12,847.62 373.62,848.43 374.12,849.25 374.62,850.1 375.12,850.96 375.62,851.85 376.12,852.75 376.62,853.67 377.12,854.62 377.62,855.58 378.12,856.55 378.62,857.55 379.12,858.56 379.62,859.58 380.12,860.63 380.62,861.68 381.12,862.76 381.62,863.84 382.12,864.94 382.62,866.06 383.12,867.19 383.62,868.33 384.12,869.48 384.62,870.64 385.12,871.82 385.62,873.01 386.12,874.2 386.62,875.41 387.12,876.63 387.62,877.86 388.12,879.09 388.62,880.34 389.12,881.59 389.62,882.85 390.12,884.11 390.63,885.39 391.13,886.66 391.63,887.95 392.13,889.24 392.63,890.53 393.13,891.83 393.63,893.14 394.13,894.45 394.63,895.76 395.13,897.07 395.63,898.38 396.13,899.7 396.63,901.02 397.13,902.34 397.63,903.65 398.13,904.97 398.63,906.29 399.13,907.6 399.63,908.91 400.13,910.22 400.63,911.52 401.13,912.82 401.63,914.12 402.13,915.41 402.63,916.69 403.13,917.97 403.63,919.24 404.13,920.5 404.63,921.76 405.13,923 405.63,924.23 406.13,925.46 406.63,926.67 407.13,927.88 407.63,929.07 408.13,930.25 408.63,931.41 409.14,932.56 409.64,933.7 410.14,934.82 410.64,935.93 411.14,937.02 411.64,938.1 412.14,939.16 412.64,940.2 413.14,941.22 413.64,942.22" fill="none" stroke="#0000c8" stroke-width="1.75" stroke-linejoin="round" />
<path d="M155,882.47 155.5,882.03 156,881.59 156.5,881.16 157,880.73 157.5,880.3 158,879.88 158.5,879.46 159,879.04 159.51,878.63 160.01,878.22 160.51,877.82 161.01,877.42 161.51,877.02 162.01,876.63 162.51,876.24 163.01,875.85 163.51,875.47 164.01,875.09 164.51,874.71 165.01,874.34 165.51,873.97 166.01,873.6 166.51,873.24 167.01,872.88 167.51,872.52 168.02,872.16 168.52,871.81 169.02,871.46 169.52,871.12 170.02,870.78 170.52,870.44 171.02,870.1 171.52,869.77 172.02,869.44 172.52,869.11 173.02,868.79 173.52,868.47 174.02,868.15 174.52,867.83 175.02,867.52 175.52,867.21 176.02,866.9 176.53,866.6 177.03,866.3 177.53,866 178.03,865.7 178.53,865.4 179.03,865.11 179.53,864.82 180.03,864.54 180.53,864.25 181.03,863.97 181.53,863.69 182.03,863.41 182.53,863.14 183.03,862.87 183.53,862.6 184.03,862.33 184.53,862.06 185.04,861.8 185.54,861.54 186.04,861.28 186.54,861.02 187.04,860.77 187.54,860.51 188.04,860.26 188.54,860.01 189.04,859.77 189.54,859.52 190.04,859.28 190.54,859.04 191.04,858.8 191.54,858.56 192.04,858.32 192.54,858.09 193.04,857.86 193.55,857.63 194.05,857.4 194.55,857.17 195.05,856.95 195.55,856.72 196.05,856.5 196.55,856.28 197.05,856.06 197.55,855.84 198.05,855.63 198.55,855.41 199.05,855.2 199.55,854.99 200.05,854.78 200.55,854.57 201.05,854.36 201.55,854.16 202.06,853.95 202.56,853.75 203.06,853.55 203.56,853.34 204.06,853.14 204.56,852.94 205.06,852.75 205.56,852.55 206.06,852.35 206.56,852.16 207.06,851.96 207.56,851.77 208.06,851.58 208.56,851.39 209.06,851.2 209.56,851.01 210.06,850.82 210.57,850.63 211.07,850.44 211.57,850.26 212.07,850.07 212.57,849.89 213.07,849.7 213.57,849.52 214.07,849.34 214.57,849.15 215.07,848.97 215.57,848.79 216.07,848.61 216.57,848.43 217.07,848.25 217.57,848.07 218.07,847.89 218.57,847.71 219.08,847.53 219.58,847.35 220.08,847.17 220.58,847 221.08,846.82 221.58,846.64 222.08,846.46 222.58,846.29 223.08,846.11 223.58,845.93 224.08,845.75 224.58,845.58 225.08,845.4 225.58,845.22 226.08,845.05 226.58,844.87 227.08,844.69 227.59,844.51 228.09,844.34 228.59,844.16 229.09,843.98 229.59,843.8 230.09,843.62 230.59,843.44 231.09,843.26 231.59,843.08 232.09,842.9 232.59,842.72 233.09,842.54 233.59,842.36 234.09,842.18 234.59,841.99 235.09,841.81 235.59,841.63 236.1,841.44 236.6,841.26 237.1,841.07 237.6,840.88 238.1,840.7 238.6,840.51 239.1,840.32 239.6,840.13 240.1,839.94 240.6,839.75 241.1,839.56 241.6,839.36 242.1,839.17 242.6,838.97 243.1,838.78 243.6,838.58 244.1,838.38 244.61,838.18 245.11,837.98 245.61,837.78 246.11,837.58 246.61,837.37 247.11,837.17 247.61,836.96 248.11,836.75 248.61,836.54 249.11,836.33 249.61,836.12 250.11,835.91 250.61,835.69 251.11,835.47 251.61,835.26 252.11,835.04 252.61,834.82 253.12,834.6 253.62,834.38 254.12,834.15 254.62,833.93 255.12,833.7 255.62,833.48 256.12,833.25 256.62,833.02 257.12,832.79 257.62,832.56 258.12,832.33 258.62,832.1 259.12,831.87 259.62,831.64 260.12,831.4 260.62,831.17 261.12,830.93 261.63,830.7 262.13,830.46 262.63,830.23 263.13,829.99 263.63,829.75 264.13,829.51 264.63,829.27 265.13,829.03 265.63,828.79 266.13,828.55 266.63,828.31 267.13,828.07 267.63,827.83 268.13,827.59 268.63,827.35 269.13,827.11 269.63,826.87 270.14,826.63 270.64,826.39 271.14,826.14 271.64,825.9 272.14,825.66 272.64,825.42 273.14,825.18 273.64,824.94 274.14,824.7 274.64,824.46 275.14,824.22 275.64,823.98 276.14,823.74 276.64,823.5 277.14,823.26 277.64,823.02 278.14,822.78 278.65,822.54 279.15,822.3 279.65,822.07 280.15,821.83 280.65,821.59 281.15,821.36 281.65,821.12 282.15,820.89 282.65,820.66 283.15,820.42 283.65,820.19 284.15,819.96 284.65,819.73 285.15,819.5 285.65,819.27 286.15,819.05 286.65,818.82 287.16,818.59 287.66,818.37 288.16,818.14 288.66,817.92 289.16,817.7 289.66,817.48 290.16,817.26 290.66,817.04 291.16,816.83 291.66,816.61 292.16,816.4 292.66,816.18 293.16,815.97 293.66,815.76 294.16,815.55 294.66,815.35 295.16,815.14 295.67,814.94 296.17,814.73 296.67,814.53 297.17,814.33 297.67,814.14 298.17,813.94 298.67,813.75 299.17,813.55 299.67,813.36 300.17,813.17 300.67,812.99 301.17,812.8 301.67,812.62 302.17,812.44 302.67,812.26 303.17,812.08 303.67,811.9 304.18,811.73 304.68,811.56 305.18,811.39 305.68,811.22 306.18,811.06 306.68,810.89 307.18,810.73 307.68,810.57 308.18,810.42 308.68,810.26 309.18,810.11 309.68,809.96 310.18,809.82 310.68,809.67 311.18,809.53 311.68,809.39 312.18,809.26 312.69,809.12 313.19,808.99 313.69,808.86 314.19,808.74 314.69,808.61 315.19,808.49 315.69,808.37 316.19,808.26 316.69,808.15 317.19,808.04 317.69,807.93 318.19,807.83 318.69,807.73 319.19,807.63 319.69,807.54 320.19,807.44 320.69,807.36 321.2,807.27 321.7,807.19 322.2,807.11 322.7,807.03 323.2,806.96 323.7,806.89 324.2,806.83 324.7,806.76 325.2,806.7 325.7,806.65 326.2,806.6 326.7,806.55 327.2,806.5 327.7,806.46 328.2,806.42 328.7,806.39 329.2,806.36 329.71,806.33 330.21,806.31 330.71,806.29 331.21,806.27 331.71,806.26 332.21,806.25 332.71,806.24 333.21,806.24 333.71,806.24 334.21,806.25 334.71,806.26 335.21,806.28 335.71,806.3 336.21,806.32 336.71,806.35 337.21,806.38 337.71,806.41 338.22,806.45 338.72,806.5 339.22,806.54 339.72,806.6 340.22,806.65 340.72,806.71 341.22,806.78 341.72,806.85 342.22,806.92 342.72,807 343.22,807.08 343.72,807.17 344.22,807.26 344.72,807.36 345.22,807.46 345.72,807.57 346.22,807.68 346.73,807.79 347.23,807.91 347.73,808.04 348.23,808.17 348.73,808.3 349.23,808.44 349.73,808.59 350.23,808.74 350.73,808.89 351.23,809.05 351.73,809.21 352.23,809.38 352.73,809.56 353.23,809.74 353.73,809.92 354.23,810.11 354.73,810.31 355.24,810.51 355.74,810.71 356.24,810.92 356.74,811.14 357.24,811.36 357.74,811.59 358.24,811.82 358.74,812.06 359.24,812.31 359.74,812.56 360.24,812.82 360.74,813.08 361.24,813.35 361.74,813.63 362.24,813.91 362.74,814.2 363.24,814.5 363.75,814.8 364.25,815.11 364.75,815.43 365.25,815.75 365.75,816.08 366.25,816.42 366.75,816.77 367.25,817.12 367.75,817.48 368.25,817.85 368.75,818.23 369.25,818.61 369.75,819.01 370.25,819.41 370.75,819.82 371.25,820.23 371.75,820.66 372.26,821.1 372.76,821.54 373.26,821.99 373.76,822.45 374.26,822.92 374.76,823.4 375.26,823.89 375.76,824.39 376.26,824.9 376.76,825.41 377.26,825.94 377.76,826.47 378.26,827.02 378.76,827.57 379.26,828.14 379.76,828.72 380.26,829.3 380.77,829.9 381.27,830.5 381.77,831.12 382.27,831.75 382.77,832.39 383.27,833.03 383.77,833.69 384.27,834.36 384.77,835.05 385.27,835.74 385.77,836.44 386.27,837.16 386.77,837.89 387.27,838.62 387.77,839.37 388.27,840.14 388.77,840.91 389.28,841.7 389.78,842.5 390.28,843.31 390.78,844.13 391.28,844.96 391.78,845.81 392.28,846.67 392.78,847.54 393.28,848.42 393.78,849.3 394.28,850.2 394.78,851.1 395.28,852.02 395.78,852.93 396.28,853.85 396.78,854.78 397.28,855.71 397.79,856.64 398.29,857.58 398.79,858.52 399.29,859.46 399.79,860.39 400.29,861.33 400.79,862.27 401.29,863.2 401.79,864.13 402.29,865.06 402.79,865.99 403.29,866.91 403.79,867.83 404.29,868.74 404.79,869.66 405.29,870.56 405.79,871.46 406.3,872.36 406.8,873.25 407.3,874.14 407.8,875.02 408.3,875.9 408.8,876.77 409.3,877.63 409.8,878.48 410.3,879.33 410.8,880.17 411.3,881 411.8,881.83 412.3,882.64 412.8,883.45 413.3,884.25 413.8,885.04 414.3,885.82 414.81,886.6 415.31,887.36 415.81,888.12 416.31,888.87 416.81,889.62 417.31,890.35 417.81,891.08 418.31,891.8 418.81,892.51 419.31,893.22 419.81,893.92 420.31,894.61 420.81,895.29 421.31,895.97 421.81,896.64 422.31,897.31 422.81,897.97 423.32,898.62 423.82,899.26 424.32,899.9 424.82,900.54 425.32,901.17 425.82,901.79 426.32,902.4 426.82,903.01 427.32,903.62 427.82,904.22 428.32,904.81 428.82,905.4 429.32,905.99 429.82,906.57 430.32,907.14 430.82,907.71 431.32,908.27 431.83,908.83 432.33,909.39 432.83,909.94 433.33,910.49 433.83,911.03 434.33,911.57 434.83,912.1 435.33,912.63 435.83,913.16 436.33,913.68 436.83,914.2 437.33,914.72 437.83,915.23 438.33,915.74 438.83,916.25 439.33,916.75 439.83,917.25 440.34,917.75 440.84,918.24 441.34,918.73 441.84,919.22 442.34,919.71 442.84,920.2 443.34,920.68 443.84,921.16 444.34,921.64 444.84,922.11 445.34,922.59 445.84,923.06 446.34,923.53 446.84,924 447.34,924.47 447.84,924.94 448.34,925.4 448.85,925.87 449.35,926.33 449.85,926.8 450.35,927.26 450.85,927.72 451.35,928.18 451.85,928.64 452.35,929.1 452.85,929.56 453.35,930.02 453.85,930.48 454.35,930.94 454.85,931.4 455.35,931.86 455.85,932.32 456.35,932.78 456.85,933.24 457.36,933.71 457.86,934.17 458.36,934.63 458.86,935.1 459.36,935.56 459.86,936.03 460.36,936.5 460.86,936.97 461.36,937.44 461.86,937.91 462.36,938.39 462.86,938.86 463.36,939.34 463.86,939.82 464.36,940.3 464.86,940.79 465.36,941.28" fill="none" stroke="#0000c8" stroke-width="1.75" stroke-linejoin="round" />
<path d="M155,876.8 155.5,876.26 156,875.73 156.5,875.2 157,874.67 157.5,874.15 158,873.64 158.5,873.13 159,872.63 159.5,872.13 160,871.63 160.5,871.14 161,870.66 161.5,870.18 162,869.7 162.5,869.23 163,868.76 163.5,868.3 164,867.84 164.5,867.39 165,866.94 165.5,866.49 166,866.05 166.5,865.61 167,865.18 167.5,864.75 168,864.33 168.5,863.91 169,863.5 169.5,863.09 170,862.68 170.5,862.28 171,861.88 171.5,861.48 172,861.09 172.5,860.7 173,860.32 173.5,859.94 174,859.56 174.5,859.19 175,858.82 175.5,858.46 176,858.1 176.5,857.74 177,857.39 177.5,857.03 178,856.69 178.5,856.34 179,856 179.5,855.67 180,855.33 180.5,855 181,854.68 181.5,854.35 182,854.03 182.5,853.72 183,853.4 183.5,853.09 184,852.79 184.5,852.48 185,852.18 185.5,851.88 186,851.59 186.5,851.29 187,851 187.5,850.72 188,850.43 188.5,850.15 189,849.87 189.5,849.6 190,849.32 190.5,849.05 191,848.79 191.5,848.52 192,848.26 192.5,848 193,847.74 193.5,847.48 194,847.23 194.5,846.98 195,846.73 195.5,846.49 196,846.24 196.5,846 197,845.76 197.5,845.52 198,845.29 198.5,845.06 199,844.82 199.5,844.6 200,844.37 200.5,844.14 201,843.92 201.5,843.7 202,843.48 202.5,843.26 203,843.05 203.5,842.83 204,842.62 204.5,842.41 205,842.2 205.5,841.99 206,841.79 206.5,841.58 207,841.38 207.5,841.18 208,840.98 208.5,840.78 209,840.58 209.5,840.39 210,840.19 210.5,840 211,839.81 211.5,839.62 212,839.43 212.5,839.24 213,839.05 213.5,838.86 214,838.68 214.5,838.49 215,838.31 215.5,838.13 216,837.95 216.5,837.77 217,837.58 217.5,837.41 218,837.23 218.5,837.05 219,836.87 219.5,836.69 220,836.52 220.5,836.34 221,836.17 221.5,835.99 222,835.82 222.5,835.65 223,835.47 223.5,835.3 224,835.13 224.5,834.96 225,834.78 225.5,834.61 226,834.44 226.5,834.27 227,834.1 227.5,833.93 228,833.75 228.5,833.58 229,833.41 229.5,833.24 230,833.07 230.5,832.9 231,832.73 231.5,832.55 232,832.38 232.5,832.21 233,832.04 233.5,831.86 234,831.69 234.5,831.52 235,831.34 235.5,831.17 236,830.99 236.5,830.82 237,830.64 237.5,830.46 238,830.29 238.5,830.11 239,829.93 239.5,829.75 240,829.57 240.5,829.39 241,829.21 241.5,829.02 242,828.84 242.5,828.65 243,828.47 243.5,828.28 244,828.09 244.5,827.9 245,827.71 245.5,827.52 246,827.33 246.5,827.13 247,826.94 247.5,826.74 248,826.55 248.5,826.35 249,826.15 249.5,825.94 250,825.74 250.5,825.53 251,825.33 251.5,825.12 252,824.91 252.5,824.7 253,824.49 253.5,824.28 254,824.06 254.5,823.85 255,823.63 255.5,823.42 256,823.2 256.5,822.98 257,822.76 257.5,822.54 258,822.31 258.5,822.09 259,821.86 259.5,821.64 260,821.41 260.5,821.19 261,820.96 261.5,820.73 262,820.5 262.5,820.27 263,820.04 263.5,819.81 264,819.58 264.5,819.34 265,819.11 265.5,818.88 266,818.64 266.5,818.41 267,818.17 267.5,817.93 268,817.7 268.5,817.46 269,817.22 269.5,816.99 270,816.75 270.5,816.51 271,816.27 271.5,816.03 272,815.79 272.5,815.55 273,815.32 273.5,815.08 274,814.84 274.5,814.6 275,814.36 275.5,814.12 276,813.88 276.5,813.64 277,813.4 277.5,813.16 278,812.92 278.5,812.68 279,812.44 279.5,812.2 280,811.96 280.5,811.73 281,811.49 281.5,811.25 282,811.01 282.5,810.78 283,810.54 283.5,810.3 284,810.07 284.5,809.83 285,809.6 285.5,809.36 286,809.13 286.5,808.89 287,808.66 287.5,808.43 288,808.2 288.5,807.97 289,807.74 289.5,807.51 290,807.28 290.5,807.05 291,806.83 291.5,806.6 292,806.38 292.5,806.15 293,805.93 293.5,805.71 294,805.49 294.5,805.27 295,805.05 295.5,804.83 296,804.61 296.5,804.4 297,804.18 297.5,803.97 298,803.76 298.5,803.54 299,803.33 299.5,803.13 300,802.92 300.5,802.71 301,802.51 301.5,802.31 302,802.1 302.5,801.9 303,801.71 303.5,801.51 304,801.31 304.5,801.12 305,800.93 305.5,800.74 306,800.55 306.5,800.36 307,800.17 307.5,799.99 308,799.81 308.5,799.63 309,799.45 309.5,799.27 310,799.1 310.5,798.92 311,798.75 311.5,798.58 312,798.42 312.5,798.25 313,798.09 313.5,797.93 314,797.77 314.5,797.61 315,797.46 315.5,797.31 316,797.16 316.5,797.01 317,796.86 317.5,796.72 318,796.58 318.5,796.44 319,796.3 319.5,796.17 320,796.04 320.5,795.91 321,795.78 321.5,795.66 322,795.53 322.5,795.42 323,795.3 323.5,795.19 324,795.07 324.5,794.97 325,794.86 325.5,794.76 326,794.66 326.5,794.56 327,794.46 327.5,794.37 328,794.28 328.5,794.2 329,794.11 329.5,794.03 330,793.96 330.5,793.88 331,793.81 331.5,793.74 332,793.68 332.5,793.61 333,793.56 333.5,793.5 334,793.45 334.5,793.4 335,793.35 335.5,793.31 336,793.27 336.5,793.23 337,793.2 337.5,793.17 338,793.14 338.5,793.12 339,793.1 339.5,793.09 340,793.08 340.5,793.07 341,793.06 341.5,793.06 342,793.06 342.5,793.07 343,793.08 343.5,793.09 344,793.11 344.5,793.13 345,793.15 345.5,793.18 346,793.21 346.5,793.25 347,793.29 347.5,793.33 348,793.38 348.5,793.43 349,793.49 349.5,793.55 350,793.61 350.5,793.68 351,793.76 351.5,793.83 352,793.91 352.5,794 353,794.09 353.5,794.18 354,794.28 354.5,794.38 355,794.49 355.5,794.6 356,794.71 356.5,794.83 357,794.96 357.5,795.08 358,795.22 358.5,795.35 359,795.5 359.5,795.64 360,795.79 360.5,795.95 361,796.11 361.5,796.27 362,796.44 362.5,796.61 363,796.79 363.5,796.97 364,797.16 364.5,797.35 365,797.55 365.5,797.75 366,797.95 366.5,798.16 367,798.38 367.5,798.6 368,798.82 368.5,799.05 369,799.28 369.5,799.52 370,799.76 370.5,800.01 371,800.26 371.5,800.52 372,800.78 372.5,801.05 373,801.32 373.5,801.59 374,801.87 374.5,802.16 375,802.45 375.5,802.74 376,803.04 376.5,803.34 377,803.65 377.5,803.97 378,804.29 378.5,804.61 379,804.94 379.5,805.27 380,805.61 380.5,805.95 381,806.3 381.5,806.65 382,807.01 382.5,807.37 383,807.74 383.5,808.11 384,808.49 384.5,808.87 385,809.26 385.5,809.65 386,810.05 386.5,810.45 387,810.86 387.5,811.27 388,811.69 388.5,812.11 389,812.54 389.5,812.97 390,813.4 390.5,813.84 391,814.29 391.5,814.74 392,815.19 392.5,815.65 393,816.11 393.5,816.57 394,817.04 394.5,817.51 395,817.98 395.5,818.46 396,818.94 396.5,819.42 397,819.91 397.5,820.4 398,820.89 398.5,821.39 399,821.88 399.5,822.38 400,822.89 400.5,823.39 401,823.9 401.5,824.4 402,824.91 402.5,825.43 403,825.94 403.5,826.45 404,826.97 404.5,827.49 405,828.01 405.5,828.53 406,829.06 406.5,829.58 407,830.11 407.5,830.64 408,831.17 408.5,831.7 409,832.23 409.5,832.76 410,833.3 410.5,833.83 411,834.37 411.5,834.9 412,835.44 412.5,835.98 413,836.52 413.5,837.06 414,837.6 414.5,838.14 415,838.69 415.5,839.23 416,839.77 416.5,840.32 417,840.86 417.5,841.41 418,841.95 418.5,842.5 419,843.04 419.5,843.59 420,844.14 420.5,844.68 421,845.23 421.5,845.77 422,846.32 422.5,846.86 423,847.41 423.5,847.96 424,848.5 424.5,849.04 425,849.59 425.5,850.13 426,850.68 426.5,851.22 427,851.76 427.5,852.3 428,852.84 428.5,853.38 429,853.92 429.5,854.46 430,855 430.5,855.53 431,856.07 431.5,856.6 432,857.14 432.5,857.67 433,858.2 433.5,858.73 434,859.26 434.5,859.78 435,860.31 435.5,860.83 436,861.35 436.5,861.88 437,862.39 437.5,862.91 438,863.43 438.5,863.94 439,864.45 439.5,864.96 440,865.47 440.5,865.98 441,866.48 441.5,866.99 442,867.49 442.5,867.98 443,868.48 443.5,868.97 444,869.46 444.5,869.95 445,870.44 445.5,870.92 446,871.4 446.5,871.88 447,872.36 447.5,872.83 448,873.3 448.5,873.77 449,874.23 449.5,874.7 450,875.16 450.5,875.61 451,876.06 451.5,876.51 452,876.96 452.5,877.4 453,877.84 453.5,878.28 454,878.71 454.5,879.14 455,879.57 455.5,879.99 456,880.41 456.5,880.83 457,881.24 457.5,881.65 458,882.06 458.5,882.46 459,882.85 459.5,883.25 460,883.64 460.5,884.02 461,884.4 461.5,884.78 462,885.15 462.5,885.52 463,885.88 463.5,886.24 464,886.6 464.5,886.95 465,887.3 465.5,887.64 466,887.98 466.5,888.31 467,888.64 467.5,888.96 468,889.28 468.5,889.59" fill="none" stroke="#0000c8" stroke-width="1.75" stroke-linejoin="round" />
<path d="M155,866.15 155.5,865.72 156,865.29 156.5,864.86 157,864.43 157.5,864.01 158,863.6 158.5,863.18 159,862.77 159.5,862.36 160,861.96 160.5,861.56 161,861.16 161.5,860.77 162,860.38 162.5,859.99 163,859.6 163.5,859.22 164,858.84 164.5,858.46 165,858.09 165.5,857.72 166,857.35 166.5,856.99 167,856.63 167.5,856.27 168,855.91 168.5,855.56 169,855.21 169.5,854.86 170,854.52 170.5,854.18 171,853.84 171.5,853.5 172,853.17 172.5,852.84 173,852.51 173.5,852.18 174,851.86 174.5,851.54 175,851.22 175.5,850.91 176,850.59 176.5,850.28 177,849.97 177.5,849.67 178,849.36 178.5,849.06 179,848.76 179.5,848.47 180,848.17 180.5,847.88 181,847.59 181.5,847.3 182,847.02 182.5,846.73 183,846.45 183.5,846.17 184,845.9 184.5,845.62 185,845.35 185.5,845.08 186,844.81 186.5,844.54 187,844.28 187.5,844.02 188,843.76 188.5,843.5 189,843.24 189.5,842.98 190,842.73 190.5,842.48 191,842.23 191.5,841.98 192,841.73 192.5,841.49 193,841.24 193.5,841 194,840.76 194.5,840.52 195,840.29 195.5,840.05 196,839.82 196.5,839.59 197,839.36 197.5,839.13 198,838.9 198.5,838.67 199,838.45 199.5,838.22 200,838 200.5,837.78 201,837.56 201.5,837.34 202,837.12 202.5,836.91 203,836.69 203.5,836.48 204,836.27 204.5,836.05 205,835.84 205.5,835.63 206,835.43 206.5,835.22 207,835.01 207.5,834.81 208,834.6 208.5,834.4 209,834.2 209.5,833.99 210,833.79 210.5,833.59 211,833.39 211.5,833.2 212,833 212.5,832.8 213,832.6 213.5,832.41 214,832.21 214.5,832.02 215,831.83 215.5,831.63 216,831.44 216.5,831.25 217,831.06 217.5,830.87 218,830.68 218.5,830.49 219,830.3 219.5,830.11 220,829.92 220.5,829.73 221,829.54 221.5,829.35 222,829.17 222.5,828.98 223,828.79 223.5,828.61 224,828.42 224.5,828.23 225,828.05 225.5,827.86 226,827.67 226.5,827.49 227,827.3 227.5,827.12 228,826.93 228.5,826.74 229,826.56 229.5,826.37 230,826.19 230.5,826 231,825.81 231.5,825.63 232,825.44 232.5,825.25 233,825.06 233.5,824.88 234,824.69 234.5,824.5 235,824.31 235.5,824.12 236,823.93 236.5,823.74 237,823.55 237.5,823.36 238,823.17 238.5,822.98 239,822.79 239.5,822.6 240,822.4 240.5,822.21 241,822.02 241.5,821.82 242,821.62 242.5,821.43 243,821.23 243.5,821.03 244,820.83 244.5,820.64 245,820.43 245.5,820.23 246,820.03 246.5,819.83 247,819.63 247.5,819.42 248,819.22 248.5,819.01 249,818.8 249.5,818.59 250,818.38 250.5,818.17 251,817.96 251.5,817.75 252,817.53 252.5,817.32 253,817.1 253.5,816.89 254,816.67 254.5,816.45 255,816.24 255.5,816.02 256,815.8 256.5,815.57 257,815.35 257.5,815.13 258,814.91 258.5,814.68 259,814.46 259.5,814.23 260,814.01 260.5,813.78 261,813.55 261.5,813.33 262,813.1 262.5,812.87 263,812.64 263.5,812.41 264,812.18 264.5,811.95 265,811.72 265.5,811.49 266,811.26 266.5,811.03 267,810.79 267.5,810.56 268,810.33 268.5,810.09 269,809.86 269.5,809.63 270,809.39 270.5,809.16 271,808.92 271.5,808.69 272,808.45 272.5,808.22 273,807.98 273.5,807.75 274,807.51 274.5,807.28 275,807.04 275.5,806.81 276,806.57 276.5,806.34 277,806.1 277.5,805.87 278,805.63 278.5,805.4 279,805.16 279.5,804.93 280,804.69 280.5,804.46 281,804.22 281.5,803.99 282,803.76 282.5,803.52 283,803.29 283.5,803.06 284,802.82 284.5,802.59 285,802.36 285.5,802.13 286,801.9 286.5,801.67 287,801.44 287.5,801.21 288,800.98 288.5,800.75 289,800.52 289.5,800.29 290,800.07 290.5,799.84 291,799.61 291.5,799.39 292,799.16 292.5,798.94 293,798.71 293.5,798.49 294,798.27 294.5,798.05 295,797.83 295.5,797.61 296,797.39 296.5,797.17 297,796.95 297.5,796.74 298,796.52 298.5,796.3 299,796.09 299.5,795.88 300,795.67 300.5,795.45 301,795.24 301.5,795.04 302,794.83 302.5,794.62 303,794.41 303.5,794.21 304,794 304.5,793.8 305,793.6 305.5,793.4 306,793.2 306.5,793 307,792.81 307.5,792.61 308,792.42 308.5,792.22 309,792.03 309.5,791.84 310,791.65 310.5,791.46 311,791.28 311.5,791.09 312,790.91 312.5,790.72 313,790.54 313.5,790.36 314,790.19 314.5,790.01 315,789.84 315.5,789.66 316,789.49 316.5,789.32 317,789.15 317.5,788.98 318,788.82 318.5,788.66 319,788.49 319.5,788.33 320,788.18 320.5,788.02 321,787.86 321.5,787.71 322,787.56 322.5,787.41 323,787.26 323.5,787.12 324,786.97 324.5,786.83 325,786.69 325.5,786.55 326,786.41 326.5,786.28 327,786.15 327.5,786.02 328,785.89 328.5,785.76 329,785.64 329.5,785.52 330,785.4 330.5,785.28 331,785.16 331.5,785.05 332,784.94 332.5,784.83 333,784.72 333.5,784.62 334,784.52 334.5,784.42 335,784.32 335.5,784.22 336,784.13 336.5,784.04 337,783.95 337.5,783.86 338,783.78 338.5,783.7 339,783.62 339.5,783.54 340,783.47 340.5,783.4 341,783.33 341.5,783.27 342,783.2 342.5,783.14 343,783.08 343.5,783.03 344,782.97 344.5,782.92 345,782.88 345.5,782.83 346,782.79 346.5,782.75 347,782.71 347.5,782.68 348,782.65 348.5,782.62 349,782.6 349.5,782.57 350,782.55 350.5,782.54 351,782.52 351.5,782.51 352,782.51 352.5,782.5 353,782.5 353.5,782.5 354,782.51 354.5,782.51 355,782.52 355.5,782.54 356,782.55 356.5,782.57 357,782.6 357.5,782.62 358,782.65 358.5,782.68 359,782.72 359.5,782.76 360,782.8 360.5,782.84 361,782.89 361.5,782.94 362,783 362.5,783.05 363,783.11 363.5,783.17 364,783.24 364.5,783.31 365,783.38 365.5,783.45 366,783.53 366.5,783.61 367,783.7 367.5,783.78 368,783.87 368.5,783.96 369,784.06 369.5,784.15 370,784.26 370.5,784.36 371,784.46 371.5,784.57 372,784.69 372.5,784.8 373,784.92 373.5,785.04 374,785.16 374.5,785.29 375,785.41 375.5,785.55 376,785.68 376.5,785.82 377,785.96 377.5,786.1 378,786.24 378.5,786.39 379,786.54 379.5,786.69 380,786.85 380.5,787.01 381,787.17 381.5,787.33 382,787.49 382.5,787.66 383,787.83 383.5,788.01 384,788.18 384.5,788.36 385,788.54 385.5,788.73 386,788.91 386.5,789.1 387,789.29 387.5,789.49 388,789.68 388.5,789.88 389,790.08 389.5,790.29 390,790.49 390.5,790.7 391,790.91 391.5,791.13 392,791.34 392.5,791.56 393,791.78 393.5,792 394,792.23 394.5,792.46 395,792.69 395.5,792.92 396,793.15 396.5,793.39 397,793.63 397.5,793.87 398,794.12 398.5,794.36 399,794.61 399.5,794.86 400,795.11 400.5,795.37 401,795.63 401.5,795.89 402,796.15 402.5,796.41 403,796.68 403.5,796.95 404,797.22 404.5,797.49 405,797.76 405.5,798.04 406,798.32 406.5,798.6 407,798.88 407.5,799.17 408,799.46 408.5,799.75 409,800.04 409.5,800.33 410,800.63 410.5,800.92 411,801.22 411.5,801.52 412,801.83 412.5,802.13 413,802.44 413.5,802.75 414,803.06 414.5,803.38 415,803.69 415.5,804.01 416,804.33 416.5,804.65 417,804.98 417.5,805.3 418,805.63 418.5,805.96 419,806.29 419.5,806.62 420,806.96 420.5,807.3 421,807.64 421.5,807.98 422,808.32 422.5,808.67 423,809.02 423.5,809.37 424,809.72 424.5,810.07 425,810.43 425.5,810.78 426,811.14 426.5,811.5 427,811.87 427.5,812.23 428,812.6 428.5,812.97 429,813.34 429.5,813.72 430,814.09 430.5,814.47 431,814.85 431.5,815.23 432,815.61 432.5,816 433,816.39 433.5,816.78 434,817.17 434.5,817.56 435,817.96 435.5,818.35 436,818.75 436.5,819.15 437,819.56 437.5,819.96 438,820.37 438.5,820.78 439,821.19 439.5,821.6 440,822.02 440.5,822.43 441,822.85 441.5,823.27 442,823.7 442.5,824.12 443,824.55 443.5,824.98 444,825.41 444.5,825.84 445,826.27 445.5,826.71 446,827.15 446.5,827.59 447,828.03 447.5,828.48 448,828.92 448.5,829.37 449,829.82 449.5,830.27 450,830.73 450.5,831.18 451,831.64 451.5,832.1 452,832.56 452.5,833.03 453,833.49 453.5,833.96 454,834.43 454.5,834.9 455,835.37 455.5,835.85 456,836.33 456.5,836.81 457,837.29 457.5,837.77 458,838.26 458.5,838.74 459,839.23 459.5,839.72 460,840.22 460.5,840.71 461,841.21 461.5,841.71 462,842.21 462.5,842.71 463,843.21 463.5,843.72 464,844.23 464.5,844.74 465,845.25 465.5,845.76 466,846.28 466.5,846.8 467,847.32 467.5,847.84 468,848.36 468.5,848.89" fill="none" stroke="#0000c8" stroke-width="1.75" stroke-linejoin="round" />
<path d="M155,860.97 155.5,860.54 156,860.11 156.5,859.68 157,859.25 157.5,858.84 158,858.42 158.5,858.01 159,857.6 159.5,857.2 160,856.8 160.5,856.4 161,856.01 161.5,855.62 162,855.23 162.5,854.85 163,854.47 163.5,854.1 164,853.73 164.5,853.36 165,852.99 165.5,852.63 166,852.28 166.5,851.92 167,851.57 167.5,851.22 168,850.88 168.5,850.54 169,850.2 169.5,849.86 170,849.53 170.5,849.2 171,848.88 171.5,848.55 172,848.23 172.5,847.92 173,847.6 173.5,847.29 174,846.98 174.5,846.67 175,846.37 175.5,846.07 176,845.77 176.5,845.48 177,845.18 177.5,844.89 178,844.6 178.5,844.32 179,844.03 179.5,843.75 180,843.47 180.5,843.2 181,842.92 181.5,842.65 182,842.38 182.5,842.12 183,841.85 183.5,841.59 184,841.33 184.5,841.07 185,840.81 185.5,840.55 186,840.3 186.5,840.05 187,839.8 187.5,839.55 188,839.31 188.5,839.06 189,838.82 189.5,838.58 190,838.34 190.5,838.1 191,837.86 191.5,837.63 192,837.4 192.5,837.16 193,836.93 193.5,836.71 194,836.48 194.5,836.25 195,836.03 195.5,835.8 196,835.58 196.5,835.36 197,835.14 197.5,834.92 198,834.7 198.5,834.48 199,834.26 199.5,834.05 200,833.83 200.5,833.62 201,833.41 201.5,833.2 202,832.98 202.5,832.77 203,832.56 203.5,832.35 204,832.15 204.5,831.94 205,831.73 205.5,831.52 206,831.32 206.5,831.11 207,830.9 207.5,830.7 208,830.49 208.5,830.29 209,830.08 209.5,829.88 210,829.67 210.5,829.47 211,829.27 211.5,829.06 212,828.86 212.5,828.66 213,828.45 213.5,828.25 214,828.04 214.5,827.84 215,827.63 215.5,827.43 216,827.22 216.5,827.02 217,826.81 217.5,826.61 218,826.4 218.5,826.19 219,825.99 219.5,825.78 220,825.57 220.5,825.36 221,825.15 221.5,824.95 222,824.74 222.5,824.53 223,824.32 223.5,824.11 224,823.9 224.5,823.68 225,823.47 225.5,823.26 226,823.05 226.5,822.84 227,822.62 227.5,822.41 228,822.2 228.5,821.98 229,821.77 229.5,821.56 230,821.34 230.5,821.13 231,820.91 231.5,820.7 232,820.48 232.5,820.27 233,820.05 233.5,819.84 234,819.62 234.5,819.4 235,819.19 235.5,818.97 236,818.75 236.5,818.54 237,818.32 237.5,818.1 238,817.89 238.5,817.67 239,817.45 239.5,817.23 240,817.02 240.5,816.8 241,816.58 241.5,816.36 242,816.14 242.5,815.93 243,815.71 243.5,815.49 244,815.27 244.5,815.05 245,814.83 245.5,814.61 246,814.4 246.5,814.18 247,813.96 247.5,813.74 248,813.52 248.5,813.3 249,813.09 249.5,812.87 250,812.65 250.5,812.43 251,812.21 251.5,811.99 252,811.77 252.5,811.56 253,811.34 253.5,811.12 254,810.9 254.5,810.68 255,810.47 255.5,810.25 256,810.03 256.5,809.81 257,809.6 257.5,809.38 258,809.16 258.5,808.95 259,808.73 259.5,808.51 260,808.3 260.5,808.08 261,807.86 261.5,807.65 262,807.43 262.5,807.22 263,807 263.5,806.79 264,806.57 264.5,806.36 265,806.14 265.5,805.93 266,805.72 266.5,805.5 267,805.29 267.5,805.08 268,804.86 268.5,804.65 269,804.44 269.5,804.23 270,804.02 270.5,803.81 271,803.59 271.5,803.38 272,803.17 272.5,802.96 273,802.76 273.5,802.55 274,802.34 274.5,802.13 275,801.92 275.5,801.71 276,801.51 276.5,801.3 277,801.09 277.5,800.89 278,800.68 278.5,800.48 279,800.27 279.5,800.07 280,799.86 280.5,799.66 281,799.46 281.5,799.26 282,799.05 282.5,798.85 283,798.65 283.5,798.45 284,798.25 284.5,798.05 285,797.85 285.5,797.66 286,797.46 286.5,797.26 287,797.06 287.5,796.87 288,796.67 288.5,796.48 289,796.28 289.5,796.09 290,795.9 290.5,795.7 291,795.51 291.5,795.32 292,795.13 292.5,794.94 293,794.75 293.5,794.56 294,794.37 294.5,794.19 295,794 295.5,793.81 296,793.63 296.5,793.44 297,793.26 297.5,793.08 298,792.89 298.5,792.71 299,792.53 299.5,792.35 300,792.17 300.5,791.99 301,791.81 301.5,791.63 302,791.46 302.5,791.28 303,791.11 303.5,790.93 304,790.76 304.5,790.59 305,790.41 305.5,790.24 306,790.07 306.5,789.9 307,789.73 307.5,789.57 308,789.4 308.5,789.23 309,789.07 309.5,788.9 310,788.74 310.5,788.58 311,788.41 311.5,788.25 312,788.09 312.5,787.93 313,787.78 313.5,787.62 314,787.46 314.5,787.31 315,787.15 315.5,787 316,786.85 316.5,786.69 317,786.54 317.5,786.39 318,786.25 318.5,786.1 319,785.95 319.5,785.81 320,785.66 320.5,785.52 321,785.37 321.5,785.23 322,785.09 322.5,784.95 323,784.81 323.5,784.68 324,784.54 324.5,784.41 325,784.27 325.5,784.14 326,784.01 326.5,783.88 327,783.75 327.5,783.62 328,783.49 328.5,783.36 329,783.24 329.5,783.11 330,782.99 330.5,782.87 331,782.75 331.5,782.63 332,782.51 332.5,782.39 333,782.28 333.5,782.16 334,782.05 334.5,781.94 335,781.83 335.5,781.72 336,781.61 336.5,781.5 337,781.4 337.5,781.29 338,781.19 338.5,781.09 339,780.99 339.5,780.89 340,780.79 340.5,780.69 341,780.59 341.5,780.5 342,780.41 342.5,780.32 343,780.23 343.5,780.14 344,780.05 344.5,779.96 345,779.88 345.5,779.79 346,779.71 346.5,779.63 347,779.55 347.5,779.47 348,779.4 348.5,779.32 349,779.25 349.5,779.18 350,779.1 350.5,779.03 351,778.97 351.5,778.9 352,778.84 352.5,778.77 353,778.71 353.5,778.65 354,778.59 354.5,778.53 355,778.48 355.5,778.42 356,778.37 356.5,778.32 357,778.27 357.5,778.22 358,778.17 358.5,778.13 359,778.08 359.5,778.04 360,778 360.5,777.96 361,777.92 361.5,777.89 362,777.85 362.5,777.82 363,777.79 363.5,777.76 364,777.73 364.5,777.71 365,777.68 365.5,777.66 366,777.64 366.5,777.62 367,777.6 367.5,777.59 368,777.57 368.5,777.56 369,777.55 369.5,777.54 370,777.53 370.5,777.53 371,777.52 371.5,777.52 372,777.52 372.5,777.53 373,777.53 373.5,777.54 374,777.54 374.5,777.55 375,777.57 375.5,777.58 376,777.59 376.5,777.61 377,777.63 377.5,777.65 378,777.67 378.5,777.7 379,777.73 379.5,777.76 380,777.79 380.5,777.82 381,777.86 381.5,777.89 382,777.93 382.5,777.97 383,778.02 383.5,778.06 384,778.11 384.5,778.16 385,778.21 385.5,778.26 386,778.32 386.5,778.38 387,778.44 387.5,778.5 388,778.56 388.5,778.63 389,778.7 389.5,778.77 390,778.84 390.5,778.92 391,779 391.5,779.08 392,779.16 392.5,779.24 393,779.33 393.5,779.42 394,779.51 394.5,779.6 395,779.7 395.5,779.8 396,779.9 396.5,780 397,780.11 397.5,780.21 398,780.32 398.5,780.43 399,780.55 399.5,780.67 400,780.79 400.5,780.91 401,781.03 401.5,781.16 402,781.29 402.5,781.42 403,781.55 403.5,781.69 404,781.83 404.5,781.97 405,782.11 405.5,782.26 406,782.41 406.5,782.56 407,782.72 407.5,782.87 408,783.03 408.5,783.19 409,783.36 409.5,783.53 410,783.7 410.5,783.87 411,784.04 411.5,784.22 412,784.4 412.5,784.58 413,784.77 413.5,784.96 414,785.15 414.5,785.34 415,785.54 415.5,785.74 416,785.94 416.5,786.14 417,786.35 417.5,786.56 418,786.78 418.5,786.99 419,787.21 419.5,787.43 420,787.66 420.5,787.88 421,788.11 421.5,788.35 422,788.58 422.5,788.82 423,789.06 423.5,789.31 424,789.55 424.5,789.8 425,790.06 425.5,790.31 426,790.57 426.5,790.83 427,791.1 427.5,791.36 428,791.64 428.5,791.91 429,792.19 429.5,792.47 430,792.75 430.5,793.04 431,793.32 431.5,793.62 432,793.91 432.5,794.21 433,794.51 433.5,794.82 434,795.12 434.5,795.43 435,795.75 435.5,796.06 436,796.38 436.5,796.71 437,797.03 437.5,797.36 438,797.7 438.5,798.03 439,798.37 439.5,798.71 440,799.06 440.5,799.41 441,799.76 441.5,800.12 442,800.47 442.5,800.84 443,801.2 443.5,801.57 444,801.94 444.5,802.32 445,802.7 445.5,803.08 446,803.46 446.5,803.85 447,804.24 447.5,804.64 448,805.04 448.5,805.44 449,805.85 449.5,806.26 450,806.67 450.5,807.08 451,807.5 451.5,807.93 452,808.35 452.5,808.78 453,809.22 453.5,809.65 454,810.09 454.5,810.54 455,810.99 455.5,811.44 456,811.89 456.5,812.35 457,812.81 457.5,813.28 458,813.75 458.5,814.22 459,814.7 459.5,815.18 460,815.66 460.5,816.15 461,816.64 461.5,817.13 462,817.63 462.5,818.13 463,818.64 463.5,819.15 464,819.66 464.5,820.18 465,820.7 465.5,821.22 466,821.75 466.5,822.28 467,822.82 467.5,823.36 468,823.9 468.5,824.45" fill="none" stroke="#0000c8" stroke-width="1.75" stroke-linejoin="round" />
<path d="M155,860.01 155.5,859.59 156,859.16 156.5,858.74 157,858.33 157.5,857.91 158,857.5 158.5,857.1 159,856.7 159.5,856.3 160,855.91 160.5,855.52 161,855.13 161.5,854.75 162,854.37 162.5,853.99 163,853.62 163.5,853.25 164,852.89 164.5,852.52 165,852.16 165.5,851.81 166,851.46 166.5,851.11 167,850.76 167.5,850.42 168,850.08 168.5,849.74 169,849.41 169.5,849.08 170,848.75 170.5,848.43 171,848.1 171.5,847.78 172,847.47 172.5,847.16 173,846.84 173.5,846.54 174,846.23 174.5,845.93 175,845.63 175.5,845.33 176,845.04 176.5,844.75 177,844.46 177.5,844.17 178,843.88 178.5,843.6 179,843.32 179.5,843.04 180,842.77 180.5,842.49 181,842.22 181.5,841.95 182,841.69 182.5,841.42 183,841.16 183.5,840.9 184,840.64 184.5,840.39 185,840.13 185.5,839.88 186,839.63 186.5,839.38 187,839.13 187.5,838.88 188,838.64 188.5,838.4 189,838.16 189.5,837.92 190,837.68 190.5,837.45 191,837.21 191.5,836.98 192,836.75 192.5,836.52 193,836.29 193.5,836.06 194,835.84 194.5,835.61 195,835.39 195.5,835.17 196,834.94 196.5,834.72 197,834.51 197.5,834.29 198,834.07 198.5,833.85 199,833.64 199.5,833.43 200,833.21 200.5,833 201,832.79 201.5,832.58 202,832.37 202.5,832.16 203,831.95 203.5,831.74 204,831.53 204.5,831.33 205,831.12 205.5,830.92 206,830.71 206.5,830.51 207,830.3 207.5,830.1 208,829.89 208.5,829.69 209,829.49 209.5,829.28 210,829.08 210.5,828.88 211,828.68 211.5,828.47 212,828.27 212.5,828.07 213,827.86 213.5,827.66 214,827.46 214.5,827.26 215,827.05 215.5,826.85 216,826.65 216.5,826.44 217,826.24 217.5,826.03 218,825.83 218.5,825.62 219,825.42 219.5,825.21 220,825.01 220.5,824.8 221,824.59 221.5,824.39 222,824.18 222.5,823.97 223,823.76 223.5,823.55 224,823.34 224.5,823.13 225,822.93 225.5,822.72 226,822.5 226.5,822.29 227,822.08 227.5,821.87 228,821.66 228.5,821.45 229,821.24 229.5,821.03 230,820.81 230.5,820.6 231,820.39 231.5,820.17 232,819.96 232.5,819.75 233,819.53 233.5,819.32 234,819.11 234.5,818.89 235,818.68 235.5,818.46 236,818.25 236.5,818.03 237,817.82 237.5,817.6 238,817.38 238.5,817.17 239,816.95 239.5,816.74 240,816.52 240.5,816.3 241,816.09 241.5,815.87 242,815.66 242.5,815.44 243,815.22 243.5,815 244,814.79 244.5,814.57 245,814.35 245.5,814.14 246,813.92 246.5,813.7 247,813.48 247.5,813.27 248,813.05 248.5,812.83 249,812.61 249.5,812.4 250,812.18 250.5,811.96 251,811.75 251.5,811.53 252,811.31 252.5,811.09 253,810.88 253.5,810.66 254,810.44 254.5,810.22 255,810.01 255.5,809.79 256,809.57 256.5,809.35 257,809.14 257.5,808.92 258,808.7 258.5,808.49 259,808.27 259.5,808.05 260,807.84 260.5,807.62 261,807.41 261.5,807.19 262,806.97 262.5,806.76 263,806.54 263.5,806.33 264,806.11 264.5,805.9 265,805.68 265.5,805.47 266,805.25 266.5,805.04 267,804.82 267.5,804.61 268,804.4 268.5,804.18 269,803.97 269.5,803.76 270,803.54 270.5,803.33 271,803.12 271.5,802.91 272,802.7 272.5,802.48 273,802.27 273.5,802.06 274,801.85 274.5,801.64 275,801.43 275.5,801.22 276,801.01 276.5,800.8 277,800.59 277.5,800.38 278,800.18 278.5,799.97 279,799.76 279.5,799.55 280,799.35 280.5,799.14 281,798.93 281.5,798.73 282,798.52 282.5,798.32 283,798.11 283.5,797.91 284,797.7 284.5,797.5 285,797.3 285.5,797.1 286,796.89 286.5,796.69 287,796.49 287.5,796.29 288,796.09 288.5,795.89 289,795.69 289.5,795.49 290,795.29 290.5,795.09 291,794.9 291.5,794.7 292,794.5 292.5,794.31 293,794.11 293.5,793.92 294,793.72 294.5,793.53 295,793.33 295.5,793.14 296,792.95 296.5,792.76 297,792.57 297.5,792.37 298,792.18 298.5,792 299,791.81 299.5,791.62 300,791.43 300.5,791.24 301,791.06 301.5,790.87 302,790.69 302.5,790.5 303,790.32 303.5,790.13 304,789.95 304.5,789.77 305,789.59 305.5,789.41 306,789.23 306.5,789.05 307,788.87 307.5,788.69 308,788.51 308.5,788.34 309,788.16 309.5,787.98 310,787.81 310.5,787.64 311,787.46 311.5,787.29 312,787.12 312.5,786.95 313,786.78 313.5,786.61 314,786.44 314.5,786.27 315,786.1 315.5,785.94 316,785.77 316.5,785.61 317,785.44 317.5,785.28 318,785.12 318.5,784.96 319,784.8 319.5,784.64 320,784.48 320.5,784.32 321,784.16 321.5,784.01 322,783.85 322.5,783.7 323,783.54 323.5,783.39 324,783.24 324.5,783.09 325,782.94 325.5,782.79 326,782.64 326.5,782.49 327,782.34 327.5,782.2 328,782.05 328.5,781.91 329,781.77 329.5,781.63 330,781.48 330.5,781.35 331,781.21 331.5,781.07 332,780.93 332.5,780.79 333,780.66 333.5,780.53 334,780.39 334.5,780.26 335,780.13 335.5,780 336,779.87 336.5,779.74 337,779.62 337.5,779.49 338,779.37 338.5,779.24 339,779.12 339.5,779 340,778.88 340.5,778.76 341,778.64 341.5,778.52 342,778.41 342.5,778.29 343,778.18 343.5,778.06 344,777.95 344.5,777.84 345,777.73 345.5,777.63 346,777.52 346.5,777.41 347,777.31 347.5,777.2 348,777.1 348.5,777 349,776.9 349.5,776.8 350,776.7 350.5,776.61 351,776.51 351.5,776.42 352,776.33 352.5,776.24 353,776.15 353.5,776.06 354,775.97 354.5,775.88 355,775.8 355.5,775.72 356,775.63 356.5,775.55 357,775.47 357.5,775.4 358,775.32 358.5,775.25 359,775.17 359.5,775.1 360,775.03 360.5,774.96 361,774.89 361.5,774.82 362,774.76 362.5,774.7 363,774.63 363.5,774.57 364,774.51 364.5,774.46 365,774.4 365.5,774.35 366,774.29 366.5,774.24 367,774.19 367.5,774.14 368,774.1 368.5,774.05 369,774.01 369.5,773.97 370,773.92 370.5,773.89 371,773.85 371.5,773.81 372,773.78 372.5,773.75 373,773.72 373.5,773.69 374,773.66 374.5,773.64 375,773.61 375.5,773.59 376,773.57 376.5,773.55 377,773.53 377.5,773.52 378,773.51 378.5,773.49 379,773.48 379.5,773.48 380,773.47 380.5,773.47 381,773.46 381.5,773.46 382,773.46 382.5,773.47 383,773.47 383.5,773.48 384,773.49 384.5,773.5 385,773.51 385.5,773.53 386,773.54 386.5,773.56 387,773.58 387.5,773.6 388,773.63 388.5,773.65 389,773.68 389.5,773.71 390,773.74 390.5,773.78 391,773.81 391.5,773.85 392,773.89 392.5,773.93 393,773.98 393.5,774.02 394,774.07 394.5,774.12 395,774.17 395.5,774.23 396,774.29 396.5,774.34 397,774.41 397.5,774.47 398,774.53 398.5,774.6 399,774.67 399.5,774.74 400,774.82 400.5,774.89 401,774.97 401.5,775.05 402,775.13 402.5,775.22 403,775.31 403.5,775.4 404,775.49 404.5,775.58 405,775.68 405.5,775.78 406,775.88 406.5,775.98 407,776.09 407.5,776.2 408,776.31 408.5,776.42 409,776.53 409.5,776.65 410,776.77 410.5,776.89 411,777.02 411.5,777.14 412,777.27 412.5,777.41 413,777.54 413.5,777.68 414,777.82 414.5,777.96 415,778.1 415.5,778.25 416,778.4 416.5,778.55 417,778.7 417.5,778.86 418,779.02 418.5,779.18 419,779.34 419.5,779.51 420,779.68 420.5,779.85 421,780.03 421.5,780.2 422,780.38 422.5,780.57 423,780.75 423.5,780.94 424,781.13 424.5,781.32 425,781.52 425.5,781.72 426,781.92 426.5,782.12 427,782.33 427.5,782.54 428,782.75 428.5,782.96 429,783.18 429.5,783.4 430,783.62 430.5,783.85 431,784.08 431.5,784.31 432,784.54 432.5,784.78 433,785.02 433.5,785.26 434,785.5 434.5,785.75 435,786 435.5,786.26 436,786.51 436.5,786.77 437,787.04 437.5,787.3 438,787.57 438.5,787.84 439,788.12 439.5,788.39 440,788.67 440.5,788.96 441,789.24 441.5,789.53 442,789.82 442.5,790.12 443,790.42 443.5,790.72 444,791.02 444.5,791.33 445,791.64 445.5,791.95 446,792.27 446.5,792.59 447,792.91 447.5,793.24 448,793.56 448.5,793.9 449,794.23 449.5,794.57 450,794.91 450.5,795.25 451,795.6 451.5,795.95 452,796.31 452.5,796.66 453,797.02 453.5,797.39 454,797.75 454.5,798.12 455,798.5 455.5,798.87 456,799.25 456.5,799.64 457,800.02 457.5,800.41 458,800.8 458.5,801.2 459,801.6 459.5,802 460,802.41 460.5,802.82 461,803.23 461.5,803.65 462,804.07 462.5,804.49 463,804.92 463.5,805.35 464,805.78 464.5,806.22 465,806.66 465.5,807.1 466,807.55 466.5,808 467,808.45 467.5,808.91 468,809.37 468.5,809.83" fill="none" stroke="#0000c8" stroke-width="1.75" stroke-linejoin="round" />
</g>
<line x1="308.62" y1="720.5" x2="308.62" y2="742" stroke="#999" stroke-width="1"/>
<line x1="437.15" y1="720.5" x2="437.15" y2="742" stroke="#999" stroke-width="1"/>
<line x1="186.35" y1="938.5" x2="186.35" y2="935.3" stroke="#2a2a2a" stroke-width="1"/>
<line x1="186.35" y1="720.5" x2="186.35" y2="723.7" stroke="#2a2a2a" stroke-width="1"/>
<line x1="249.05" y1="938.5" x2="249.05" y2="935.3" stroke="#2a2a2a" stroke-width="1"/>
<line x1="249.05" y1="720.5" x2="249.05" y2="723.7" stroke="#2a2a2a" stroke-width="1"/>
<line x1="311.75" y1="938.5" x2="311.75" y2="935.3" stroke="#2a2a2a" stroke-width="1"/>
<line x1="311.75" y1="720.5" x2="311.75" y2="723.7" stroke="#2a2a2a" stroke-width="1"/>
<line x1="374.45" y1="938.5" x2="374.45" y2="935.3" stroke="#2a2a2a" stroke-width="1"/>
<line x1="374.45" y1="720.5" x2="374.45" y2="723.7" stroke="#2a2a2a" stroke-width="1"/>
<line x1="437.15" y1="938.5" x2="437.15" y2="935.3" stroke="#2a2a2a" stroke-width="1"/>
<line x1="437.15" y1="720.5" x2="437.15" y2="723.7" stroke="#2a2a2a" stroke-width="1"/>
<line x1="155" y1="764.1" x2="158.2" y2="764.1" stroke="#2a2a2a" stroke-width="1"/>
<line x1="155" y1="807.7" x2="158.2" y2="807.7" stroke="#2a2a2a" stroke-width="1"/>
<line x1="155" y1="851.3" x2="158.2" y2="851.3" stroke="#2a2a2a" stroke-width="1"/>
<line x1="155" y1="894.9" x2="158.2" y2="894.9" stroke="#2a2a2a" stroke-width="1"/>
<line x1="468.5" y1="764.1" x2="465.3" y2="764.1" stroke="#2a2a2a" stroke-width="1"/>
<line x1="468.5" y1="807.7" x2="465.3" y2="807.7" stroke="#2a2a2a" stroke-width="1"/>
<line x1="468.5" y1="851.3" x2="465.3" y2="851.3" stroke="#2a2a2a" stroke-width="1"/>
<line x1="468.5" y1="894.9" x2="465.3" y2="894.9" stroke="#2a2a2a" stroke-width="1"/>
<line x1="154.5" y1="720.5" x2="469" y2="720.5" stroke="#2a2a2a" stroke-width="1"/>
<line x1="154.5" y1="938.5" x2="469" y2="938.5" stroke="#2a2a2a" stroke-width="1"/>
<line x1="155" y1="720.5" x2="155" y2="938.5" stroke="#2a2a2a" stroke-width="1"/>
<line x1="468.5" y1="720.5" x2="468.5" y2="938.5" stroke="#2a2a2a" stroke-width="1"/>
<text x="52.3" y="190.09" font-family='"Liberation Serif", serif' font-size="18" text-anchor="end" fill="#000" stroke="#000" stroke-width="0.25" >0</text>
<text x="531.2" y="189.49" font-family='"Liberation Serif", serif' font-size="18" text-anchor="start" fill="#000" stroke="#000" stroke-width="0.25" >0</text>
<text x="52.3" y="154.64" font-family='"Liberation Serif", serif' font-size="18" text-anchor="end" fill="#000" stroke="#000" stroke-width="0.25" >10</text>
<text x="531.2" y="154.04" font-family='"Liberation Serif", serif' font-size="18" text-anchor="start" fill="#000" stroke="#000" stroke-width="0.25" >10</text>
<text x="52.3" y="119.19" font-family='"Liberation Serif", serif' font-size="18" text-anchor="end" fill="#000" stroke="#000" stroke-width="0.25" >20</text>
<text x="531.2" y="118.59" font-family='"Liberation Serif", serif' font-size="18" text-anchor="start" fill="#000" stroke="#000" stroke-width="0.25" >20</text>
<text x="52.3" y="83.74" font-family='"Liberation Serif", serif' font-size="18" text-anchor="end" fill="#000" stroke="#000" stroke-width="0.25" >30</text>
<text x="531.2" y="83.14" font-family='"Liberation Serif", serif' font-size="18" text-anchor="start" fill="#000" stroke="#000" stroke-width="0.25" >30</text>
<text x="52.3" y="48.29" font-family='"Liberation Serif", serif' font-size="18" text-anchor="end" fill="#000" stroke="#000" stroke-width="0.25" >40</text>
<text x="531.2" y="47.69" font-family='"Liberation Serif", serif' font-size="18" text-anchor="start" fill="#000" stroke="#000" stroke-width="0.25" >40</text>
<text x="52.3" y="12.84" font-family='"Liberation Serif", serif' font-size="18" text-anchor="end" fill="#000" stroke="#000" stroke-width="0.25" >50</text>
<text x="531.2" y="12.24" font-family='"Liberation Serif", serif' font-size="18" text-anchor="start" fill="#000" stroke="#000" stroke-width="0.25" >50</text>
<text x="52.3" y="366.69" font-family='"Liberation Serif", serif' font-size="18" text-anchor="end" fill="#000" stroke="#000" stroke-width="0.25" >0</text>
<text x="52.3" y="326.39" font-family='"Liberation Serif", serif' font-size="18" text-anchor="end" fill="#000" stroke="#000" stroke-width="0.25" >10</text>
<text x="52.3" y="286.09" font-family='"Liberation Serif", serif' font-size="18" text-anchor="end" fill="#000" stroke="#000" stroke-width="0.25" >20</text>
<text x="52.3" y="245.79" font-family='"Liberation Serif", serif' font-size="18" text-anchor="end" fill="#000" stroke="#000" stroke-width="0.25" >30</text>
<text x="52.3" y="205.49" font-family='"Liberation Serif", serif' font-size="18" text-anchor="end" fill="#000" stroke="#000" stroke-width="0.25" >40</text>
<text x="531.2" y="366.49" font-family='"Liberation Serif", serif' font-size="18" text-anchor="start" fill="#000" stroke="#000" stroke-width="0.25" >0</text>
<text x="531.2" y="296.49" font-family='"Liberation Serif", serif' font-size="18" text-anchor="start" fill="#000" stroke="#000" stroke-width="0.25" >50</text>
<text x="531.2" y="226.49" font-family='"Liberation Serif", serif' font-size="18" text-anchor="start" fill="#000" stroke="#000" stroke-width="0.25" >100</text>
<text x="56.5" y="380.1" font-family='"Liberation Serif", serif' font-size="18" text-anchor="middle" fill="#000" stroke="#000" stroke-width="0.25" >0</text>
<text x="292.5" y="380.1" font-family='"Liberation Serif", serif' font-size="18" text-anchor="middle" fill="#000" stroke="#000" stroke-width="0.25" >0</text>
<text x="143.91" y="380.1" font-family='"Liberation Serif", serif' font-size="18" text-anchor="middle" fill="#000" stroke="#000" stroke-width="0.25" >50</text>
<text x="379.91" y="380.1" font-family='"Liberation Serif", serif' font-size="18" text-anchor="middle" fill="#000" stroke="#000" stroke-width="0.25" >50</text>
<text x="231.31" y="380.1" font-family='"Liberation Serif", serif' font-size="18" text-anchor="middle" fill="#000" stroke="#000" stroke-width="0.25" >100</text>
<text x="467.31" y="380.1" font-family='"Liberation Serif", serif' font-size="18" text-anchor="middle" fill="#000" stroke="#000" stroke-width="0.25" >100</text>
<text x="151.3" y="448.72" font-family='"Liberation Serif", serif' font-size="22" text-anchor="end" fill="#000" stroke="#000" stroke-width="0.25" >0.5</text>
<text x="151.3" y="516.25" font-family='"Liberation Serif", serif' font-size="22" text-anchor="end" fill="#000" stroke="#000" stroke-width="0.25" >0</text>
<text x="151.3" y="583.79" font-family='"Liberation Serif", serif' font-size="22" text-anchor="end" fill="#000" stroke="#000" stroke-width="0.25" >−0.5</text>
<text x="151.3" y="651.32" font-family='"Liberation Serif", serif' font-size="22" text-anchor="end" fill="#000" stroke="#000" stroke-width="0.25" >−1</text>
<text x="155.8" y="667.6" font-family='"Liberation Serif", serif' font-size="22" text-anchor="middle" fill="#000" stroke="#000" stroke-width="0.25" >0</text>
<text x="263.07" y="667.6" font-family='"Liberation Serif", serif' font-size="22" text-anchor="middle" fill="#000" stroke="#000" stroke-width="0.25" >50</text>
<text x="370.33" y="667.6" font-family='"Liberation Serif", serif' font-size="22" text-anchor="middle" fill="#000" stroke="#000" stroke-width="0.25" >100</text>
<text x="477.6" y="667.6" font-family='"Liberation Serif", serif' font-size="22" text-anchor="middle" fill="#000" stroke="#000" stroke-width="0.25" >150</text>
<text x="150.6" y="728.02" font-family='"Liberation Serif", serif' font-size="20" text-anchor="end" fill="#000" stroke="#000" stroke-width="0.25" >3</text>
<text x="150.6" y="771.62" font-family='"Liberation Serif", serif' font-size="20" text-anchor="end" fill="#000" stroke="#000" stroke-width="0.25" >2</text>
<text x="150.6" y="815.22" font-family='"Liberation Serif", serif' font-size="20" text-anchor="end" fill="#000" stroke="#000" stroke-width="0.25" >1</text>
<text x="150.6" y="858.82" font-family='"Liberation Serif", serif' font-size="20" text-anchor="end" fill="#000" stroke="#000" stroke-width="0.25" >0</text>
<text x="150.6" y="902.42" font-family='"Liberation Serif", serif' font-size="20" text-anchor="end" fill="#000" stroke="#000" stroke-width="0.25" >−1</text>
<text x="150.6" y="946.02" font-family='"Liberation Serif", serif' font-size="20" text-anchor="end" fill="#000" stroke="#000" stroke-width="0.25" >−2</text>
<text x="186.35" y="960.6" font-family='"Liberation Serif", serif' font-size="20" text-anchor="middle" fill="#000" stroke="#000" stroke-width="0.25" >10</text>
<text x="249.05" y="960.6" font-family='"Liberation Serif", serif' font-size="20" text-anchor="middle" fill="#000" stroke="#000" stroke-width="0.25" >12</text>
<text x="311.75" y="960.6" font-family='"Liberation Serif", serif' font-size="20" text-anchor="middle" fill="#000" stroke="#000" stroke-width="0.25" >14</text>
<text x="374.45" y="960.6" font-family='"Liberation Serif", serif' font-size="20" text-anchor="middle" fill="#000" stroke="#000" stroke-width="0.25" >16</text>
<text x="437.15" y="960.6" font-family='"Liberation Serif", serif' font-size="20" text-anchor="middle" fill="#000" stroke="#000" stroke-width="0.25" >18</text>
<g transform="translate(14.50,129.10) rotate(-90) scale(0.9914,1.0144)"><text font-family='"Liberation Serif", serif' stroke='#000' stroke-width='0.2' font-size="20"><tspan x="0" y="0">L</tspan><tspan x="12" y="10" font-size="15">IR</tspan><tspan x="31" y="0">[L</tspan><tspan x="59.5" y="0">]</tspan></text><circle cx="52.6" cy="2.45" r="3.7" fill="none" stroke="#000" stroke-width="1.2"/><circle cx="52.6" cy="2.45" r="1.1" fill="#000"/></g>
<g transform="translate(575.71,129.00) rotate(-90) scale(0.9946,0.9938)"><text font-family='"Liberation Serif", serif' stroke='#000' stroke-width='0.2' font-size="20"><tspan x="0" y="0">L</tspan><tspan x="11.3" y="10" font-size="15">X</tspan><tspan x="31.5" y="0">[L</tspan><tspan x="59.5" y="0">]</tspan></text><circle cx="52.8" cy="2.2" r="3.9" fill="none" stroke="#000" stroke-width="1.2"/><circle cx="52.8" cy="2.2" r="1.1" fill="#000"/></g>
<g transform="translate(15.59,300.78) rotate(-90) scale(0.9559,1.0567)"><text font-family='"Liberation Serif", serif' stroke='#000' stroke-width='0.2' font-size="20" x="0" y="0">B [G]</text></g>
<g transform="translate(586.08,344.65) rotate(-90) scale(1.0035,0.9869)"><text font-family='"Liberation Serif", serif' stroke='#000' stroke-width='0.2' font-size="20"><tspan x="0" y="0">c</tspan><tspan x="8" y="10" font-size="16">inj</tspan><tspan x="29.5" y="0">[x 10</tspan><tspan x="69.5" y="-10" font-size="16">42</tspan><tspan x="89" y="0">γ</tspan><tspan x="98" y="-10" font-size="16">−1</tspan><tspan x="114.5" y="0">s</tspan><tspan x="122.5" y="-10" font-size="16">−1</tspan><tspan x="139.5" y="0">]</tspan></text></g>
<g transform="translate(91.29,596.95) rotate(-90) scale(0.9944,1.0926)"><text font-family='"Liberation Serif", serif' stroke='#000' stroke-width='0.2' font-size="22"><tspan x="0" y="0">α</tspan><tspan x="15.5" y="0">[ν L</tspan><tspan x="50.5" y="9" font-size="16">ν</tspan><tspan x="64" y="0">~</tspan><tspan x="83" y="0">ν</tspan><tspan x="95" y="-10" font-size="16">α</tspan><tspan x="103" y="0">]</tspan></text></g>
<g transform="translate(108.41,903.25) rotate(-90) scale(1.0011,1.0863)"><text font-family='"Liberation Serif", serif' stroke='#000' stroke-width='0.2' font-size="20"><tspan x="0" y="0">log</tspan><tspan x="27.5" y="9" font-size="15">10</tspan><tspan x="42.5" y="0">(ν</tspan><tspan x="62" y="0">L</tspan><tspan x="74.5" y="9.5" font-size="15">ν</tspan><tspan x="86" y="0">/</tspan><tspan x="96" y="0">L</tspan><tspan x="107.5" y="9.5" font-size="16">sun</tspan><tspan x="131.5" y="0">)</tspan></text></g>
<g transform="translate(112.20,404.33) scale(1.0721,1.0448)"><text font-family='"Liberation Serif", serif' stroke='#000' stroke-width='0.2' font-size="20" x="0" y="0">time [minutes]</text></g>
<g transform="translate(348.30,404.33) scale(1.0644,1.0448)"><text font-family='"Liberation Serif", serif' stroke='#000' stroke-width='0.2' font-size="20" x="0" y="0">time [minutes]</text></g>
<g transform="translate(250.00,697.34) scale(1.0471,1.0216)"><text font-family='"Liberation Serif", serif' stroke='#000' stroke-width='0.2' font-size="22" x="0" y="0">time [minutes]</text></g>
<g transform="translate(256.13,985.34) scale(1.0610,1.0333)"><text font-family='"Liberation Serif", serif' stroke='#000' stroke-width='0.2' font-size="21"><tspan x="0" y="0">log</tspan><tspan x="26.5" y="9" font-size="16">10</tspan><tspan x="41.5" y="0">(ν/Hz)</tspan></text></g>
<g transform="translate(192.16,471.60) scale(0.9900,0.9714)"><text font-family='"Liberation Serif", serif' stroke='#000' stroke-width='0.2' font-size="22"><tspan x="0" y="0">α</tspan><tspan x="11.2" y="10.3" font-size="17">L</tspan></text></g>
<g transform="translate(245.38,591.98) scale(0.9573,0.9882)"><text font-family='"Liberation Serif", serif' stroke='#000' stroke-width='0.2' font-size="22"><tspan x="0" y="0">α</tspan><tspan x="10.8" y="10.6" font-size="17">X</tspan></text></g>
<g transform="translate(281.03,761.86) scale(0.9720,0.9189)"><text font-family='"Liberation Serif", serif' stroke='#8c8c8c' stroke-width='0.25' font-size="21" fill="#8c8c8c">3.8µm</text></g>
<g transform="translate(398.46,761.76) scale(0.9439,0.9695)"><text font-family='"Liberation Serif", serif' stroke='#8c8c8c' stroke-width='0.25' font-size="21" fill="#8c8c8c">4.1 keV</text></g>
<g transform="translate(429.20,27.79) scale(0.9471,1.0323)"><text font-family='"Liberation Sans", sans-serif' font-size="13.5" fill="#000" stroke="#000" stroke-width="0.3"><tspan x="0" y="0">t</tspan><tspan x="3.9" y="6.3" font-size="11.5">esc</tspan></text></g>
<g transform="translate(453.21,28.27) scale(1.0711,0.9231)"><text font-family='"Liberation Sans", sans-serif' font-size="13" fill="#000" stroke="#000" stroke-width="0.3">= 200 min</text></g>
<g transform="translate(431.70,48.94) scale(0.9674,1.0557)"><text font-family='"Liberation Sans", sans-serif' font-size="13.5" fill="#d82020" stroke="#d82020" stroke-width="0.3"><tspan x="0" y="0">t</tspan><tspan x="3.9" y="6.3" font-size="11.5">esc</tspan></text></g>
<g transform="translate(456.16,49.27) scale(1.0714,0.9231)"><text font-family='"Liberation Sans", sans-serif' font-size="13" fill="#d82020" stroke="#d82020" stroke-width="0.3">= 30 min</text></g>
<g transform="translate(431.70,70.60) scale(0.9674,1.0623)"><text font-family='"Liberation Sans", sans-serif' font-size="13.5" fill="#2020c8" stroke="#2020c8" stroke-width="0.3"><tspan x="0" y="0">t</tspan><tspan x="3.9" y="6.3" font-size="11.5">esc</tspan></text></g>
<g transform="translate(456.16,70.77) scale(1.0714,0.9231)"><text font-family='"Liberation Sans", sans-serif' font-size="13" fill="#2020c8" stroke="#2020c8" stroke-width="0.3">= 10 min</text></g>
</svg></body></html>
